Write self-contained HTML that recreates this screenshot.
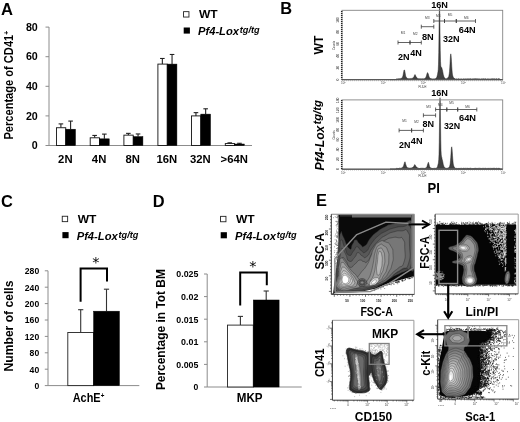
<!DOCTYPE html>
<html><head><meta charset="utf-8"><title>Figure</title>
<style>html,body{margin:0;padding:0;background:#fff}svg{display:block;will-change:transform}text{font-family:"Liberation Sans",sans-serif}</style>
</head><body>
<svg width="520" height="422" viewBox="0 0 520 422">
<rect width="520" height="422" fill="#fff"/>
<g id="panelA">
<text x="1.0" y="14.6" font-size="16.6" text-anchor="start" fill="#000" font-weight="bold" >A</text>
<line x1="49" y1="27" x2="49" y2="145.5" stroke="#8c8c8c" stroke-width="1" />
<line x1="49" y1="145.5" x2="252" y2="145.5" stroke="#8c8c8c" stroke-width="1" />
<line x1="45.5" y1="145.5" x2="49" y2="145.5" stroke="#8c8c8c" stroke-width="1" />
<text x="37.8" y="149.2" font-size="10.8" text-anchor="end" fill="#000" font-weight="bold" textLength="5.95" lengthAdjust="spacingAndGlyphs" >0</text>
<line x1="45.5" y1="115.9" x2="49" y2="115.9" stroke="#8c8c8c" stroke-width="1" />
<text x="37.8" y="119.60000000000001" font-size="10.8" text-anchor="end" fill="#000" font-weight="bold" textLength="11.9" lengthAdjust="spacingAndGlyphs" >20</text>
<line x1="45.5" y1="86.3" x2="49" y2="86.3" stroke="#8c8c8c" stroke-width="1" />
<text x="37.8" y="90.0" font-size="10.8" text-anchor="end" fill="#000" font-weight="bold" textLength="11.9" lengthAdjust="spacingAndGlyphs" >40</text>
<line x1="45.5" y1="56.7" x2="49" y2="56.7" stroke="#8c8c8c" stroke-width="1" />
<text x="37.8" y="60.400000000000006" font-size="10.8" text-anchor="end" fill="#000" font-weight="bold" textLength="11.9" lengthAdjust="spacingAndGlyphs" >60</text>
<line x1="45.5" y1="27.099999999999994" x2="49" y2="27.099999999999994" stroke="#8c8c8c" stroke-width="1" />
<text x="37.8" y="30.799999999999994" font-size="10.8" text-anchor="end" fill="#000" font-weight="bold" textLength="11.9" lengthAdjust="spacingAndGlyphs" >80</text>
<line x1="60.9" y1="127.74000000000001" x2="60.9" y2="123.89200000000001" stroke="#222" stroke-width="1.1" />
<line x1="58.6" y1="123.89200000000001" x2="63.199999999999996" y2="123.89200000000001" stroke="#222" stroke-width="1.1" />
<line x1="70.6" y1="129.22" x2="70.6" y2="121.08" stroke="#222" stroke-width="1.1" />
<line x1="68.3" y1="121.08" x2="72.89999999999999" y2="121.08" stroke="#222" stroke-width="1.1" />
<rect x="56.449999999999996" y="127.74000000000001" width="9.299999999999999" height="17.75999999999999" fill="#fff" stroke="#111" stroke-width="0.9" />
<rect x="65.75" y="129.22" width="9.7" height="16.28" fill="#000" stroke="#000" stroke-width="0.5" />
<text x="65.35" y="162.8" font-size="11.3" text-anchor="middle" fill="#000" font-weight="bold" >2N</text>
<line x1="94.65" y1="137.804" x2="94.65" y2="135.436" stroke="#222" stroke-width="1.1" />
<line x1="92.35000000000001" y1="135.436" x2="96.95" y2="135.436" stroke="#222" stroke-width="1.1" />
<line x1="104.35" y1="138.84" x2="104.35" y2="134.104" stroke="#222" stroke-width="1.1" />
<line x1="102.05" y1="134.104" x2="106.64999999999999" y2="134.104" stroke="#222" stroke-width="1.1" />
<rect x="90.2" y="137.804" width="9.299999999999999" height="7.695999999999998" fill="#fff" stroke="#111" stroke-width="0.9" />
<rect x="99.5" y="138.84" width="9.7" height="6.659999999999997" fill="#000" stroke="#000" stroke-width="0.5" />
<text x="99.1" y="162.8" font-size="11.3" text-anchor="middle" fill="#000" font-weight="bold" >4N</text>
<line x1="128.35" y1="135.14" x2="128.35" y2="133.36399999999998" stroke="#222" stroke-width="1.1" />
<line x1="126.05" y1="133.36399999999998" x2="130.65" y2="133.36399999999998" stroke="#222" stroke-width="1.1" />
<line x1="138.04999999999998" y1="136.62" x2="138.04999999999998" y2="133.95600000000002" stroke="#222" stroke-width="1.1" />
<line x1="135.74999999999997" y1="133.95600000000002" x2="140.35" y2="133.95600000000002" stroke="#222" stroke-width="1.1" />
<rect x="123.89999999999999" y="135.14" width="9.299999999999999" height="10.360000000000014" fill="#fff" stroke="#111" stroke-width="0.9" />
<rect x="133.2" y="136.62" width="9.7" height="8.879999999999995" fill="#000" stroke="#000" stroke-width="0.5" />
<text x="132.79999999999998" y="162.8" font-size="11.3" text-anchor="middle" fill="#000" font-weight="bold" >8N</text>
<line x1="162.35" y1="64.1" x2="162.35" y2="58.47599999999999" stroke="#222" stroke-width="1.1" />
<line x1="160.04999999999998" y1="58.47599999999999" x2="164.65" y2="58.47599999999999" stroke="#222" stroke-width="1.1" />
<line x1="172.04999999999998" y1="64.1" x2="172.04999999999998" y2="54.48" stroke="#222" stroke-width="1.1" />
<line x1="169.74999999999997" y1="54.48" x2="174.35" y2="54.48" stroke="#222" stroke-width="1.1" />
<rect x="157.9" y="64.1" width="9.299999999999999" height="81.4" fill="#fff" stroke="#111" stroke-width="0.9" />
<rect x="167.2" y="64.1" width="9.7" height="81.4" fill="#000" stroke="#000" stroke-width="0.5" />
<text x="166.79999999999998" y="162.8" font-size="11.3" text-anchor="middle" fill="#000" font-weight="bold" >16N</text>
<line x1="195.95000000000002" y1="115.9" x2="195.95000000000002" y2="112.644" stroke="#222" stroke-width="1.1" />
<line x1="193.65" y1="112.644" x2="198.25000000000003" y2="112.644" stroke="#222" stroke-width="1.1" />
<line x1="205.65" y1="114.124" x2="205.65" y2="108.79599999999999" stroke="#222" stroke-width="1.1" />
<line x1="203.35" y1="108.79599999999999" x2="207.95000000000002" y2="108.79599999999999" stroke="#222" stroke-width="1.1" />
<rect x="191.50000000000003" y="115.9" width="9.299999999999999" height="29.599999999999994" fill="#fff" stroke="#111" stroke-width="0.9" />
<rect x="200.8" y="114.124" width="9.7" height="31.376000000000005" fill="#000" stroke="#000" stroke-width="0.5" />
<text x="200.4" y="162.8" font-size="11.3" text-anchor="middle" fill="#000" font-weight="bold" >32N</text>
<line x1="229.75" y1="143.576" x2="229.75" y2="142.83599999999998" stroke="#222" stroke-width="1.1" />
<line x1="227.45" y1="142.83599999999998" x2="232.05" y2="142.83599999999998" stroke="#222" stroke-width="1.1" />
<line x1="239.45" y1="144.02" x2="239.45" y2="143.28" stroke="#222" stroke-width="1.1" />
<line x1="237.14999999999998" y1="143.28" x2="241.75" y2="143.28" stroke="#222" stroke-width="1.1" />
<rect x="225.3" y="143.576" width="9.299999999999999" height="1.9240000000000066" fill="#fff" stroke="#111" stroke-width="0.9" />
<rect x="234.6" y="144.02" width="9.7" height="1.4799999999999898" fill="#000" stroke="#000" stroke-width="0.5" />
<text x="234.2" y="162.8" font-size="11.3" text-anchor="middle" fill="#000" font-weight="bold" >&gt;64N</text>
<rect x="183.55" y="11.65" width="5.4" height="5.4" fill="#fff" stroke="#222" stroke-width="0.9" />
<text x="199" y="18.3" font-size="11.3" text-anchor="start" fill="#000" font-weight="bold" textLength="18.7" lengthAdjust="spacingAndGlyphs" >WT</text>
<rect x="183.7" y="27.5" width="6.2" height="6.1" fill="#000" stroke="none" stroke-width="0" />
<text x="198.0" y="35.2" font-size="11.2" text-anchor="start" fill="#000" font-weight="bold" font-style="italic" textLength="41" lengthAdjust="spacingAndGlyphs" >Pf4-Lox</text>
<text x="239.8" y="33.1" font-size="9.2" text-anchor="start" fill="#000" font-weight="bold" font-style="italic" textLength="19.8" lengthAdjust="spacingAndGlyphs" >tg/tg</text>
<text x="13.3" y="139.6" font-size="12.3" text-anchor="start" fill="#000" font-weight="bold" textLength="108.8" lengthAdjust="spacingAndGlyphs" transform="rotate(-90 13.3 139.6)" >Percentage of CD41<tspan font-size="7.5" dy="-4">+</tspan></text>
</g>
<g id="panelB">
<text x="280.2" y="13.8" font-size="16.4" text-anchor="start" fill="#000" font-weight="bold" >B</text>
<path d="M390 79.60 L390.00 79.60 L390.25 79.60 L390.50 79.60 L390.75 79.60 L391.00 79.60 L391.25 79.60 L391.50 79.60 L391.75 79.60 L392.00 79.60 L392.25 79.60 L392.50 79.60 L392.75 79.60 L393.00 79.60 L393.25 79.60 L393.50 79.60 L393.75 79.60 L394.00 79.60 L394.25 79.60 L394.50 79.60 L394.75 79.60 L395.00 79.60 L395.25 79.60 L395.50 79.60 L395.75 79.60 L396.00 79.60 L396.25 78.98 L396.50 78.83 L396.75 78.91 L397.00 78.80 L397.25 78.79 L397.50 79.07 L397.75 79.09 L398.00 78.68 L398.25 78.97 L398.50 78.98 L398.75 78.59 L399.00 78.85 L399.25 78.65 L399.50 78.82 L399.75 78.71 L400.00 78.92 L400.25 78.64 L400.50 78.46 L400.75 78.56 L401.00 78.35 L401.25 78.26 L401.50 78.42 L401.75 77.89 L402.00 77.74 L402.25 77.59 L402.50 77.29 L402.75 76.25 L403.00 75.55 L403.25 74.24 L403.50 72.74 L403.75 71.40 L404.00 70.18 L404.25 69.92 L404.50 69.94 L404.75 71.03 L405.00 72.13 L405.25 73.61 L405.50 75.30 L405.75 76.29 L406.00 76.98 L406.25 77.10 L406.50 77.71 L406.75 77.87 L407.00 78.23 L407.25 78.29 L407.50 78.48 L407.75 78.61 L408.00 78.57 L408.25 78.64 L408.50 78.53 L408.75 78.67 L409.00 78.57 L409.25 78.63 L409.50 78.57 L409.75 78.73 L410.00 78.98 L410.25 78.62 L410.50 78.54 L410.75 78.55 L411.00 78.68 L411.25 78.56 L411.50 78.75 L411.75 78.37 L412.00 78.41 L412.25 78.46 L412.50 78.45 L412.75 77.93 L413.00 77.70 L413.25 77.94 L413.50 77.31 L413.75 77.11 L414.00 76.72 L414.25 76.02 L414.50 75.16 L414.75 74.64 L415.00 74.88 L415.25 74.77 L415.50 75.52 L415.75 75.81 L416.00 76.63 L416.25 76.87 L416.50 77.22 L416.75 77.74 L417.00 77.69 L417.25 78.20 L417.50 78.45 L417.75 78.30 L418.00 78.69 L418.25 78.69 L418.50 78.65 L418.75 78.61 L419.00 78.89 L419.25 78.98 L419.50 78.60 L419.75 78.89 L420.00 78.59 L420.25 78.63 L420.50 78.90 L420.75 78.86 L421.00 78.83 L421.25 78.77 L421.50 78.80 L421.75 78.82 L422.00 78.78 L422.25 78.62 L422.50 78.83 L422.75 78.86 L423.00 78.70 L423.25 78.93 L423.50 78.87 L423.75 78.49 L424.00 78.66 L424.25 78.58 L424.50 78.76 L424.75 78.44 L425.00 78.20 L425.25 78.29 L425.50 77.73 L425.75 77.38 L426.00 77.19 L426.25 76.28 L426.50 75.58 L426.75 74.58 L427.00 73.85 L427.25 72.96 L427.50 72.57 L427.75 72.97 L428.00 73.41 L428.25 73.86 L428.50 74.62 L428.75 75.85 L429.00 76.51 L429.25 77.03 L429.50 77.61 L429.75 77.92 L430.00 78.18 L430.25 78.34 L430.50 78.37 L430.75 78.63 L431.00 78.68 L431.25 78.55 L431.50 78.97 L431.75 78.74 L432.00 78.68 L432.25 78.91 L432.50 78.97 L432.75 78.69 L433.00 78.97 L433.25 79.00 L433.50 78.88 L433.75 78.75 L434.00 79.04 L434.25 78.93 L434.50 78.91 L434.75 78.65 L435.00 78.81 L435.25 78.55 L435.50 78.81 L435.75 78.60 L436.00 78.24 L436.25 77.84 L436.50 77.66 L436.75 77.23 L437.00 76.58 L437.25 75.50 L437.50 74.62 L437.75 73.08 L438.00 71.55 L438.25 69.45 L438.50 64.14 L438.75 52.45 L439.00 33.54 L439.25 13.02 L439.50 8.10 L439.75 12.76 L440.00 32.46 L440.25 50.44 L440.50 61.24 L440.75 65.45 L441.00 66.73 L441.25 67.14 L441.50 67.42 L441.75 67.57 L442.00 68.59 L442.25 69.58 L442.50 70.28 L442.75 71.63 L443.00 72.91 L443.25 74.43 L443.50 75.24 L443.75 76.11 L444.00 77.12 L444.25 77.35 L444.50 77.67 L444.75 78.02 L445.00 78.30 L445.25 78.56 L445.50 78.64 L445.75 78.77 L446.00 78.90 L446.25 78.66 L446.50 78.80 L446.75 78.50 L447.00 78.81 L447.25 78.27 L447.50 78.21 L447.75 77.87 L448.00 77.59 L448.25 77.21 L448.50 76.87 L448.75 76.47 L449.00 75.11 L449.25 73.86 L449.50 71.44 L449.75 67.90 L450.00 63.74 L450.25 59.33 L450.50 55.42 L450.75 53.85 L451.00 54.74 L451.25 57.78 L451.50 61.76 L451.75 66.39 L452.00 69.98 L452.25 72.94 L452.50 74.85 L452.75 75.86 L453.00 76.51 L453.25 77.39 L453.50 77.51 L453.75 77.77 L454.00 78.08 L454.25 78.26 L454.50 78.81 L454.75 78.60 L455.00 78.55 L455.25 79.00 L455.50 78.92 L455.75 78.94 L456.00 78.82 L456.25 78.88 L456.50 78.86 L456.75 78.71 L457.00 79.10 L457.25 79.07 L457.50 79.04 L457.75 79.04 L458.00 79.07 L458.25 78.61 L458.50 78.67 L458.75 79.06 L459.00 78.85 L459.25 78.94 L459.50 78.94 L459.75 78.92 L460.00 78.78 L460.25 78.81 L460.50 78.92 L460.75 79.00 L461.00 78.94 L461.25 79.04 L461.50 78.82 L461.75 78.74 L462.00 78.91 L462.25 79.06 L462.50 79.01 L462.75 78.91 L463.00 78.80 L463.25 78.71 L463.50 78.91 L463.75 78.70 L464.00 78.79 L464.25 78.88 L464.50 78.91 L464.75 78.85 L465.00 78.75 L465.25 78.89 L465.50 78.75 L465.75 78.87 L466.00 78.98 L466.25 78.83 L466.50 78.75 L466.75 79.06 L467.00 78.89 L467.25 78.89 L467.50 78.66 L467.75 78.63 L468.00 78.91 L468.25 78.65 L468.50 78.70 L468.75 78.97 L469.00 78.87 L469.25 79.04 L469.50 78.69 L469.75 78.77 L470.00 78.66 L470.25 78.70 L470.50 78.77 L470.75 78.73 L471.00 78.82 L471.25 79.05 L471.50 78.81 L471.75 79.10 L472.00 79.03 L472.25 78.71 L472.50 79.08 L472.75 79.05 L473.00 79.05 L473.25 78.66 L473.50 79.01 L473.75 79.09 L474.00 78.68 L474.25 79.04 L474.50 78.68 L474.75 78.76 L475.00 78.68 L475.25 78.62 L475.50 78.81 L475.75 78.70 L476.00 79.08 L476.25 78.72 L476.50 78.84 L476.75 78.74 L477.00 79.05 L477.25 78.73 L477.50 78.63 L477.75 79.07 L478.00 78.94 L478.25 78.82 L478.50 78.69 L478.75 78.98 L479.00 79.01 L479.25 78.98 L479.50 78.79 L479.75 78.72 L480.00 78.90 L480.25 78.92 L480.50 78.90 L480.75 78.92 L481.00 78.89 L481.25 79.06 L481.50 78.85 L481.75 78.61 L482.00 78.89 L482.25 78.73 L482.50 79.02 L482.75 78.75 L483.00 78.72 L483.25 78.76 L483.50 78.84 L483.75 78.86 L484.00 78.78 L484.25 78.65 L484.50 79.03 L484.75 79.05 L485.00 78.73 L485.25 78.64 L485.50 78.84 L485.75 78.88 L486.00 78.74 L486.25 79.01 L486.50 78.97 L486.75 79.00 L487.00 78.81 L487.25 78.94 L487.50 78.98 L487.75 78.75 L488.00 78.62 L488.25 78.95 L488.50 78.75 L488.75 78.89 L489.00 78.67 L489.25 78.81 L489.50 78.97 L489.75 78.99 L490.00 79.09 L490.25 78.86 L490.50 78.91 L490.75 79.01 L491.00 78.92 L491.25 78.94 L491.50 78.71 L491.75 79.03 L492.00 78.60 L492.25 78.86 L492.50 78.80 L492.75 78.87 L493.00 78.68 L493.25 78.69 L493.50 78.82 L493.75 78.86 L494.00 78.74 L494.25 78.67 L494.50 78.90 L494.75 78.73 L495.00 78.62 L495.25 78.87 L495.50 78.99 L495.75 78.98 L496.00 78.74 L496.25 78.76 L496.50 78.62 L496.75 78.67 L497.00 78.98 L497.25 79.01 L497.50 78.97 L497.75 79.01 L498.00 78.75 L498.25 78.67 L498.50 78.65 L498.75 78.97 L499.00 78.67 L499.25 78.94 L499.50 78.89 L499.75 78.74 L500.00 79.60 L500.25 79.60 L500.50 79.60 L500.75 79.60 L501.00 79.60 L501.25 79.60 L501.50 79.60 L501.75 79.60 L502.00 79.60 L502.25 79.60 L502.50 79.60 L502.70 79.60 Z" fill="#404040" stroke="#1a1a1a" stroke-width="0.45"/>
<rect x="342.0" y="10.3" width="160.7" height="69.3" fill="none" stroke="#858585" stroke-width="0.9" />
<line x1="341.6" y1="79.8" x2="502.7" y2="79.8" stroke="#444" stroke-width="1.1" />
<line x1="341.7" y1="11" x2="341.7" y2="79.6" stroke="#222" stroke-width="1.5" stroke-dasharray="1 1"/>
<line x1="342.0" y1="80.69999999999999" x2="502.7" y2="80.69999999999999" stroke="#666" stroke-width="0.7" stroke-dasharray="0.5 1.5"/>
<text x="338.7" y="79.6" font-size="3.3" text-anchor="middle" fill="#222" font-weight="normal" transform="rotate(-90 338.7 79.6)" >0</text>
<text x="338.7" y="67.69999999999999" font-size="3.3" text-anchor="middle" fill="#222" font-weight="normal" transform="rotate(-90 338.7 67.69999999999999)" >20</text>
<text x="338.7" y="55.8" font-size="3.3" text-anchor="middle" fill="#222" font-weight="normal" transform="rotate(-90 338.7 55.8)" >40</text>
<text x="338.7" y="43.89999999999999" font-size="3.3" text-anchor="middle" fill="#222" font-weight="normal" transform="rotate(-90 338.7 43.89999999999999)" >60</text>
<text x="338.7" y="31.999999999999993" font-size="3.3" text-anchor="middle" fill="#222" font-weight="normal" transform="rotate(-90 338.7 31.999999999999993)" >80</text>
<text x="338.7" y="20.099999999999994" font-size="3.3" text-anchor="middle" fill="#222" font-weight="normal" transform="rotate(-90 338.7 20.099999999999994)" >100</text>
<text x="334.7" y="45.449999999999996" font-size="2.9" text-anchor="middle" fill="#333" font-weight="normal" transform="rotate(-90 334.7 45.449999999999996)" >Counts</text>
<text x="343.29999999999995" y="84.39999999999999" font-size="3.2" text-anchor="middle" fill="#444" font-weight="normal" >10<tspan font-size="2.2" dy="-1.3">0</tspan></text>
<text x="383.34999999999997" y="84.39999999999999" font-size="3.2" text-anchor="middle" fill="#444" font-weight="normal" >10<tspan font-size="2.2" dy="-1.3">1</tspan></text>
<text x="423.4" y="84.39999999999999" font-size="3.2" text-anchor="middle" fill="#444" font-weight="normal" >10<tspan font-size="2.2" dy="-1.3">2</tspan></text>
<text x="463.44999999999993" y="84.39999999999999" font-size="3.2" text-anchor="middle" fill="#444" font-weight="normal" >10<tspan font-size="2.2" dy="-1.3">3</tspan></text>
<text x="503.49999999999994" y="84.39999999999999" font-size="3.2" text-anchor="middle" fill="#444" font-weight="normal" >10<tspan font-size="2.2" dy="-1.3">4</tspan></text>
<text x="422.4" y="88.0" font-size="2.9" text-anchor="middle" fill="#333" font-weight="normal" >FL3-H</text>
<line x1="398" y1="42.5" x2="410" y2="42.5" stroke="#3a3a3a" stroke-width="0.8" />
<line x1="398" y1="40.5" x2="398" y2="44.5" stroke="#3a3a3a" stroke-width="0.8" />
<line x1="410" y1="40.5" x2="410" y2="44.5" stroke="#3a3a3a" stroke-width="0.8" />
<text x="403" y="34.2" font-size="3.3" text-anchor="middle" fill="#444" font-weight="normal" >M1</text>
<line x1="410" y1="42.5" x2="421.3" y2="42.5" stroke="#3a3a3a" stroke-width="0.8" />
<line x1="410" y1="40.5" x2="410" y2="44.5" stroke="#3a3a3a" stroke-width="0.8" />
<line x1="421.3" y1="40.5" x2="421.3" y2="44.5" stroke="#3a3a3a" stroke-width="0.8" />
<text x="415.2" y="34.8" font-size="3.3" text-anchor="middle" fill="#444" font-weight="normal" >M2</text>
<line x1="421.3" y1="26.7" x2="433.8" y2="26.7" stroke="#3a3a3a" stroke-width="0.8" />
<line x1="421.3" y1="24.7" x2="421.3" y2="28.7" stroke="#3a3a3a" stroke-width="0.8" />
<line x1="433.8" y1="24.7" x2="433.8" y2="28.7" stroke="#3a3a3a" stroke-width="0.8" />
<text x="427.2" y="19.2" font-size="3.3" text-anchor="middle" fill="#444" font-weight="normal" >M3</text>
<line x1="433.8" y1="21" x2="444.5" y2="21" stroke="#3a3a3a" stroke-width="0.8" />
<line x1="433.8" y1="19" x2="433.8" y2="23" stroke="#3a3a3a" stroke-width="0.8" />
<line x1="444.5" y1="19" x2="444.5" y2="23" stroke="#3a3a3a" stroke-width="0.8" />
<text x="438.2" y="17.0" font-size="3.3" text-anchor="middle" fill="#444" font-weight="normal" >M4</text>
<line x1="444.5" y1="21" x2="456.3" y2="21" stroke="#3a3a3a" stroke-width="0.8" />
<line x1="444.5" y1="19" x2="444.5" y2="23" stroke="#3a3a3a" stroke-width="0.8" />
<line x1="456.3" y1="19" x2="456.3" y2="23" stroke="#3a3a3a" stroke-width="0.8" />
<text x="450" y="16.0" font-size="3.3" text-anchor="middle" fill="#444" font-weight="normal" >M5</text>
<line x1="456.3" y1="21" x2="475.5" y2="21" stroke="#3a3a3a" stroke-width="0.8" />
<line x1="456.3" y1="19" x2="456.3" y2="23" stroke="#3a3a3a" stroke-width="0.8" />
<line x1="475.5" y1="19" x2="475.5" y2="23" stroke="#3a3a3a" stroke-width="0.8" />
<text x="466.3" y="18.8" font-size="3.3" text-anchor="middle" fill="#444" font-weight="normal" >M6</text>
<text x="431.2" y="7.6" font-size="8.9" text-anchor="start" fill="#000" font-weight="bold" textLength="16.8" lengthAdjust="spacingAndGlyphs" >16N</text>
<text x="398" y="60.2" font-size="8.9" text-anchor="start" fill="#000" font-weight="bold" textLength="11.6" lengthAdjust="spacingAndGlyphs" >2N</text>
<text x="410.2" y="56.4" font-size="8.9" text-anchor="start" fill="#000" font-weight="bold" textLength="11.6" lengthAdjust="spacingAndGlyphs" >4N</text>
<text x="421.9" y="40" font-size="8.9" text-anchor="start" fill="#000" font-weight="bold" textLength="11.8" lengthAdjust="spacingAndGlyphs" >8N</text>
<text x="443" y="42" font-size="8.9" text-anchor="start" fill="#000" font-weight="bold" textLength="16.6" lengthAdjust="spacingAndGlyphs" >32N</text>
<text x="458.8" y="33" font-size="8.9" text-anchor="start" fill="#000" font-weight="bold" textLength="16.8" lengthAdjust="spacingAndGlyphs" >64N</text>
<text x="323.1" y="54.4" font-size="12.8" text-anchor="start" fill="#000" font-weight="bold" textLength="19" lengthAdjust="spacingAndGlyphs" transform="rotate(-90 323.1 54.4)" >WT</text>
<path d="M390 169.00 L390.00 169.00 L390.25 169.00 L390.50 169.00 L390.75 169.00 L391.00 169.00 L391.25 169.00 L391.50 169.00 L391.75 169.00 L392.00 169.00 L392.25 169.00 L392.50 169.00 L392.75 169.00 L393.00 169.00 L393.25 169.00 L393.50 169.00 L393.75 169.00 L394.00 169.00 L394.25 169.00 L394.50 169.00 L394.75 169.00 L395.00 169.00 L395.25 169.00 L395.50 169.00 L395.75 169.00 L396.00 169.00 L396.25 168.38 L396.50 168.23 L396.75 168.32 L397.00 168.20 L397.25 168.19 L397.50 168.47 L397.75 168.49 L398.00 168.08 L398.25 168.37 L398.50 168.38 L398.75 168.00 L399.00 168.26 L399.25 168.07 L399.50 168.25 L399.75 168.16 L400.00 168.39 L400.25 168.14 L400.50 168.00 L400.75 168.14 L401.00 167.99 L401.25 167.96 L401.50 168.20 L401.75 167.76 L402.00 167.74 L402.25 167.75 L402.50 167.72 L402.75 167.10 L403.00 167.02 L403.25 166.51 L403.50 165.88 L403.75 165.22 L404.00 164.21 L404.25 163.49 L404.50 162.42 L404.75 162.07 L405.00 161.77 L405.25 162.25 L405.50 163.45 L405.75 164.40 L406.00 165.30 L406.25 165.71 L406.50 166.56 L406.75 166.88 L407.00 167.33 L407.25 167.45 L407.50 167.68 L407.75 167.83 L408.00 167.83 L408.25 167.92 L408.50 167.83 L408.75 168.00 L409.00 167.92 L409.25 167.98 L409.50 167.93 L409.75 168.10 L410.00 168.35 L410.25 167.99 L410.50 167.92 L410.75 167.92 L411.00 168.05 L411.25 167.93 L411.50 168.11 L411.75 167.73 L412.00 167.76 L412.25 167.80 L412.50 167.80 L412.75 167.26 L413.00 167.02 L413.25 167.25 L413.50 166.59 L413.75 166.38 L414.00 166.02 L414.25 165.45 L414.50 164.81 L414.75 164.57 L415.00 165.07 L415.25 165.11 L415.50 165.87 L415.75 166.04 L416.00 166.67 L416.25 166.74 L416.50 166.94 L416.75 167.37 L417.00 167.28 L417.25 167.75 L417.50 167.97 L417.75 167.81 L418.00 168.18 L418.25 168.16 L418.50 168.11 L418.75 168.06 L419.00 168.32 L419.25 168.41 L419.50 168.02 L419.75 168.31 L420.00 168.00 L420.25 168.04 L420.50 168.30 L420.75 168.26 L421.00 168.24 L421.25 168.18 L421.50 168.20 L421.75 168.22 L422.00 168.19 L422.25 168.03 L422.50 168.25 L422.75 168.28 L423.00 168.14 L423.25 168.38 L423.50 168.34 L423.75 168.00 L424.00 168.23 L424.25 168.20 L424.50 168.45 L424.75 168.23 L425.00 168.11 L425.25 168.34 L425.50 167.97 L425.75 167.87 L426.00 168.04 L426.25 167.58 L426.50 167.41 L426.75 166.93 L427.00 166.54 L427.25 165.58 L427.50 164.59 L427.75 163.92 L428.00 163.07 L428.25 162.37 L428.50 162.40 L428.75 163.44 L429.00 164.31 L429.25 165.26 L429.50 166.27 L429.75 166.89 L430.00 167.36 L430.25 167.62 L430.50 167.71 L430.75 167.99 L431.00 168.06 L431.25 167.94 L431.50 168.37 L431.75 168.14 L432.00 168.08 L432.25 168.32 L432.50 168.37 L432.75 168.09 L433.00 168.37 L433.25 168.40 L433.50 168.28 L433.75 168.15 L434.00 168.45 L434.25 168.34 L434.50 168.33 L434.75 168.08 L435.00 168.27 L435.25 168.06 L435.50 168.39 L435.75 168.28 L436.00 168.08 L436.25 167.88 L436.50 167.97 L436.75 167.89 L437.00 167.65 L437.25 167.03 L437.50 166.63 L437.75 165.56 L438.00 164.60 L438.25 163.77 L438.50 162.23 L438.75 159.49 L439.00 154.13 L439.25 142.22 L439.50 122.77 L439.75 101.68 L440.00 97.70 L440.25 100.48 L440.50 121.02 L440.75 139.69 L441.00 150.48 L441.25 154.94 L441.50 156.59 L441.75 157.24 L442.00 158.55 L442.25 159.72 L442.50 160.49 L442.75 161.82 L443.00 163.03 L443.25 164.43 L443.50 165.12 L443.75 165.89 L444.00 166.81 L444.25 166.97 L444.50 167.23 L444.75 167.55 L445.00 167.79 L445.25 168.03 L445.50 168.10 L445.75 168.22 L446.00 168.35 L446.25 168.13 L446.50 168.30 L446.75 168.05 L447.00 168.44 L447.25 168.00 L447.50 168.09 L447.75 167.93 L448.00 167.88 L448.25 167.78 L448.50 167.81 L448.75 167.89 L449.00 167.26 L449.25 167.19 L449.50 166.64 L449.75 165.75 L450.00 164.77 L450.25 163.20 L450.50 160.54 L450.75 157.45 L451.00 153.77 L451.25 150.14 L451.50 147.26 L451.75 146.81 L452.00 148.14 L452.25 151.48 L452.50 155.40 L452.75 158.89 L453.00 161.67 L453.25 164.06 L453.50 165.11 L453.75 165.94 L454.00 166.60 L454.25 167.02 L454.50 167.75 L454.75 167.67 L455.00 167.73 L455.25 168.25 L455.50 168.23 L455.75 168.28 L456.00 168.19 L456.25 168.26 L456.50 168.25 L456.75 168.10 L457.00 168.49 L457.25 168.47 L457.50 168.44 L457.75 168.44 L458.00 168.47 L458.25 168.01 L458.50 168.07 L458.75 168.46 L459.00 168.25 L459.25 168.34 L459.50 168.34 L459.75 168.32 L460.00 168.18 L460.25 168.21 L460.50 168.32 L460.75 168.40 L461.00 168.34 L461.25 168.44 L461.50 168.22 L461.75 168.14 L462.00 168.31 L462.25 168.46 L462.50 168.41 L462.75 168.31 L463.00 168.20 L463.25 168.11 L463.50 168.31 L463.75 168.10 L464.00 168.19 L464.25 168.28 L464.50 168.31 L464.75 168.25 L465.00 168.15 L465.25 168.29 L465.50 168.15 L465.75 168.27 L466.00 168.38 L466.25 168.23 L466.50 168.15 L466.75 168.46 L467.00 168.29 L467.25 168.29 L467.50 168.06 L467.75 168.03 L468.00 168.31 L468.25 168.05 L468.50 168.10 L468.75 168.37 L469.00 168.27 L469.25 168.44 L469.50 168.09 L469.75 168.17 L470.00 168.06 L470.25 168.10 L470.50 168.17 L470.75 168.13 L471.00 168.22 L471.25 168.45 L471.50 168.21 L471.75 168.50 L472.00 168.43 L472.25 168.11 L472.50 168.48 L472.75 168.45 L473.00 168.45 L473.25 168.06 L473.50 168.41 L473.75 168.49 L474.00 168.08 L474.25 168.44 L474.50 168.08 L474.75 168.16 L475.00 168.08 L475.25 168.02 L475.50 168.21 L475.75 168.10 L476.00 168.48 L476.25 168.12 L476.50 168.24 L476.75 168.14 L477.00 168.45 L477.25 168.13 L477.50 168.03 L477.75 168.47 L478.00 168.34 L478.25 168.22 L478.50 168.09 L478.75 168.38 L479.00 168.41 L479.25 168.38 L479.50 168.19 L479.75 168.12 L480.00 168.30 L480.25 168.32 L480.50 168.30 L480.75 168.32 L481.00 168.29 L481.25 168.46 L481.50 168.25 L481.75 168.01 L482.00 168.29 L482.25 168.13 L482.50 168.42 L482.75 168.15 L483.00 168.12 L483.25 168.16 L483.50 168.24 L483.75 168.26 L484.00 168.18 L484.25 168.05 L484.50 168.43 L484.75 168.45 L485.00 168.13 L485.25 168.04 L485.50 168.24 L485.75 168.28 L486.00 168.14 L486.25 168.41 L486.50 168.37 L486.75 168.40 L487.00 168.21 L487.25 168.34 L487.50 168.38 L487.75 168.15 L488.00 168.02 L488.25 168.35 L488.50 168.15 L488.75 168.29 L489.00 168.07 L489.25 168.21 L489.50 168.37 L489.75 168.39 L490.00 168.49 L490.25 168.26 L490.50 168.31 L490.75 168.41 L491.00 168.32 L491.25 168.34 L491.50 168.11 L491.75 168.43 L492.00 168.00 L492.25 168.26 L492.50 168.20 L492.75 168.27 L493.00 168.08 L493.25 168.09 L493.50 168.22 L493.75 168.26 L494.00 168.14 L494.25 168.07 L494.50 168.30 L494.75 168.13 L495.00 168.02 L495.25 168.27 L495.50 168.39 L495.75 168.38 L496.00 168.14 L496.25 168.16 L496.50 168.02 L496.75 168.07 L497.00 168.38 L497.25 168.41 L497.50 168.37 L497.75 168.41 L498.00 168.15 L498.25 168.07 L498.50 168.05 L498.75 168.37 L499.00 168.07 L499.25 168.34 L499.50 168.29 L499.75 168.14 L500.00 169.00 L500.25 169.00 L500.50 169.00 L500.75 169.00 L501.00 169.00 L501.25 169.00 L501.50 169.00 L501.75 169.00 L502.00 169.00 L502.25 169.00 L502.50 169.00 L502.70 169.00 Z" fill="#404040" stroke="#1a1a1a" stroke-width="0.45"/>
<rect x="342.0" y="99.9" width="160.7" height="69.1" fill="none" stroke="#858585" stroke-width="0.9" />
<line x1="341.6" y1="169.2" x2="502.7" y2="169.2" stroke="#444" stroke-width="1.1" />
<line x1="341.7" y1="100" x2="341.7" y2="169.0" stroke="#222" stroke-width="1.5" stroke-dasharray="1 1"/>
<line x1="342.0" y1="170.1" x2="502.7" y2="170.1" stroke="#666" stroke-width="0.7" stroke-dasharray="0.5 1.5"/>
<text x="338.7" y="169.0" font-size="3.3" text-anchor="middle" fill="#222" font-weight="normal" transform="rotate(-90 338.7 169.0)" >0</text>
<text x="338.7" y="159.2" font-size="3.3" text-anchor="middle" fill="#222" font-weight="normal" transform="rotate(-90 338.7 159.2)" >20</text>
<text x="338.7" y="149.4" font-size="3.3" text-anchor="middle" fill="#222" font-weight="normal" transform="rotate(-90 338.7 149.4)" >40</text>
<text x="338.7" y="139.6" font-size="3.3" text-anchor="middle" fill="#222" font-weight="normal" transform="rotate(-90 338.7 139.6)" >60</text>
<text x="338.7" y="129.8" font-size="3.3" text-anchor="middle" fill="#222" font-weight="normal" transform="rotate(-90 338.7 129.8)" >80</text>
<text x="338.7" y="120.0" font-size="3.3" text-anchor="middle" fill="#222" font-weight="normal" transform="rotate(-90 338.7 120.0)" >100</text>
<text x="338.7" y="110.19999999999999" font-size="3.3" text-anchor="middle" fill="#222" font-weight="normal" transform="rotate(-90 338.7 110.19999999999999)" >120</text>
<text x="338.7" y="100.39999999999999" font-size="3.3" text-anchor="middle" fill="#222" font-weight="normal" transform="rotate(-90 338.7 100.39999999999999)" >140</text>
<text x="334.7" y="134.95" font-size="2.9" text-anchor="middle" fill="#333" font-weight="normal" transform="rotate(-90 334.7 134.95)" >Counts</text>
<text x="343.29999999999995" y="173.8" font-size="3.2" text-anchor="middle" fill="#444" font-weight="normal" >10<tspan font-size="2.2" dy="-1.3">0</tspan></text>
<text x="383.34999999999997" y="173.8" font-size="3.2" text-anchor="middle" fill="#444" font-weight="normal" >10<tspan font-size="2.2" dy="-1.3">1</tspan></text>
<text x="423.4" y="173.8" font-size="3.2" text-anchor="middle" fill="#444" font-weight="normal" >10<tspan font-size="2.2" dy="-1.3">2</tspan></text>
<text x="463.44999999999993" y="173.8" font-size="3.2" text-anchor="middle" fill="#444" font-weight="normal" >10<tspan font-size="2.2" dy="-1.3">3</tspan></text>
<text x="503.49999999999994" y="173.8" font-size="3.2" text-anchor="middle" fill="#444" font-weight="normal" >10<tspan font-size="2.2" dy="-1.3">4</tspan></text>
<text x="422.4" y="177.4" font-size="2.9" text-anchor="middle" fill="#333" font-weight="normal" >FL3-H</text>
<line x1="399.1" y1="130.4" x2="411.6" y2="130.4" stroke="#3a3a3a" stroke-width="0.8" />
<line x1="399.1" y1="128.4" x2="399.1" y2="132.4" stroke="#3a3a3a" stroke-width="0.8" />
<line x1="411.6" y1="128.4" x2="411.6" y2="132.4" stroke="#3a3a3a" stroke-width="0.8" />
<text x="404.5" y="122.3" font-size="3.3" text-anchor="middle" fill="#444" font-weight="normal" >M1</text>
<line x1="411.6" y1="130.4" x2="423.4" y2="130.4" stroke="#3a3a3a" stroke-width="0.8" />
<line x1="411.6" y1="128.4" x2="411.6" y2="132.4" stroke="#3a3a3a" stroke-width="0.8" />
<line x1="423.4" y1="128.4" x2="423.4" y2="132.4" stroke="#3a3a3a" stroke-width="0.8" />
<text x="416.5" y="122.8" font-size="3.3" text-anchor="middle" fill="#444" font-weight="normal" >M2</text>
<line x1="423.4" y1="115.3" x2="435.6" y2="115.3" stroke="#3a3a3a" stroke-width="0.8" />
<line x1="423.4" y1="113.3" x2="423.4" y2="117.3" stroke="#3a3a3a" stroke-width="0.8" />
<line x1="435.6" y1="113.3" x2="435.6" y2="117.3" stroke="#3a3a3a" stroke-width="0.8" />
<text x="428.6" y="107.6" font-size="3.3" text-anchor="middle" fill="#444" font-weight="normal" >M3</text>
<line x1="435.6" y1="109.5" x2="446.8" y2="109.5" stroke="#3a3a3a" stroke-width="0.8" />
<line x1="435.6" y1="107.5" x2="435.6" y2="111.5" stroke="#3a3a3a" stroke-width="0.8" />
<line x1="446.8" y1="107.5" x2="446.8" y2="111.5" stroke="#3a3a3a" stroke-width="0.8" />
<text x="440.2" y="105.6" font-size="3.3" text-anchor="middle" fill="#444" font-weight="normal" >M4</text>
<line x1="446.8" y1="109.5" x2="457.7" y2="109.5" stroke="#3a3a3a" stroke-width="0.8" />
<line x1="446.8" y1="107.5" x2="446.8" y2="111.5" stroke="#3a3a3a" stroke-width="0.8" />
<line x1="457.7" y1="107.5" x2="457.7" y2="111.5" stroke="#3a3a3a" stroke-width="0.8" />
<text x="451.6" y="104.4" font-size="3.3" text-anchor="middle" fill="#444" font-weight="normal" >M5</text>
<line x1="457.7" y1="109.5" x2="476.8" y2="109.5" stroke="#3a3a3a" stroke-width="0.8" />
<line x1="457.7" y1="107.5" x2="457.7" y2="111.5" stroke="#3a3a3a" stroke-width="0.8" />
<line x1="476.8" y1="107.5" x2="476.8" y2="111.5" stroke="#3a3a3a" stroke-width="0.8" />
<text x="467.6" y="108.1" font-size="3.3" text-anchor="middle" fill="#444" font-weight="normal" >M6</text>
<text x="431.2" y="95.8" font-size="8.9" text-anchor="start" fill="#000" font-weight="bold" textLength="16.8" lengthAdjust="spacingAndGlyphs" >16N</text>
<text x="399.1" y="147.9" font-size="8.9" text-anchor="start" fill="#000" font-weight="bold" textLength="11.4" lengthAdjust="spacingAndGlyphs" >2N</text>
<text x="410.8" y="143.5" font-size="8.9" text-anchor="start" fill="#000" font-weight="bold" textLength="11.7" lengthAdjust="spacingAndGlyphs" >4N</text>
<text x="422.4" y="127.1" font-size="8.9" text-anchor="start" fill="#000" font-weight="bold" textLength="11.6" lengthAdjust="spacingAndGlyphs" >8N</text>
<text x="443.9" y="129.1" font-size="8.9" text-anchor="start" fill="#000" font-weight="bold" textLength="16.2" lengthAdjust="spacingAndGlyphs" >32N</text>
<text x="459" y="120.6" font-size="8.9" text-anchor="start" fill="#000" font-weight="bold" textLength="17" lengthAdjust="spacingAndGlyphs" >64N</text>
<text x="323.8" y="170.4" font-size="13.0" text-anchor="start" fill="#000" font-weight="bold" font-style="italic" textLength="44.8" lengthAdjust="spacingAndGlyphs" transform="rotate(-90 323.8 170.4)" >Pf4-Lox</text>
<text x="321.2" y="124.6" font-size="10.4" text-anchor="start" fill="#000" font-weight="bold" font-style="italic" textLength="24.4" lengthAdjust="spacingAndGlyphs" transform="rotate(-90 321.2 124.6)" >tg/tg</text>
<text x="427.5" y="192.7" font-size="14.2" text-anchor="start" fill="#000" font-weight="bold" textLength="12.4" lengthAdjust="spacingAndGlyphs" >PI</text>
</g>
<g id="panelC">
<text x="1.0" y="206.8" font-size="16.4" text-anchor="start" fill="#000" font-weight="bold" >C</text>
<line x1="48.0" y1="270.80000000000007" x2="48.0" y2="385.6" stroke="#8c8c8c" stroke-width="1" />
<line x1="48.0" y1="385.6" x2="139.3" y2="385.6" stroke="#8c8c8c" stroke-width="1" />
<line x1="44.8" y1="385.6" x2="48.0" y2="385.6" stroke="#8c8c8c" stroke-width="1" />
<text x="39.2" y="389.0" font-size="9.8" text-anchor="end" fill="#000" font-weight="bold" textLength="4.8" lengthAdjust="spacingAndGlyphs" >0</text>
<line x1="44.8" y1="369.20000000000005" x2="48.0" y2="369.20000000000005" stroke="#8c8c8c" stroke-width="1" />
<text x="39.2" y="372.6" font-size="9.8" text-anchor="end" fill="#000" font-weight="bold" textLength="9.6" lengthAdjust="spacingAndGlyphs" >40</text>
<line x1="44.8" y1="352.8" x2="48.0" y2="352.8" stroke="#8c8c8c" stroke-width="1" />
<text x="39.2" y="356.2" font-size="9.8" text-anchor="end" fill="#000" font-weight="bold" textLength="9.6" lengthAdjust="spacingAndGlyphs" >80</text>
<line x1="44.8" y1="336.40000000000003" x2="48.0" y2="336.40000000000003" stroke="#8c8c8c" stroke-width="1" />
<text x="39.2" y="339.8" font-size="9.8" text-anchor="end" fill="#000" font-weight="bold" textLength="14.399999999999999" lengthAdjust="spacingAndGlyphs" >120</text>
<line x1="44.8" y1="320.0" x2="48.0" y2="320.0" stroke="#8c8c8c" stroke-width="1" />
<text x="39.2" y="323.4" font-size="9.8" text-anchor="end" fill="#000" font-weight="bold" textLength="14.399999999999999" lengthAdjust="spacingAndGlyphs" >160</text>
<line x1="44.8" y1="303.6" x2="48.0" y2="303.6" stroke="#8c8c8c" stroke-width="1" />
<text x="39.2" y="307.0" font-size="9.8" text-anchor="end" fill="#000" font-weight="bold" textLength="14.399999999999999" lengthAdjust="spacingAndGlyphs" >200</text>
<line x1="44.8" y1="287.20000000000005" x2="48.0" y2="287.20000000000005" stroke="#8c8c8c" stroke-width="1" />
<text x="39.2" y="290.6" font-size="9.8" text-anchor="end" fill="#000" font-weight="bold" textLength="14.399999999999999" lengthAdjust="spacingAndGlyphs" >240</text>
<line x1="44.8" y1="270.80000000000007" x2="48.0" y2="270.80000000000007" stroke="#8c8c8c" stroke-width="1" />
<text x="39.2" y="274.20000000000005" font-size="9.8" text-anchor="end" fill="#000" font-weight="bold" textLength="14.399999999999999" lengthAdjust="spacingAndGlyphs" >280</text>
<line x1="80.7" y1="332.5" x2="80.7" y2="309.7" stroke="#333" stroke-width="1.1" />
<line x1="78.10000000000001" y1="309.7" x2="83.3" y2="309.7" stroke="#333" stroke-width="1.1" />
<line x1="106.5" y1="311.2" x2="106.5" y2="289.2" stroke="#333" stroke-width="1.1" />
<line x1="103.9" y1="289.2" x2="109.1" y2="289.2" stroke="#333" stroke-width="1.1" />
<rect x="67.8" y="332.5" width="25.8" height="53.10000000000002" fill="#fff" stroke="#222" stroke-width="0.9" />
<rect x="93.6" y="311.2" width="25.8" height="74.40000000000003" fill="#000" stroke="#000" stroke-width="0.5" />
<path d="M80.6 301.8 V268.5 H107 V281.6" fill="none" stroke="#000" stroke-width="2.0"/>
<text x="95.8" y="266.8" font-size="14.5" text-anchor="middle" fill="#000" font-weight="normal" style="font-family:DejaVu Sans,sans-serif">*</text>
<rect x="62.25" y="216.25" width="5.4" height="5.4" fill="#fff" stroke="#222" stroke-width="0.9" />
<text x="77.7" y="222.9" font-size="11.3" text-anchor="start" fill="#000" font-weight="bold" textLength="18.7" lengthAdjust="spacingAndGlyphs" >WT</text>
<rect x="62.4" y="232.1" width="6.2" height="6.1" fill="#000" stroke="none" stroke-width="0" />
<text x="76.7" y="239.8" font-size="11.2" text-anchor="start" fill="#000" font-weight="bold" font-style="italic" textLength="41" lengthAdjust="spacingAndGlyphs" >Pf4-Lox</text>
<text x="118.5" y="237.7" font-size="9.2" text-anchor="start" fill="#000" font-weight="bold" font-style="italic" textLength="19.8" lengthAdjust="spacingAndGlyphs" >tg/tg</text>
<text x="12.8" y="371.4" font-size="12.6" text-anchor="start" fill="#000" font-weight="bold" textLength="90.8" lengthAdjust="spacingAndGlyphs" transform="rotate(-90 12.8 371.4)" >Number of cells</text>
<text x="72.7" y="401.6" font-size="12.2" text-anchor="start" fill="#000" font-weight="bold" textLength="31.6" lengthAdjust="spacingAndGlyphs" >AchE<tspan font-size="7" dy="-3.6">+</tspan></text>
</g>
<g id="panelD">
<text x="152.8" y="206.8" font-size="16.4" text-anchor="start" fill="#000" font-weight="bold" >D</text>
<line x1="207.2" y1="274.0" x2="207.2" y2="387.0" stroke="#8c8c8c" stroke-width="1" />
<line x1="207.2" y1="387.0" x2="301.7" y2="387.0" stroke="#8c8c8c" stroke-width="1" />
<line x1="204.0" y1="387.0" x2="207.2" y2="387.0" stroke="#8c8c8c" stroke-width="1" />
<text x="198.39999999999998" y="390.4" font-size="9.8" text-anchor="end" fill="#000" font-weight="bold" textLength="4.8" lengthAdjust="spacingAndGlyphs" >0</text>
<line x1="204.0" y1="364.4" x2="207.2" y2="364.4" stroke="#8c8c8c" stroke-width="1" />
<text x="198.39999999999998" y="367.79999999999995" font-size="9.8" text-anchor="end" fill="#000" font-weight="bold" textLength="22.1" lengthAdjust="spacingAndGlyphs" >0.005</text>
<line x1="204.0" y1="341.8" x2="207.2" y2="341.8" stroke="#8c8c8c" stroke-width="1" />
<text x="198.39999999999998" y="345.2" font-size="9.8" text-anchor="end" fill="#000" font-weight="bold" textLength="17.3" lengthAdjust="spacingAndGlyphs" >0.01</text>
<line x1="204.0" y1="319.2" x2="207.2" y2="319.2" stroke="#8c8c8c" stroke-width="1" />
<text x="198.39999999999998" y="322.59999999999997" font-size="9.8" text-anchor="end" fill="#000" font-weight="bold" textLength="22.1" lengthAdjust="spacingAndGlyphs" >0.015</text>
<line x1="204.0" y1="296.6" x2="207.2" y2="296.6" stroke="#8c8c8c" stroke-width="1" />
<text x="198.39999999999998" y="300.0" font-size="9.8" text-anchor="end" fill="#000" font-weight="bold" textLength="17.3" lengthAdjust="spacingAndGlyphs" >0.02</text>
<line x1="204.0" y1="274.0" x2="207.2" y2="274.0" stroke="#8c8c8c" stroke-width="1" />
<text x="198.39999999999998" y="277.4" font-size="9.8" text-anchor="end" fill="#000" font-weight="bold" textLength="22.1" lengthAdjust="spacingAndGlyphs" >0.025</text>
<line x1="240.4" y1="325.1" x2="240.4" y2="316.4" stroke="#333" stroke-width="1.1" />
<line x1="237.8" y1="316.4" x2="243.0" y2="316.4" stroke="#333" stroke-width="1.1" />
<line x1="266.2" y1="300.0" x2="266.2" y2="291.0" stroke="#333" stroke-width="1.1" />
<line x1="263.59999999999997" y1="291.0" x2="268.8" y2="291.0" stroke="#333" stroke-width="1.1" />
<rect x="227.5" y="325.1" width="25.8" height="61.89999999999998" fill="#fff" stroke="#222" stroke-width="0.9" />
<rect x="253.3" y="300.0" width="25.8" height="87.0" fill="#000" stroke="#000" stroke-width="0.5" />
<path d="M240.2 305.4 V272.6 H266.8 V285.2" fill="none" stroke="#000" stroke-width="2.0"/>
<text x="252.9" y="271.2" font-size="14.5" text-anchor="middle" fill="#000" font-weight="normal" style="font-family:DejaVu Sans,sans-serif">*</text>
<rect x="220.55" y="216.35" width="5.4" height="5.4" fill="#fff" stroke="#222" stroke-width="0.9" />
<text x="236.0" y="223.0" font-size="11.3" text-anchor="start" fill="#000" font-weight="bold" textLength="18.7" lengthAdjust="spacingAndGlyphs" >WT</text>
<rect x="220.7" y="232.2" width="6.2" height="6.1" fill="#000" stroke="none" stroke-width="0" />
<text x="235.0" y="239.9" font-size="11.2" text-anchor="start" fill="#000" font-weight="bold" font-style="italic" textLength="41" lengthAdjust="spacingAndGlyphs" >Pf4-Lox</text>
<text x="276.8" y="237.8" font-size="9.2" text-anchor="start" fill="#000" font-weight="bold" font-style="italic" textLength="19.8" lengthAdjust="spacingAndGlyphs" >tg/tg</text>
<text x="164.9" y="390.1" font-size="12.3" text-anchor="start" fill="#000" font-weight="bold" textLength="121" lengthAdjust="spacingAndGlyphs" transform="rotate(-90 164.9 390.1)" >Percentage in Tot BM</text>
<text x="236.8" y="401.8" font-size="12.0" text-anchor="start" fill="#000" font-weight="bold" textLength="25.8" lengthAdjust="spacingAndGlyphs" >MKP</text>
</g>
<g id="panelE">
<text x="316.0" y="205.6" font-size="16.4" text-anchor="start" fill="#000" font-weight="bold" >E</text>
<clipPath id="cE1"><rect x="331.3" y="214.2" width="83.1" height="80.2"/></clipPath>
<g clip-path="url(#cE1)">
<rect x="331.3" y="214.2" width="83.1" height="80.2" fill="#0a0a0a"/>
<rect x="352" y="214.6" width="59" height="2.9" fill="#6c6c6c"/>
<rect x="340" y="214.6" width="12" height="2.0" fill="#333"/>
<path d="M335.04 292.11 C328.86 286.14 334.69 285.00 335.04 273.98 C335.39 262.96 335.03 268.29 336.10 259.05 C337.17 249.81 336.67 255.15 338.24 246.26 C339.81 237.37 339.09 235.59 340.80 232.39 C342.51 229.19 340.52 231.33 343.36 236.66 C346.20 241.99 346.27 245.90 349.33 248.39 C352.39 250.88 350.40 246.96 352.53 244.12 C354.66 241.28 353.23 239.86 355.72 239.86 C358.21 239.86 357.00 242.13 359.99 244.12 C362.98 246.11 361.13 247.96 364.68 245.83 C368.23 243.70 366.53 242.41 370.65 237.72 C374.77 233.03 372.43 235.30 377.05 231.75 C381.67 228.20 379.54 229.62 384.52 227.06 C389.50 224.50 385.94 225.43 391.98 224.08 C398.02 222.73 395.53 223.30 402.64 223.01 C409.75 222.72 409.19 216.89 413.31 223.22 C417.43 229.55 414.44 227.49 415.01 241.99 C415.58 256.49 417.71 257.20 415.01 266.73 C412.31 276.26 412.10 268.22 406.91 270.57 C401.72 272.92 404.42 271.50 399.44 273.77 C394.46 276.04 396.46 274.90 391.98 277.39 C387.50 279.88 389.92 278.67 386.01 281.23 C382.10 283.79 385.37 282.37 380.25 285.07 C375.13 287.77 379.54 287.06 370.65 289.33 C361.76 291.60 365.46 290.96 353.59 291.89 C341.72 292.82 341.22 298.08 335.04 292.11 Z" fill="#484848" stroke="#222" stroke-width="0.4" />
<path d="M336.53 290.61 C330.84 285.14 336.17 283.79 336.53 273.98 C336.89 264.17 336.60 269.36 337.60 261.18 C338.60 253.00 338.31 256.56 339.52 249.45 C340.73 242.34 339.52 240.57 341.22 239.86 C342.92 239.15 342.07 242.20 344.63 247.32 C347.19 252.44 345.91 254.00 348.90 255.21 C351.89 256.42 350.89 253.79 353.59 250.95 C356.29 248.11 354.51 246.82 357.00 246.68 C359.49 246.54 358.07 248.88 361.06 250.52 C364.05 252.16 362.41 254.08 365.96 251.59 C369.51 249.10 367.67 248.25 371.72 243.06 C375.77 237.87 373.50 239.93 378.12 236.02 C382.74 232.11 380.25 234.03 385.58 231.33 C390.91 228.63 388.42 229.48 394.11 227.91 C399.80 226.34 397.24 226.91 402.64 226.63 C408.04 226.35 407.33 221.94 410.32 227.06 C413.31 232.18 411.32 229.34 411.60 241.99 C411.88 254.64 413.80 256.06 411.17 265.02 C408.54 273.98 408.54 266.30 403.71 268.86 C398.88 271.42 401.29 270.00 396.67 272.70 C392.05 275.40 394.40 273.84 389.85 276.97 C385.30 280.10 389.42 278.53 383.02 282.08 C376.62 285.63 380.46 284.86 370.65 287.63 C360.84 290.40 364.96 289.41 353.59 290.40 C342.22 291.39 342.22 296.08 336.53 290.61 Z" fill="#585858" stroke="#222" stroke-width="0.4" />
<path d="M337.81 289.33 C332.55 284.50 337.38 283.01 337.81 273.98 C338.24 264.95 338.09 269.36 339.09 262.25 C340.09 255.14 339.80 257.27 340.80 252.65 C341.80 248.03 340.52 248.03 342.08 248.39 C343.64 248.75 343.07 249.46 345.49 253.72 C347.91 257.98 346.27 259.97 349.33 261.18 C352.39 262.39 351.82 260.18 354.66 257.34 C357.50 254.50 355.37 253.15 357.86 252.65 C360.35 252.15 359.14 254.57 362.12 255.85 C365.10 257.13 363.40 259.12 366.81 256.49 C370.22 253.86 368.38 253.29 372.36 247.96 C376.34 242.63 374.21 244.76 378.76 240.50 C383.31 236.24 380.89 238.09 386.01 235.17 C391.13 232.25 388.92 233.17 394.11 231.75 C399.30 230.33 397.03 230.90 401.58 230.90 C406.13 230.90 405.13 227.34 407.76 231.75 C410.39 236.16 409.19 233.60 409.47 244.12 C409.75 254.64 411.24 254.93 408.61 263.32 C405.98 271.71 406.06 265.88 401.58 269.29 C397.10 272.70 399.45 270.21 395.18 273.55 C390.91 276.89 393.40 275.97 388.78 279.31 C384.16 282.65 387.36 281.09 381.32 283.58 C375.28 286.07 379.89 285.15 370.65 286.78 C361.41 288.41 364.54 287.63 353.59 288.48 C342.64 289.33 343.07 294.16 337.81 289.33 Z" fill="#686868" stroke="#222" stroke-width="0.4" />
<path d="M339.09 288.06 C334.26 284.15 338.66 282.94 339.09 275.05 C339.52 267.16 339.37 270.07 340.37 264.38 C341.37 258.69 340.23 259.19 342.08 257.98 C343.93 256.77 343.35 257.70 345.91 260.76 C348.47 263.82 346.62 266.17 349.75 267.16 C352.88 268.15 352.03 266.09 355.30 263.74 C358.57 261.39 356.72 260.83 359.56 260.12 C362.40 259.41 361.13 261.26 363.83 261.61 C366.53 261.96 364.68 264.31 367.67 261.18 C370.66 258.05 369.09 257.56 372.79 252.23 C376.49 246.90 374.64 249.17 378.76 245.19 C382.88 241.21 380.75 242.77 385.16 240.28 C389.57 237.79 387.57 238.57 391.98 237.72 C396.39 236.87 394.68 237.15 398.38 237.72 C402.08 238.29 400.94 235.87 403.07 239.43 C405.20 242.99 404.50 240.78 404.78 248.39 C405.06 256.00 406.05 255.71 403.92 262.25 C401.79 268.79 402.00 264.67 398.38 268.01 C394.76 271.35 396.61 269.00 393.05 272.27 C389.49 275.54 391.76 274.55 387.71 277.82 C383.66 281.09 386.58 279.66 380.89 282.08 C375.20 284.50 379.75 283.50 370.65 285.07 C361.55 286.64 364.11 285.78 353.59 286.78 C343.07 287.78 343.92 291.97 339.09 288.06 Z" fill="#777777" stroke="#222" stroke-width="0.4" />
<path d="M353.59 284.64 C351.10 280.66 355.72 280.23 359.99 273.98 C364.26 267.73 362.84 271.57 366.39 265.88 C369.94 260.19 368.16 262.75 370.65 256.92 C373.14 251.09 371.01 253.37 373.85 248.39 C376.69 243.41 375.27 244.12 379.18 241.99 C383.09 239.86 381.67 240.57 385.58 241.99 C389.49 243.41 388.42 241.99 390.91 246.26 C393.40 250.53 392.69 248.75 393.05 254.79 C393.41 260.83 393.40 258.69 391.98 264.38 C390.56 270.07 391.48 267.09 388.78 271.85 C386.08 276.61 387.79 274.76 383.88 278.67 C379.97 282.58 382.53 281.16 377.05 283.58 C371.57 286.00 375.27 285.57 367.45 285.92 C359.63 286.27 356.08 288.62 353.59 284.64 Z" fill="#858585" stroke="#2a2a2a" stroke-width="0.4" />
<path d="M367.45 283.58 C364.96 281.09 368.73 280.73 370.65 273.98 C372.57 267.23 371.65 270.78 373.21 263.32 C374.77 255.86 373.35 257.63 375.34 251.59 C377.33 245.55 376.33 247.11 379.18 245.19 C382.03 243.27 381.04 244.05 383.88 245.83 C386.72 247.61 386.08 246.11 387.71 250.52 C389.34 254.93 388.92 253.36 388.78 259.05 C388.64 264.74 388.92 262.25 387.29 267.58 C385.66 272.91 386.94 270.43 383.88 275.05 C380.82 279.67 383.60 278.60 378.12 281.44 C372.64 284.28 369.94 286.07 367.45 283.58 Z" fill="#929292" stroke="#2a2a2a" stroke-width="0.4" />
<path d="M370.65 282.08 C369.58 279.95 372.14 280.23 373.85 273.98 C375.56 267.73 374.70 270.43 375.77 263.32 C376.84 256.21 375.77 257.63 377.05 252.65 C378.33 247.67 377.62 249.10 379.61 248.39 C381.60 247.68 381.31 247.32 383.02 250.52 C384.73 253.72 384.44 252.65 384.73 257.98 C385.02 263.31 385.02 261.19 383.88 266.52 C382.74 271.85 383.60 269.36 381.32 273.98 C379.04 278.60 380.61 277.68 377.05 280.38 C373.49 283.08 371.72 284.21 370.65 282.08 Z" fill="#a0a0a0" stroke="#2a2a2a" stroke-width="0.4" />
<path d="M376.62 270.78 C376.19 266.16 376.91 266.87 377.48 261.18 C378.05 255.49 377.48 256.92 378.33 253.72 C379.18 250.52 378.90 251.23 380.04 251.59 C381.18 251.95 381.03 251.24 381.74 254.79 C382.45 258.34 382.45 257.28 382.17 262.25 C381.89 267.22 382.03 265.44 380.89 269.71 C379.75 273.98 380.18 274.69 378.76 275.05 C377.34 275.41 377.05 275.40 376.62 270.78 Z" fill="#b6b6b6" stroke="#2a2a2a" stroke-width="0.4" />
<path d="M338.24 288.06 C332.84 283.23 337.89 281.87 338.24 273.98 C338.59 266.09 338.31 269.64 339.30 264.38 C340.29 259.12 339.16 258.84 341.22 258.20 C343.28 257.56 342.22 258.48 345.49 262.46 C348.76 266.44 347.19 265.45 351.03 270.14 C354.87 274.83 354.01 271.99 357.00 276.54 C359.99 281.09 360.84 279.81 359.99 283.79 C359.14 287.77 361.69 287.06 354.44 288.48 C347.19 289.90 343.64 292.89 338.24 288.06 Z" fill="#8a8a8a" stroke="#2a2a2a" stroke-width="0.4" />
<path d="M339.09 286.78 C334.97 282.58 338.66 281.51 339.09 274.83 C339.52 268.15 339.30 270.85 340.37 266.73 C341.44 262.61 340.30 262.60 342.29 262.46 C344.28 262.32 343.43 262.89 346.34 266.30 C349.25 269.71 348.04 268.72 351.03 272.70 C354.02 276.68 353.31 274.54 355.30 278.24 C357.29 281.94 358.28 280.73 357.00 283.79 C355.72 286.85 357.43 286.42 351.46 287.42 C345.49 288.42 343.21 290.98 339.09 286.78 Z" fill="#a0a0a0" stroke="#2a2a2a" stroke-width="0.4" />
<path d="M339.94 285.50 C336.95 281.88 339.51 280.95 339.94 275.69 C340.37 270.43 340.01 272.55 341.22 269.71 C342.43 266.87 341.44 266.87 343.57 267.16 C345.70 267.45 344.99 267.73 347.62 270.57 C350.25 273.41 349.33 272.42 351.46 275.69 C353.59 278.96 353.17 277.54 354.02 280.38 C354.87 283.22 355.73 282.16 354.02 284.22 C352.31 286.28 353.59 286.13 348.90 286.56 C344.21 286.99 342.93 289.12 339.94 285.50 Z" fill="#b6b6b6" stroke="#2a2a2a" stroke-width="0.4" />
<path d="M340.80 284.43 C338.53 281.44 340.30 280.59 340.80 276.54 C341.30 272.49 340.94 274.12 342.29 272.27 C343.64 270.42 342.72 270.28 344.85 270.99 C346.98 271.70 346.42 271.85 348.69 274.41 C350.96 276.97 350.60 275.97 351.67 278.67 C352.74 281.37 353.24 280.23 351.89 282.51 C350.54 284.79 351.32 284.86 347.62 285.50 C343.92 286.14 343.07 287.42 340.80 284.43 Z" fill="#cccccc" stroke="#2a2a2a" stroke-width="0.4" />
<path d="M341.65 283.36 C340.66 280.80 341.08 280.10 341.65 276.97 C342.22 273.84 341.87 274.98 343.36 273.98 C344.85 272.98 344.14 272.84 346.13 273.98 C348.12 275.12 347.98 275.12 349.33 277.39 C350.68 279.66 350.61 278.67 350.18 280.80 C349.75 282.93 349.90 282.51 348.05 283.79 C346.20 285.07 346.76 284.78 344.63 284.64 C342.50 284.50 342.64 285.92 341.65 283.36 Z" fill="#e2e2e2" stroke="#2a2a2a" stroke-width="0.4" />
<path d="M342.50 282.08 C341.93 280.09 341.79 279.66 342.50 277.39 C343.21 275.12 342.92 275.40 344.63 275.26 C346.34 275.12 346.27 275.26 347.62 276.97 C348.97 278.68 348.97 278.32 348.69 280.38 C348.41 282.44 348.26 282.16 346.77 283.15 C345.28 284.14 345.63 283.72 344.21 283.36 C342.79 283.00 343.07 284.07 342.50 282.08 Z" fill="#ffffff" stroke="#2a2a2a" stroke-width="0.4" />
<ellipse cx="362.12" cy="282.51" rx="4.6" ry="3.9" fill="#7a7a7a" stroke="#222" stroke-width="0.5" />
<ellipse cx="362.12" cy="282.51" rx="3.2" ry="2.7" fill="#606060" stroke="#222" stroke-width="0.5" />
<ellipse cx="362.12" cy="282.51" rx="1.8" ry="1.5" fill="#8a8a8a" stroke="#222" stroke-width="0.4" />
<path d="M369.59 284.64 C369.09 282.93 369.59 282.22 371.72 279.95 C373.85 277.68 373.63 278.03 375.98 277.82 C378.33 277.61 378.40 277.60 378.76 279.31 C379.12 281.02 378.90 281.02 377.05 282.94 C375.20 284.86 375.70 284.50 373.21 285.07 C370.72 285.64 370.09 286.35 369.59 284.64 Z" fill="#d8d8d8" stroke="#2a2a2a" stroke-width="0.4" />
<path d="M371.29 283.58 C371.15 282.58 371.72 282.01 373.21 280.80 C374.70 279.59 374.77 279.66 375.77 279.95 C376.77 280.24 376.91 280.38 376.20 281.66 C375.49 282.94 375.28 283.15 373.64 283.79 C372.00 284.43 371.43 284.58 371.29 283.58 Z" fill="#f4f4f4" stroke="#2a2a2a" stroke-width="0.3" />
<path d="M331.20 214.27 L338.45 214.27 L338.45 241.99 L337.38 257.98 L335.68 271.85 L334.40 281.44 L333.12 293.60 L331.20 293.60 Z" fill="#fff"/>
<path d="M336.6 264.0h.01M336.7 273.1h.01M338.3 216.5h.01M334.9 243.6h.01M336.3 270.6h.01M337.7 221.7h.01M337.3 248.4h.01M338.3 250.3h.01M337.4 232.0h.01M338.4 271.5h.01M338.4 264.1h.01M337.6 223.3h.01M337.9 214.8h.01M337.9 268.7h.01M338.2 275.6h.01M337.4 268.8h.01M337.5 248.1h.01M334.5 256.7h.01M337.4 257.5h.01M334.8 274.6h.01M337.4 237.1h.01M337.7 225.0h.01M338.1 233.4h.01M338.0 252.1h.01M336.1 235.6h.01M338.4 233.9h.01M337.7 234.3h.01M336.8 244.5h.01M338.3 275.2h.01M338.0 216.1h.01M338.5 215.8h.01M335.4 263.5h.01M337.1 215.3h.01M336.9 217.6h.01M336.8 226.9h.01M334.9 261.6h.01M335.0 236.1h.01M336.9 236.7h.01M335.8 221.4h.01M338.1 261.1h.01M337.6 217.0h.01M335.5 273.3h.01M337.3 252.6h.01M337.7 271.6h.01M336.6 248.5h.01M335.4 234.1h.01M338.1 219.5h.01M337.6 223.9h.01M336.5 224.7h.01M333.5 217.7h.01M336.5 239.9h.01M338.3 229.4h.01M336.0 243.0h.01M336.8 240.8h.01M335.2 216.7h.01M337.3 245.3h.01M338.1 260.1h.01M337.8 273.6h.01M336.6 221.3h.01M336.4 241.6h.01M336.7 233.0h.01M336.0 242.8h.01M335.4 275.2h.01M338.5 242.8h.01M335.9 244.4h.01M338.3 232.7h.01M337.8 238.1h.01M338.0 276.0h.01M336.3 245.7h.01M337.9 235.7h.01M337.4 263.2h.01M337.8 268.5h.01M336.7 262.7h.01M336.4 257.8h.01M337.1 237.2h.01M336.2 258.4h.01M338.1 262.4h.01M336.7 257.5h.01M337.4 255.0h.01M334.8 250.7h.01M336.5 230.2h.01M338.4 256.3h.01M335.6 254.8h.01M337.8 264.2h.01M337.2 260.4h.01M336.6 266.0h.01M336.7 268.6h.01M336.0 257.4h.01M334.5 246.8h.01M337.9 247.5h.01M337.0 272.8h.01M335.9 244.3h.01M337.6 260.0h.01M336.1 225.4h.01M338.1 256.0h.01M336.4 240.8h.01M336.5 254.2h.01M336.6 259.4h.01M337.6 242.0h.01M338.3 255.0h.01M338.0 253.8h.01M336.1 217.3h.01M337.4 218.1h.01M338.3 223.0h.01M338.1 226.7h.01M337.6 216.9h.01M337.0 252.6h.01M338.2 251.3h.01M338.2 214.7h.01M335.1 239.8h.01M338.2 221.8h.01M336.9 266.2h.01M338.2 252.7h.01M338.2 220.6h.01M337.1 250.7h.01M338.1 274.1h.01M337.8 265.1h.01M337.0 254.5h.01M337.9 251.6h.01M337.9 249.7h.01M334.5 252.4h.01M337.4 236.5h.01M338.4 221.4h.01M338.5 249.8h.01M337.8 253.7h.01M337.9 270.0h.01M337.3 228.7h.01M337.3 232.8h.01M337.0 274.3h.01M338.2 271.4h.01M337.5 275.5h.01M337.8 245.5h.01M337.3 275.7h.01M337.8 245.2h.01M338.1 222.3h.01M336.7 253.2h.01M337.3 263.2h.01M338.0 266.0h.01M336.5 231.7h.01M338.3 272.7h.01M338.3 231.3h.01M337.3 224.3h.01M337.2 252.4h.01M338.4 244.1h.01M337.2 260.8h.01M336.8 222.0h.01M338.4 247.8h.01M337.1 235.5h.01M337.9 243.5h.01M336.6 237.1h.01" stroke="#444" stroke-width="0.6" stroke-linecap="round" fill="none"/>
<path d="M414.59 275.90 L414.59 295.31 L331.20 295.31 L334.40 293.17 L359.99 292.11 L374.92 288.69 L388.99 282.94 Z" fill="#fff"/>
<path d="M392.6 283.3h.01M409.0 278.1h.01M374.1 290.6h.01M377.1 287.9h.01M396.3 282.0h.01M389.2 284.2h.01M402.4 281.2h.01M380.2 287.3h.01M383.5 286.6h.01M411.3 277.7h.01M397.8 281.5h.01M404.1 280.2h.01M378.0 287.9h.01M403.3 280.9h.01M390.9 284.1h.01M382.4 286.6h.01M385.2 285.5h.01M409.8 278.1h.01M409.5 278.4h.01M393.8 282.9h.01M374.8 290.3h.01M378.4 288.3h.01M398.0 282.1h.01M410.1 278.2h.01M382.1 286.7h.01M395.7 282.0h.01M374.6 289.6h.01M411.2 277.6h.01M390.9 284.5h.01M377.6 288.4h.01M397.4 282.0h.01M412.7 277.7h.01M376.1 289.3h.01M379.9 287.4h.01M384.7 288.5h.01M378.8 287.4h.01M402.4 280.5h.01M398.6 281.3h.01M375.6 289.2h.01M397.8 282.3h.01M405.2 279.7h.01M408.9 278.3h.01M397.5 282.3h.01M413.8 276.6h.01M397.1 283.1h.01M387.2 284.9h.01M391.4 283.6h.01M387.0 285.6h.01M377.4 288.0h.01M405.6 279.2h.01M374.9 288.9h.01M394.0 284.1h.01M402.6 279.9h.01M391.1 284.9h.01M383.2 286.8h.01M389.0 284.3h.01M408.7 278.8h.01M380.8 287.6h.01M408.0 278.1h.01M413.4 276.7h.01M380.9 289.1h.01M398.4 282.0h.01M374.3 289.3h.01M389.6 284.1h.01M398.6 281.9h.01M379.6 287.3h.01M396.6 281.9h.01M396.4 282.1h.01M402.1 280.9h.01M402.4 280.3h.01M404.8 280.4h.01M380.7 287.9h.01M402.8 280.0h.01M393.9 284.3h.01M377.9 288.6h.01M380.9 287.0h.01M399.4 282.1h.01M382.9 286.8h.01M374.4 289.2h.01M396.5 282.6h.01M389.6 284.4h.01M412.2 277.7h.01M395.6 282.2h.01M414.1 276.3h.01M409.9 278.5h.01M395.6 282.3h.01M410.7 278.4h.01M395.8 282.5h.01M386.0 285.3h.01M378.0 288.9h.01M402.2 280.9h.01M399.6 281.1h.01M376.0 288.9h.01M409.5 278.2h.01M383.2 286.6h.01M399.2 282.1h.01M409.3 278.8h.01M398.7 281.3h.01M401.3 280.5h.01M381.5 286.7h.01M398.5 281.3h.01M388.2 284.6h.01M392.9 283.1h.01M405.3 279.0h.01M387.4 284.7h.01M412.5 276.8h.01M397.8 283.8h.01M407.6 278.6h.01M378.2 287.9h.01M405.5 279.4h.01" stroke="#222" stroke-width="0.56" stroke-linecap="round" fill="none"/>
<rect x="411.3" y="214.6" width="2.9" height="53" fill="#7a7a7a"/>
<path d="M334.82 258.62 L356.79 234.53 L386.01 222.16 L409.04 223.44 L413.95 224.08 L413.95 267.58 L388.78 283.58 L370.65 291.47 L335.25 292.32 Z" fill="none" stroke="#8a8a8a" stroke-width="1.4" stroke-linejoin="round"/>
</g>
<path d="M331.3 214.2 H414.4 V294.4" fill="none" stroke="#9a9a9a" stroke-width="1"/>
<path d="M331.3 214.2 V294.4 H414.4" fill="none" stroke="#3a3a3a" stroke-width="1"/>
<path d="M331.30 291.40h-2.4M331.30 288.28h-1.2M331.30 285.16h-1.2M331.30 282.04h-1.2M331.30 278.92h-1.2M331.30 275.80h-2.4M331.30 272.68h-1.2M331.30 269.56h-1.2M331.30 266.44h-1.2M331.30 263.32h-1.2M331.30 260.20h-2.4M331.30 257.08h-1.2M331.30 253.96h-1.2M331.30 250.84h-1.2M331.30 247.72h-1.2M331.30 244.60h-2.4M331.30 241.48h-1.2M331.30 238.36h-1.2M331.30 235.24h-1.2M331.30 232.12h-1.2M331.30 229.00h-2.4M331.30 225.88h-1.2M331.30 222.76h-1.2M331.30 219.64h-1.2M331.30 216.52h-1.2M334.30 294.40v2.4M337.42 294.40v1.2M340.54 294.40v1.2M343.66 294.40v1.2M346.78 294.40v1.2M349.90 294.40v2.4M353.02 294.40v1.2M356.14 294.40v1.2M359.26 294.40v1.2M362.38 294.40v1.2M365.50 294.40v2.4M368.62 294.40v1.2M371.74 294.40v1.2M374.86 294.40v1.2M377.98 294.40v1.2M381.10 294.40v2.4M384.22 294.40v1.2M387.34 294.40v1.2M390.46 294.40v1.2M393.58 294.40v1.2M396.70 294.40v2.4M399.82 294.40v1.2M402.94 294.40v1.2M406.06 294.40v1.2M409.18 294.40v1.2M412.30 294.40v2.4" stroke="#3a3a3a" stroke-width="0.7" fill="none"/>
<text x="346.9" y="301.5" font-size="3.2" text-anchor="middle" fill="#222" font-weight="bold" >50</text>
<text x="328.4" y="278.59999999999997" font-size="3.2" text-anchor="middle" fill="#222" font-weight="bold" transform="rotate(-90 328.4 278.59999999999997)" >50</text>
<text x="362.75" y="301.5" font-size="3.2" text-anchor="middle" fill="#222" font-weight="bold" >100</text>
<text x="328.4" y="263.29999999999995" font-size="3.2" text-anchor="middle" fill="#222" font-weight="bold" transform="rotate(-90 328.4 263.29999999999995)" >100</text>
<text x="378.59999999999997" y="301.5" font-size="3.2" text-anchor="middle" fill="#222" font-weight="bold" >150</text>
<text x="328.4" y="247.99999999999997" font-size="3.2" text-anchor="middle" fill="#222" font-weight="bold" transform="rotate(-90 328.4 247.99999999999997)" >150</text>
<text x="394.45" y="301.5" font-size="3.2" text-anchor="middle" fill="#222" font-weight="bold" >200</text>
<text x="328.4" y="232.69999999999996" font-size="3.2" text-anchor="middle" fill="#222" font-weight="bold" transform="rotate(-90 328.4 232.69999999999996)" >200</text>
<text x="410.29999999999995" y="301.5" font-size="3.2" text-anchor="middle" fill="#222" font-weight="bold" >250</text>
<text x="328.4" y="217.39999999999998" font-size="3.2" text-anchor="middle" fill="#222" font-weight="bold" transform="rotate(-90 328.4 217.39999999999998)" >250</text>
<clipPath id="cE2"><rect x="435.2" y="214.1" width="83.0" height="79.8"/></clipPath>
<g clip-path="url(#cE2)">
<rect x="435.8" y="224.8" width="80.4" height="60.0" fill="#050505"/>
<path d="M472.2 223.1h.01M473.3 223.8h.01M450.8 223.8h.01M499.4 224.7h.01M443.3 223.0h.01M439.4 221.8h.01M488.3 224.5h.01M437.2 224.7h.01M451.2 224.8h.01M473.1 223.6h.01M477.5 223.8h.01M489.0 224.4h.01M515.8 222.1h.01M492.6 224.6h.01M459.1 224.6h.01M468.0 223.8h.01M512.6 224.8h.01M452.8 223.4h.01M514.4 224.7h.01M486.4 224.1h.01M443.0 223.8h.01M496.6 224.7h.01M444.1 224.6h.01M450.2 224.0h.01M451.3 224.5h.01M487.5 224.6h.01M453.0 224.0h.01M500.3 223.9h.01M452.9 223.7h.01M487.3 224.5h.01M453.1 224.2h.01M462.3 224.7h.01M443.2 224.3h.01M484.1 224.3h.01M512.7 223.9h.01M505.3 224.7h.01M508.7 224.1h.01M451.2 222.6h.01M451.7 222.1h.01M484.3 224.7h.01M439.1 224.1h.01M492.4 224.1h.01M483.7 224.6h.01M493.6 224.7h.01M480.7 223.1h.01M458.4 224.2h.01M437.3 224.4h.01M440.8 224.6h.01M481.8 224.6h.01M507.3 222.7h.01M491.3 224.5h.01M438.8 224.7h.01M492.1 224.7h.01M486.9 223.7h.01M461.5 224.6h.01M479.7 222.7h.01M495.0 223.0h.01M509.2 224.0h.01M508.1 223.6h.01M499.2 223.2h.01M486.0 224.1h.01M484.7 224.6h.01M515.5 222.7h.01M467.1 223.4h.01M471.2 224.6h.01M496.0 224.7h.01M474.5 224.3h.01M475.8 223.0h.01M456.5 224.8h.01M490.3 224.7h.01M508.5 223.9h.01M507.3 224.1h.01M451.9 223.7h.01M509.1 223.7h.01M482.6 224.7h.01M475.7 222.5h.01M492.9 224.0h.01M449.5 224.4h.01M453.1 224.0h.01M475.5 224.0h.01M514.6 224.7h.01M438.5 224.7h.01M492.7 224.2h.01M499.3 224.8h.01M472.4 224.7h.01M455.0 224.8h.01M486.3 223.9h.01M488.4 222.3h.01M490.8 224.5h.01M450.3 224.8h.01M493.1 224.6h.01M463.7 223.6h.01M485.2 223.8h.01M499.4 224.5h.01M510.6 224.5h.01M472.3 223.0h.01M466.1 223.2h.01M499.7 223.4h.01M488.1 224.3h.01M501.5 223.3h.01M453.1 222.0h.01M514.2 223.4h.01M461.6 222.3h.01M463.9 224.7h.01M480.0 223.6h.01M438.3 224.6h.01M500.0 224.6h.01M499.0 224.7h.01M477.3 222.9h.01M491.1 223.3h.01M511.9 224.7h.01M478.1 224.1h.01M487.1 223.4h.01M480.8 224.4h.01M503.6 224.2h.01M504.1 223.2h.01M481.8 224.5h.01M476.3 224.7h.01M513.6 224.1h.01M500.1 223.9h.01M491.3 224.7h.01M469.1 222.0h.01M457.5 224.6h.01M470.7 222.4h.01M474.1 224.6h.01M485.4 224.4h.01M498.3 224.8h.01M454.2 224.1h.01M464.4 224.6h.01M494.5 224.6h.01M456.0 224.5h.01M470.9 224.3h.01M478.3 224.7h.01M486.5 223.7h.01M504.1 223.1h.01M454.6 222.9h.01M508.2 224.5h.01M509.8 224.1h.01M507.0 224.7h.01M494.1 224.7h.01M502.6 223.7h.01M446.1 223.9h.01M437.4 224.4h.01M508.9 224.4h.01M476.5 223.6h.01M490.9 224.8h.01M444.5 224.7h.01M477.2 224.5h.01M450.8 224.3h.01M515.2 224.5h.01M441.0 223.4h.01M497.2 224.3h.01M477.2 224.0h.01M437.1 222.9h.01M450.5 223.7h.01M468.4 224.7h.01M477.0 224.8h.01M500.1 222.9h.01M486.4 224.0h.01M476.3 222.3h.01M456.7 222.6h.01M498.2 223.7h.01M507.7 222.8h.01M497.4 223.8h.01M493.8 224.7h.01M473.5 224.8h.01M487.1 224.3h.01M511.6 224.1h.01M488.8 223.8h.01M467.2 222.7h.01M492.1 222.4h.01M437.8 223.3h.01M456.5 224.7h.01M451.6 224.7h.01M456.1 223.2h.01M476.6 223.0h.01M515.6 223.1h.01M442.1 223.3h.01M439.6 224.3h.01M473.7 224.5h.01M484.9 224.6h.01M469.7 223.8h.01M465.2 224.2h.01M480.9 224.1h.01M459.7 224.8h.01M439.4 224.4h.01M467.2 222.7h.01M440.0 221.8h.01M441.9 223.6h.01M474.2 224.0h.01M477.9 222.6h.01M473.5 222.2h.01M484.3 224.6h.01M472.5 224.8h.01M478.2 224.6h.01M489.4 224.4h.01M482.6 223.8h.01M478.5 221.8h.01M494.7 224.7h.01M507.4 223.2h.01M464.7 224.2h.01M481.2 223.6h.01M496.3 224.6h.01M514.4 222.2h.01M439.2 224.7h.01M470.0 224.6h.01M479.3 224.8h.01M490.1 223.7h.01M465.9 224.5h.01M463.5 222.8h.01M441.9 224.5h.01M485.9 224.3h.01M469.9 224.1h.01M465.5 222.7h.01M462.0 223.5h.01M509.7 224.3h.01M443.8 224.6h.01M442.6 223.9h.01M490.8 224.1h.01M442.1 224.3h.01M442.5 224.1h.01M491.5 224.7h.01M464.6 223.9h.01M445.4 223.5h.01M509.5 222.1h.01M471.0 224.0h.01M461.4 223.6h.01M507.6 224.5h.01M465.2 224.3h.01M467.0 224.4h.01M499.8 223.4h.01M481.0 224.4h.01M506.5 224.8h.01M477.3 223.8h.01M513.3 223.1h.01M441.1 223.4h.01M442.7 224.6h.01M507.9 224.6h.01M447.5 223.3h.01M455.6 224.3h.01M477.7 223.8h.01M463.0 222.7h.01M475.5 223.6h.01M492.7 223.6h.01M502.1 223.0h.01M500.5 222.4h.01M512.6 223.7h.01M492.8 223.7h.01M469.6 224.5h.01M515.3 224.6h.01M452.3 224.4h.01M513.6 224.7h.01M445.2 223.2h.01M450.4 224.7h.01M482.7 224.7h.01M444.7 224.7h.01M454.8 223.4h.01M453.9 224.6h.01M449.8 224.0h.01M479.9 223.5h.01" stroke="#111" stroke-width="0.66" stroke-linecap="round" fill="none"/>
<path d="M474.0 285.7h.01M447.4 285.0h.01M457.9 285.9h.01M484.1 285.6h.01M447.6 285.1h.01M508.5 285.1h.01M442.0 285.4h.01M468.4 285.0h.01M440.9 285.7h.01M443.3 286.5h.01M445.0 285.1h.01M461.0 285.2h.01M491.7 285.0h.01M501.3 285.3h.01M483.7 285.3h.01M438.4 286.1h.01M514.1 285.4h.01M465.1 285.7h.01M445.1 285.1h.01M476.9 285.6h.01M438.3 285.6h.01M477.5 285.2h.01M467.1 285.1h.01M480.0 285.2h.01M438.9 285.2h.01M487.0 285.0h.01M452.7 285.2h.01M512.7 285.7h.01M449.4 285.5h.01M451.1 286.1h.01M436.5 285.3h.01M463.3 285.0h.01M439.2 286.0h.01M515.9 285.0h.01M461.8 286.0h.01M487.2 285.2h.01M474.2 285.3h.01M511.7 285.2h.01M459.3 285.4h.01M511.5 285.6h.01M492.4 285.1h.01M456.4 285.8h.01M446.5 285.6h.01M455.3 285.7h.01M480.8 285.9h.01M513.0 285.5h.01M483.1 286.1h.01M482.4 285.2h.01M494.9 285.0h.01M492.8 286.2h.01M507.8 285.8h.01M499.1 285.1h.01M464.3 285.5h.01M491.1 285.5h.01M446.0 285.6h.01M467.5 285.2h.01M461.9 285.2h.01M443.2 285.3h.01M496.8 286.0h.01M465.2 285.0h.01M471.5 285.2h.01M463.3 285.1h.01M511.5 285.0h.01M458.4 285.1h.01M453.6 285.7h.01M491.8 285.1h.01M484.5 285.3h.01M472.8 286.1h.01M454.2 285.7h.01M467.6 285.7h.01M513.8 285.6h.01M464.0 285.4h.01M476.0 285.2h.01M446.9 285.2h.01M456.1 285.1h.01M458.9 285.9h.01M467.1 286.3h.01M461.7 285.1h.01M503.4 285.8h.01M469.0 285.3h.01M468.6 285.2h.01M468.0 285.2h.01M452.4 285.4h.01M477.8 285.1h.01M505.9 285.5h.01M494.8 285.1h.01M505.2 285.3h.01M506.4 285.0h.01M437.0 285.0h.01M493.3 285.1h.01M450.7 285.4h.01M484.5 285.1h.01M478.9 285.4h.01M488.1 285.6h.01M486.8 285.5h.01M467.1 285.3h.01M493.2 285.4h.01M475.3 285.9h.01M512.5 285.5h.01M468.5 285.7h.01M503.1 285.0h.01M444.7 285.0h.01M436.7 285.0h.01M490.8 286.0h.01M512.8 286.1h.01M438.2 285.3h.01M474.0 285.3h.01M469.9 285.3h.01M455.3 285.1h.01M512.2 286.2h.01M510.7 285.2h.01M509.9 285.6h.01M437.0 285.2h.01M494.5 286.0h.01M463.2 285.5h.01M515.2 285.2h.01M486.0 285.3h.01M454.4 285.4h.01M446.1 285.8h.01M495.6 285.2h.01M444.2 285.7h.01M449.8 285.5h.01M482.2 285.2h.01M464.4 285.5h.01M476.2 285.1h.01M468.0 285.1h.01M465.4 285.5h.01M459.7 285.3h.01M467.8 285.5h.01M441.9 285.1h.01M456.0 286.3h.01M489.9 285.1h.01M458.6 285.3h.01M451.7 285.7h.01M483.2 285.7h.01M472.7 285.6h.01M473.2 285.4h.01M496.1 285.2h.01M494.1 285.5h.01M485.3 285.4h.01M460.5 285.0h.01M499.2 285.6h.01M508.2 285.2h.01M469.7 285.1h.01M469.1 285.0h.01M445.3 285.1h.01M445.7 285.5h.01M475.2 285.9h.01M447.7 285.3h.01M508.8 285.8h.01M465.4 285.3h.01M497.2 285.7h.01M456.9 285.8h.01M444.7 285.2h.01M503.0 285.9h.01M470.9 285.0h.01M464.7 285.0h.01M509.6 285.5h.01M503.4 285.8h.01M479.5 285.5h.01M508.0 285.0h.01M478.2 286.0h.01M453.6 285.5h.01M495.7 285.7h.01M490.2 285.9h.01M465.1 285.0h.01M445.9 285.1h.01M447.3 285.1h.01M513.3 285.2h.01M502.1 286.3h.01M453.9 285.4h.01M458.6 285.6h.01M496.1 286.0h.01M458.8 285.5h.01M449.6 285.0h.01M464.6 285.1h.01M469.2 285.3h.01M479.1 285.8h.01M508.4 285.4h.01M461.2 285.1h.01M461.4 286.0h.01M492.5 285.0h.01M512.8 285.0h.01M470.5 285.9h.01M515.9 285.5h.01M508.9 285.0h.01M512.8 285.9h.01M474.4 285.1h.01M441.4 285.1h.01M507.7 285.8h.01M489.9 285.6h.01M492.5 286.3h.01M490.2 285.2h.01M473.7 285.1h.01M452.1 285.1h.01M485.9 285.5h.01M490.7 285.4h.01M467.3 285.3h.01M509.1 285.7h.01M447.5 285.1h.01M461.9 285.2h.01M454.7 285.6h.01M507.2 285.0h.01M511.1 285.7h.01M480.5 285.2h.01M475.6 285.2h.01M458.0 285.2h.01M504.8 285.0h.01M449.0 285.4h.01M506.3 285.5h.01M439.3 285.2h.01M452.0 285.6h.01M450.6 285.1h.01M436.7 285.2h.01M459.9 285.1h.01M509.7 285.7h.01M443.0 285.1h.01M499.5 285.0h.01M462.7 285.2h.01M442.4 285.4h.01" stroke="#111" stroke-width="0.66" stroke-linecap="round" fill="none"/>
<path d="M490.7 235.0h.01M504.0 230.3h.01M501.3 235.1h.01M505.4 241.8h.01M502.1 249.0h.01M489.4 238.3h.01M494.9 237.6h.01M504.7 235.9h.01M501.2 236.9h.01M505.0 255.0h.01M485.7 229.0h.01M496.6 239.1h.01M500.8 256.0h.01M500.2 227.6h.01M503.7 238.4h.01M496.8 229.1h.01M485.5 229.5h.01M493.0 242.5h.01M505.1 252.6h.01M489.4 225.1h.01M500.2 257.5h.01M504.6 236.3h.01M502.6 236.0h.01M495.8 225.6h.01M501.0 247.3h.01M488.0 236.7h.01M500.7 256.8h.01M499.0 261.2h.01M499.6 232.5h.01M504.1 231.9h.01M497.8 226.0h.01M503.9 229.5h.01M501.1 260.5h.01M502.0 231.2h.01M499.4 234.4h.01M497.2 225.7h.01M494.3 228.6h.01M499.5 233.7h.01M489.2 225.2h.01M489.4 227.2h.01M491.1 231.4h.01M503.3 241.3h.01M503.8 233.0h.01M498.7 234.9h.01M484.5 230.8h.01M501.9 244.8h.01M490.0 225.0h.01M492.0 240.0h.01M503.9 229.1h.01M499.2 228.5h.01M489.6 226.2h.01M501.1 252.8h.01M493.3 231.8h.01M495.5 229.9h.01M487.8 228.3h.01M504.6 252.6h.01M500.8 236.5h.01M499.7 236.3h.01M491.2 227.4h.01M495.6 239.8h.01M505.0 254.7h.01M501.1 234.8h.01M504.5 228.5h.01M499.8 239.9h.01M493.9 247.4h.01M495.7 246.7h.01M499.8 242.9h.01M491.5 234.8h.01M500.0 232.2h.01M504.5 249.8h.01M496.4 228.9h.01M500.4 245.8h.01M499.7 227.0h.01M504.0 236.2h.01M501.9 233.9h.01M496.3 225.2h.01M502.8 231.3h.01M497.8 251.6h.01M505.2 245.6h.01M497.5 225.7h.01M499.8 232.2h.01M496.9 227.9h.01M494.3 252.2h.01M503.1 228.3h.01M505.2 243.9h.01M502.4 228.8h.01M496.2 231.5h.01M491.4 229.3h.01M498.6 251.2h.01M498.8 244.4h.01M494.0 237.3h.01M500.0 243.1h.01M501.5 229.1h.01M504.6 251.7h.01M505.1 245.4h.01M501.6 262.6h.01M505.2 248.7h.01M503.5 235.6h.01M502.4 254.2h.01M499.8 255.4h.01M494.4 226.3h.01M491.2 237.3h.01M499.0 226.3h.01M492.2 240.4h.01M504.5 242.0h.01M495.9 230.6h.01M505.0 246.7h.01M503.4 257.9h.01M500.9 225.1h.01M490.9 228.6h.01M501.8 238.0h.01M504.6 252.0h.01M501.6 228.6h.01M494.2 239.9h.01M488.8 227.9h.01M504.4 255.2h.01M500.3 258.3h.01M493.4 249.0h.01M504.1 227.3h.01M502.9 245.7h.01M505.2 260.8h.01M494.3 227.4h.01M504.0 240.5h.01M486.0 229.1h.01M504.1 230.2h.01M503.4 247.5h.01M498.0 231.9h.01M503.5 241.9h.01M497.8 236.4h.01M502.7 266.5h.01M503.8 227.0h.01M496.0 231.1h.01M498.9 227.6h.01M488.9 238.9h.01M504.9 228.5h.01M499.3 264.5h.01M496.9 250.8h.01M503.0 226.7h.01M489.7 227.9h.01M502.3 237.4h.01M493.8 236.9h.01M499.8 237.2h.01M493.0 227.0h.01M498.3 241.8h.01M504.9 261.5h.01M499.9 243.0h.01M486.2 230.0h.01M497.4 254.7h.01M494.7 232.9h.01M502.8 246.1h.01M486.0 228.2h.01M504.0 243.2h.01M503.7 232.3h.01M496.0 229.1h.01M497.1 227.0h.01M496.7 246.6h.01M500.4 230.8h.01M505.1 242.0h.01M503.5 252.6h.01M498.5 226.8h.01M495.6 234.4h.01M490.7 236.7h.01M501.2 228.3h.01M505.4 236.1h.01M497.9 241.0h.01M491.6 229.4h.01M496.6 239.6h.01M500.0 246.5h.01M503.0 249.9h.01M500.9 226.6h.01M505.0 254.1h.01M505.0 245.3h.01M497.8 243.8h.01M504.5 246.8h.01M504.8 253.6h.01M500.5 228.9h.01M496.7 252.8h.01M497.2 230.8h.01M504.7 225.3h.01M498.8 240.9h.01M504.3 245.7h.01M490.5 234.7h.01M489.6 225.7h.01M496.7 232.2h.01M501.7 228.7h.01M498.5 236.1h.01M496.1 250.5h.01M501.3 241.4h.01M498.7 228.6h.01M487.7 233.4h.01M491.5 225.3h.01M500.2 233.8h.01M495.7 228.5h.01M493.1 237.4h.01M502.6 228.6h.01M502.3 225.2h.01M492.3 246.1h.01M497.6 227.5h.01M501.8 240.1h.01M502.8 234.5h.01M503.1 244.7h.01M505.0 244.5h.01M498.4 225.3h.01M489.5 224.9h.01M504.0 229.4h.01M498.8 239.0h.01M497.5 234.9h.01M487.3 233.8h.01M498.5 256.1h.01M502.2 226.1h.01M503.3 265.1h.01M505.0 241.1h.01M497.9 226.2h.01M493.2 247.2h.01M503.8 237.8h.01M487.9 236.3h.01M501.5 246.8h.01M500.6 246.2h.01M502.1 241.2h.01M496.7 237.2h.01M494.0 230.8h.01M504.0 246.9h.01M494.2 246.8h.01M503.1 226.7h.01M495.2 253.5h.01M490.4 228.8h.01M505.4 230.9h.01M497.7 242.0h.01M499.2 239.4h.01M492.3 233.5h.01M496.0 231.2h.01M503.5 250.3h.01M501.3 248.2h.01M494.5 237.6h.01M500.7 243.3h.01M496.0 236.0h.01M504.2 237.5h.01M503.3 234.4h.01M499.6 243.8h.01M504.8 253.2h.01M504.3 250.2h.01M487.4 232.0h.01M496.6 251.8h.01M502.0 257.5h.01M497.0 234.8h.01M504.1 232.0h.01M489.7 225.9h.01M504.2 232.4h.01M500.8 259.1h.01M502.8 228.6h.01M496.2 246.5h.01M490.2 229.9h.01M504.4 230.5h.01M498.8 256.8h.01M504.3 225.4h.01M497.8 244.3h.01M493.4 246.9h.01M495.8 233.6h.01M492.6 229.3h.01M503.7 256.3h.01M505.0 244.6h.01M500.7 248.3h.01M500.0 238.1h.01M499.5 235.3h.01M503.7 226.4h.01M500.0 228.4h.01M502.7 230.9h.01M500.0 254.9h.01M495.1 230.9h.01M492.0 241.1h.01M495.6 227.8h.01M499.9 263.1h.01M498.2 256.0h.01M495.9 237.3h.01M500.5 238.6h.01M501.2 229.0h.01M503.7 252.2h.01M503.5 228.4h.01M503.0 237.4h.01M504.9 234.8h.01M504.8 227.5h.01M502.8 227.2h.01M504.6 241.3h.01M497.7 231.2h.01M498.4 228.6h.01M504.5 254.3h.01M492.0 236.5h.01M499.5 257.5h.01M502.6 257.0h.01M503.9 239.1h.01M501.8 240.5h.01M501.6 234.2h.01M502.1 226.1h.01M500.8 241.7h.01M499.6 234.0h.01M500.5 255.8h.01M500.8 234.5h.01M499.3 229.8h.01M505.0 235.9h.01M503.4 228.4h.01M495.2 240.0h.01M504.0 239.4h.01M490.6 226.4h.01M504.8 243.6h.01M500.4 238.3h.01M492.0 238.6h.01M491.6 241.0h.01M503.2 234.9h.01M502.6 245.0h.01M502.7 249.1h.01M485.6 226.6h.01M485.7 225.6h.01M497.6 230.8h.01M496.8 232.2h.01M502.5 230.8h.01M503.9 253.1h.01M501.8 238.3h.01M505.3 238.2h.01M497.8 246.3h.01M489.2 229.5h.01M502.2 252.7h.01M499.6 256.3h.01M483.4 226.7h.01M505.3 227.6h.01M496.2 249.5h.01M503.1 247.9h.01M491.7 233.3h.01M502.3 230.3h.01M497.4 244.4h.01M505.2 227.3h.01M505.5 252.9h.01M503.9 230.2h.01M501.5 230.4h.01M496.8 240.6h.01M494.1 240.2h.01M493.0 227.1h.01M500.9 255.5h.01M489.9 229.2h.01M505.2 229.4h.01M503.0 248.5h.01M503.4 239.0h.01M501.6 249.5h.01M493.9 242.7h.01M494.8 229.7h.01M491.7 230.7h.01M491.6 227.2h.01M495.2 247.3h.01M499.5 256.5h.01M498.1 228.0h.01M498.6 233.3h.01M504.8 233.7h.01M498.8 244.4h.01M504.9 260.2h.01M495.9 247.7h.01M503.4 232.0h.01M490.4 240.6h.01M501.9 256.6h.01M504.5 256.2h.01M501.1 226.5h.01M501.5 240.6h.01M498.0 252.4h.01M492.9 227.5h.01M495.6 245.5h.01M496.4 234.0h.01M505.1 228.5h.01M495.7 234.7h.01M502.6 228.4h.01M494.4 242.9h.01M499.0 226.4h.01M493.7 228.1h.01M492.6 229.3h.01M500.8 251.3h.01M501.0 229.5h.01M489.8 230.2h.01M495.8 231.4h.01M493.9 236.7h.01M503.0 255.7h.01M503.7 232.5h.01M503.2 232.3h.01M495.9 239.2h.01M501.2 227.0h.01M502.7 243.7h.01M490.0 228.0h.01M500.7 232.9h.01M494.5 245.9h.01M504.1 245.7h.01M496.2 225.2h.01M488.1 225.0h.01M498.4 240.3h.01M497.2 230.6h.01M499.5 252.2h.01M491.1 229.1h.01M497.7 246.3h.01M503.9 242.7h.01M502.5 253.6h.01M499.4 231.2h.01M505.4 229.3h.01M494.6 233.2h.01M500.2 237.2h.01M498.4 249.0h.01M500.6 228.0h.01M502.5 263.7h.01M494.4 243.7h.01M485.7 231.8h.01M503.7 250.9h.01M497.9 233.3h.01M502.3 246.8h.01M491.0 229.0h.01M491.0 231.6h.01M504.7 226.9h.01M499.7 240.0h.01M504.4 237.5h.01M496.9 238.3h.01M503.8 256.7h.01M503.7 242.9h.01M490.3 235.2h.01M501.6 259.5h.01M504.1 237.6h.01M494.2 242.0h.01M499.5 257.4h.01M493.8 240.2h.01M494.5 231.6h.01M502.6 233.7h.01M500.4 249.0h.01M505.4 259.5h.01M495.3 230.9h.01M493.5 244.6h.01M502.1 240.3h.01M496.1 236.1h.01M501.8 243.7h.01M496.6 231.6h.01M504.9 242.3h.01M497.8 236.7h.01M493.9 235.0h.01M503.5 239.0h.01M500.7 243.1h.01M503.9 233.4h.01M496.7 233.2h.01M500.7 227.4h.01M502.7 230.0h.01M495.8 231.7h.01M496.3 229.8h.01M504.3 235.0h.01M504.7 233.7h.01M503.2 240.0h.01M495.8 255.8h.01M500.4 237.6h.01M491.1 237.1h.01M503.7 257.3h.01M498.9 254.6h.01M493.5 226.6h.01M503.6 257.7h.01M499.6 251.3h.01M499.9 251.0h.01M501.6 230.3h.01M501.3 247.8h.01M496.4 241.3h.01M489.7 224.9h.01M504.5 245.9h.01M501.7 243.3h.01M495.0 239.2h.01M503.7 237.6h.01M501.1 237.7h.01M503.1 233.3h.01M495.7 227.1h.01M502.7 259.5h.01M504.4 254.3h.01M498.8 226.3h.01M490.0 228.6h.01M503.9 227.9h.01M499.5 227.6h.01M497.4 245.6h.01M490.8 238.6h.01M498.3 236.6h.01M501.3 260.2h.01M495.8 237.6h.01M505.2 238.1h.01M505.0 257.8h.01M503.4 251.4h.01M502.8 243.7h.01M500.2 235.4h.01M503.0 249.5h.01M497.5 238.2h.01M491.2 224.9h.01M498.4 235.3h.01M490.2 238.9h.01M502.2 248.4h.01M494.6 237.4h.01M500.3 229.8h.01M498.6 247.9h.01M486.2 228.8h.01M501.6 241.7h.01M504.1 233.2h.01M503.6 255.2h.01M503.3 246.2h.01M496.0 243.9h.01M504.3 253.4h.01M503.4 236.7h.01M491.0 233.6h.01M500.9 254.1h.01M503.4 254.1h.01M498.0 233.3h.01M499.0 227.7h.01M499.3 237.6h.01M500.8 225.4h.01M501.6 226.5h.01M495.5 234.7h.01M504.5 254.9h.01M501.3 253.2h.01M498.7 230.2h.01M504.0 231.3h.01M486.9 227.3h.01M500.0 242.2h.01M497.7 229.2h.01M503.2 239.3h.01M494.8 232.2h.01M500.2 233.4h.01M499.0 258.5h.01M503.4 235.4h.01M499.2 234.5h.01M489.3 233.8h.01M504.8 253.4h.01M501.6 236.9h.01M496.1 225.3h.01M500.9 249.4h.01M492.9 241.5h.01M498.0 253.1h.01M496.4 243.8h.01M497.9 228.5h.01M494.3 237.8h.01M494.3 226.8h.01M490.1 239.6h.01M503.1 249.3h.01M493.2 230.3h.01M496.0 235.2h.01M503.6 238.3h.01M499.4 231.2h.01M502.3 243.3h.01M505.4 228.8h.01M502.9 260.2h.01M498.6 235.9h.01M499.6 244.1h.01M504.4 241.0h.01M503.0 263.0h.01M490.1 242.6h.01M503.4 256.3h.01M500.8 230.4h.01M501.9 228.4h.01M504.6 254.8h.01M502.0 233.1h.01M500.7 253.9h.01M487.2 228.0h.01M504.3 238.4h.01M495.0 243.5h.01M502.2 234.9h.01M504.3 240.4h.01M494.7 226.5h.01M494.3 251.4h.01M496.7 230.3h.01M503.5 235.8h.01" stroke="#f4f4f4" stroke-width="0.7" stroke-linecap="round" fill="none"/>
<path d="M506.1 231.5h.01M505.0 270.9h.01M505.2 230.5h.01M505.8 240.9h.01M506.1 235.7h.01M506.2 239.7h.01M505.7 267.9h.01M505.8 267.5h.01M505.8 227.2h.01M506.1 252.1h.01M505.4 233.7h.01M506.0 251.8h.01M506.1 260.6h.01M506.2 251.1h.01M505.8 253.2h.01M505.3 269.0h.01M505.4 260.9h.01M506.1 254.9h.01M505.2 263.0h.01M505.8 233.5h.01M505.1 249.5h.01M505.0 267.6h.01M505.6 248.8h.01M505.5 255.4h.01M506.1 239.1h.01M505.4 251.8h.01M505.4 252.4h.01M505.7 244.9h.01M505.8 249.3h.01M505.1 270.8h.01M505.4 244.9h.01M505.5 267.8h.01M506.1 248.6h.01M505.5 229.4h.01M506.1 232.9h.01M505.7 241.1h.01M505.4 241.4h.01M505.2 226.7h.01M505.6 261.6h.01M505.8 234.3h.01M505.8 227.4h.01M505.5 263.1h.01M506.1 246.2h.01M506.0 247.9h.01M505.6 251.9h.01M506.2 259.2h.01M505.6 258.5h.01M505.8 241.3h.01M505.9 262.7h.01M505.7 268.4h.01M505.0 248.0h.01M505.8 240.7h.01M505.2 256.8h.01M505.5 237.4h.01M505.1 269.5h.01M505.4 230.4h.01M505.3 236.7h.01M506.0 233.3h.01M505.3 229.5h.01M505.6 234.6h.01M505.4 258.8h.01M506.1 263.4h.01M505.0 242.4h.01M506.0 226.5h.01M505.2 247.5h.01M505.5 259.5h.01M505.9 246.4h.01M505.3 235.6h.01M505.3 228.0h.01M505.8 232.3h.01M506.1 254.7h.01M505.1 247.9h.01M505.7 226.9h.01M505.6 226.4h.01M505.9 225.2h.01M505.8 270.3h.01M506.0 235.7h.01M505.6 231.4h.01M505.4 264.7h.01M506.0 225.4h.01M505.5 254.5h.01M505.2 261.9h.01M506.1 250.4h.01M505.4 264.0h.01M505.6 233.7h.01M505.3 232.3h.01M506.0 248.5h.01M505.8 262.6h.01M506.2 233.8h.01M505.5 265.2h.01M505.9 242.8h.01M505.8 234.0h.01M505.2 227.3h.01M505.5 235.9h.01M505.6 269.6h.01M505.2 250.7h.01M506.0 252.5h.01M505.6 260.3h.01M505.0 268.6h.01M505.8 262.1h.01M506.0 229.5h.01M505.1 233.2h.01M505.6 268.2h.01M506.1 244.0h.01M505.7 259.0h.01M505.4 269.6h.01M506.1 258.4h.01M506.1 261.8h.01M505.8 239.8h.01M505.3 236.0h.01" stroke="#ddd" stroke-width="0.6" stroke-linecap="round" fill="none"/>
<path d="M514.6 281.0h.01M514.7 230.8h.01M515.1 250.6h.01M515.2 233.6h.01M515.7 251.8h.01M515.7 252.4h.01M516.0 231.0h.01M514.9 250.4h.01M515.2 268.6h.01M515.5 229.3h.01M514.8 260.2h.01M515.0 262.0h.01M514.5 247.0h.01M514.9 247.4h.01M515.1 264.3h.01M515.5 231.0h.01M515.3 267.6h.01M515.1 252.0h.01M515.0 236.6h.01M515.7 244.8h.01M514.8 237.3h.01M515.8 231.7h.01M515.9 242.0h.01M515.1 273.6h.01M515.5 247.4h.01M515.6 243.7h.01M514.8 257.8h.01M515.6 232.2h.01M514.8 267.0h.01M514.8 239.8h.01M515.2 279.3h.01M515.1 280.8h.01M515.7 282.6h.01M515.9 250.1h.01M516.0 273.0h.01M515.0 282.5h.01M514.8 281.0h.01M515.2 283.3h.01M514.9 246.1h.01M514.5 247.9h.01M515.7 230.4h.01M515.3 237.4h.01M514.6 281.1h.01M515.7 232.0h.01M515.2 235.8h.01M515.2 273.1h.01M515.6 250.5h.01M514.6 251.8h.01M515.5 277.8h.01M514.8 277.9h.01M515.0 249.9h.01M515.0 274.1h.01M515.0 239.8h.01M515.6 249.8h.01M514.8 258.3h.01M515.2 273.9h.01M515.8 262.6h.01M515.5 258.4h.01M514.7 240.4h.01M514.6 230.6h.01" stroke="#fff" stroke-width="0.6" stroke-linecap="round" fill="none"/>
<path d="M468.34 235.26 C471.57 236.01 471.99 236.27 474.97 239.90 C477.96 243.53 477.54 242.88 478.29 247.36 C479.04 251.84 478.21 250.60 477.46 254.83 C476.71 259.06 476.80 257.48 475.80 261.46 C474.80 265.44 474.14 264.11 474.14 268.09 C474.14 272.07 475.00 271.00 475.80 274.73 C476.60 278.46 477.40 277.45 476.80 280.53 C476.20 283.61 476.10 283.27 473.81 285.01 C471.52 286.75 471.96 286.43 469.17 286.33 C466.38 286.23 466.61 286.67 464.52 284.68 C462.43 282.69 462.60 283.18 462.20 279.70 C461.80 276.22 462.85 276.55 463.20 273.07 C463.55 269.59 464.06 270.58 463.36 268.09 C462.66 265.60 464.26 266.52 460.88 264.78 C457.50 263.04 452.84 263.98 452.09 262.29 C451.34 260.60 456.25 261.13 458.39 259.14 C460.53 257.15 459.97 257.70 459.22 255.66 C458.47 253.62 459.09 254.58 455.90 252.34 C452.71 250.10 448.60 250.43 448.60 248.19 C448.60 245.95 452.22 246.87 455.90 244.88 C459.58 242.89 458.39 243.80 460.88 241.56 C463.37 239.32 461.95 239.30 464.19 237.41 C466.43 235.52 465.11 234.51 468.34 235.26 Z" fill="#646464" stroke="#262626" stroke-width="0.45" />
<path d="M468.34 236.92 C471.02 237.57 471.32 237.72 473.81 240.90 C476.30 244.08 476.03 243.35 476.63 247.53 C477.23 251.71 476.55 250.65 475.80 254.83 C475.05 259.01 475.14 257.48 474.14 261.46 C473.14 265.44 472.48 264.11 472.48 268.09 C472.48 272.07 473.34 271.05 474.14 274.73 C474.94 278.41 475.54 277.62 475.14 280.36 C474.74 283.10 474.61 282.46 472.82 283.85 C471.03 285.25 471.36 285.06 469.17 285.01 C466.98 284.96 467.11 285.27 465.52 283.68 C463.93 282.09 464.06 282.88 463.86 279.70 C463.66 276.52 464.51 276.65 464.86 273.07 C465.21 269.49 465.72 270.55 465.02 267.76 C464.32 264.97 465.36 265.47 462.53 263.78 C459.69 262.09 456.27 263.41 455.57 262.12 C454.87 260.83 458.62 261.46 460.21 259.47 C461.80 257.48 461.48 257.68 460.88 255.49 C460.28 253.30 460.71 254.36 458.22 252.17 C455.73 249.98 452.88 250.08 452.58 248.19 C452.28 246.30 454.44 247.56 457.23 245.87 C460.02 244.18 459.58 244.69 461.87 242.55 C464.16 240.41 462.92 240.43 464.86 238.74 C466.80 237.05 465.65 236.27 468.34 236.92 Z" fill="#808080" stroke="#262626" stroke-width="0.4" />
<path d="M468.34 238.91 C470.43 239.41 470.54 239.53 472.48 242.22 C474.42 244.91 474.31 244.08 474.81 247.86 C475.31 251.64 474.84 250.85 474.14 254.83 C473.44 258.81 473.47 257.25 472.48 261.13 C471.49 265.01 470.83 263.68 470.83 267.76 C470.83 271.84 471.69 271.05 472.48 274.73 C473.28 278.41 473.68 277.64 473.48 280.03 C473.28 282.42 473.11 281.59 471.82 282.69 C470.53 283.79 470.76 283.68 469.17 283.68 C467.58 283.68 467.66 283.88 466.51 282.69 C465.36 281.50 465.35 282.59 465.35 279.70 C465.35 276.81 466.11 276.75 466.51 273.07 C466.91 269.39 467.28 270.42 466.68 267.43 C466.08 264.44 466.26 264.91 464.52 263.12 C462.78 261.33 461.58 262.55 460.88 261.46 C460.18 260.37 461.70 261.36 462.20 259.47 C462.69 257.58 463.03 257.45 462.53 255.16 C462.03 252.87 462.23 253.83 460.54 251.84 C458.85 249.85 457.20 250.11 456.90 248.52 C456.60 246.93 457.76 247.92 459.55 246.53 C461.34 245.14 461.08 245.67 462.87 243.88 C464.66 242.09 463.88 242.05 465.52 240.56 C467.16 239.07 466.25 238.41 468.34 238.91 Z" fill="#989898" stroke="#2a2a2a" stroke-width="0.35" />
<ellipse cx="463.69" cy="247.86" rx="5.6" ry="3.6" fill="#b0b0b0" stroke="#2a2a2a" stroke-width="0.35" transform="rotate(8 463.69 247.86)" />
<ellipse cx="463.53" cy="247.86" rx="4.0" ry="2.5" fill="#cfcfcf" stroke="#2a2a2a" stroke-width="0.3" transform="rotate(8 463.53 247.86)" />
<ellipse cx="463.2" cy="247.86" rx="2.4" ry="1.4" fill="#f4f4f4" stroke="#555" stroke-width="0.25" transform="rotate(8 463.2 247.86)" />
<ellipse cx="468.5" cy="259.47" rx="4.6" ry="3.2" fill="#b0b0b0" stroke="#2a2a2a" stroke-width="0.35" transform="rotate(-25 468.5 259.47)" />
<ellipse cx="468.5" cy="259.47" rx="3.1" ry="2.1" fill="#d0d0d0" stroke="#2a2a2a" stroke-width="0.3" transform="rotate(-25 468.5 259.47)" />
<ellipse cx="468.67" cy="259.3" rx="1.7" ry="1.1" fill="#f0f0f0" stroke="#555" stroke-width="0.25" transform="rotate(-25 468.67 259.3)" />
<ellipse cx="469.83" cy="280.36" rx="5.2" ry="4.6" fill="#b0b0b0" stroke="#2a2a2a" stroke-width="0.35" />
<ellipse cx="469.83" cy="280.36" rx="3.9" ry="3.5" fill="#d4d4d4" stroke="#2a2a2a" stroke-width="0.3" />
<ellipse cx="470.0" cy="280.53" rx="2.6" ry="2.4" fill="#fff" stroke="#777" stroke-width="0.2" />
<ellipse cx="507.4" cy="277.5" rx="2.6" ry="6.6" fill="#707070" stroke="#1a1a1a" stroke-width="0.5" transform="rotate(8 507.4 277.5)" />
<ellipse cx="507.4" cy="277.5" rx="1.4" ry="4.4" fill="#909090" stroke="#2a2a2a" stroke-width="0.3" transform="rotate(8 507.4 277.5)" />
<path d="M440.6 275.9h.01M436.7 278.0h.01M440.3 276.6h.01M440.1 279.6h.01M441.9 278.8h.01M439.0 274.8h.01M436.9 275.2h.01M435.5 278.2h.01M439.9 276.0h.01M442.0 274.9h.01M440.3 277.8h.01M436.5 279.1h.01M440.0 277.3h.01M436.9 274.3h.01M443.7 274.6h.01M438.6 277.0h.01M442.1 271.9h.01M443.4 276.5h.01M442.0 273.3h.01M440.4 279.6h.01M439.4 274.4h.01M438.5 274.6h.01M441.8 276.4h.01M438.3 277.9h.01M437.0 272.6h.01M444.2 274.7h.01M443.7 275.6h.01M439.1 277.1h.01M437.4 273.7h.01M439.2 275.0h.01M441.2 279.9h.01M436.6 273.7h.01M441.7 277.2h.01M442.6 274.0h.01M441.1 275.7h.01M435.7 276.9h.01M435.8 277.1h.01M438.6 275.4h.01M443.5 278.4h.01M440.7 276.8h.01M437.7 278.9h.01M441.3 273.6h.01M435.5 275.8h.01M439.2 278.1h.01M436.9 273.6h.01M440.6 276.0h.01M442.1 278.6h.01M437.9 271.6h.01M439.8 274.0h.01M440.1 271.3h.01M439.5 276.0h.01M438.2 277.1h.01M439.8 276.3h.01M442.7 278.7h.01M442.8 276.8h.01M440.0 277.2h.01M440.5 274.0h.01M440.7 278.2h.01M438.6 273.0h.01M441.2 273.9h.01M435.8 275.3h.01M435.9 276.7h.01M438.5 276.0h.01M442.5 278.5h.01M439.5 271.4h.01M438.4 272.9h.01M441.8 279.4h.01M441.5 277.5h.01M441.1 277.6h.01M438.7 278.2h.01M438.8 272.9h.01M439.8 279.7h.01M439.2 271.8h.01M442.9 276.5h.01M441.1 274.7h.01M440.8 279.6h.01M437.9 277.6h.01M440.6 273.7h.01M440.1 277.3h.01M437.5 278.8h.01M436.9 278.6h.01M441.3 276.5h.01M437.6 273.9h.01M435.0 275.8h.01M439.4 277.2h.01M442.4 276.4h.01M438.8 278.4h.01M439.6 275.8h.01M436.7 278.4h.01M438.2 279.9h.01M437.4 274.6h.01M439.9 274.2h.01M436.2 273.3h.01M437.5 275.3h.01M442.3 277.6h.01M440.5 277.9h.01M435.2 274.6h.01M438.2 273.2h.01M440.9 274.2h.01M436.8 278.1h.01M438.0 275.3h.01M436.1 277.9h.01M439.8 279.4h.01M444.0 277.1h.01M438.7 273.9h.01M443.7 275.4h.01M441.3 276.5h.01M434.8 276.0h.01M440.0 276.2h.01M439.4 276.3h.01M437.0 277.4h.01M438.5 276.2h.01M443.7 276.4h.01M436.9 276.8h.01M435.9 276.3h.01M443.0 273.4h.01M439.3 273.7h.01M440.0 276.5h.01M440.0 275.3h.01M435.5 274.0h.01" stroke="#aaa" stroke-width="0.72" stroke-linecap="round" fill="none"/>
<rect x="439.0" y="230.3" width="18.6" height="53.2" fill="none" stroke="#8c8c8c" stroke-width="1.4"/>
</g>
<path d="M435.2 214.1 H518.2 V293.9" fill="none" stroke="#9a9a9a" stroke-width="1"/>
<path d="M435.2 214.1 V293.9 H518.2" fill="none" stroke="#3a3a3a" stroke-width="1"/>
<path d="M435.20 290.90h-2.4M435.20 287.78h-1.2M435.20 284.66h-1.2M435.20 281.54h-1.2M435.20 278.42h-1.2M435.20 275.30h-2.4M435.20 272.18h-1.2M435.20 269.06h-1.2M435.20 265.94h-1.2M435.20 262.82h-1.2M435.20 259.70h-2.4M435.20 256.58h-1.2M435.20 253.46h-1.2M435.20 250.34h-1.2M435.20 247.22h-1.2M435.20 244.10h-2.4M435.20 240.98h-1.2M435.20 237.86h-1.2M435.20 234.74h-1.2M435.20 231.62h-1.2M435.20 228.50h-2.4M435.20 225.38h-1.2M435.20 222.26h-1.2M435.20 219.14h-1.2M435.20 216.02h-1.2M436.12 293.90v1.2M438.72 293.90v1.2M440.74 293.90v1.2M442.39 293.90v1.2M443.78 293.90v1.2M444.98 293.90v1.2M446.05 293.90v1.2M447.00 293.90v2.4M453.26 293.90v1.2M456.92 293.90v1.2M459.52 293.90v1.2M461.54 293.90v1.2M463.19 293.90v1.2M464.58 293.90v1.2M465.78 293.90v1.2M466.85 293.90v1.2M467.80 293.90v2.4M474.06 293.90v1.2M477.72 293.90v1.2M480.32 293.90v1.2M482.34 293.90v1.2M483.99 293.90v1.2M485.38 293.90v1.2M486.58 293.90v1.2M487.65 293.90v1.2M488.60 293.90v2.4M494.86 293.90v1.2M498.52 293.90v1.2M501.12 293.90v1.2M503.14 293.90v1.2M504.79 293.90v1.2M506.18 293.90v1.2M507.38 293.90v1.2M508.45 293.90v1.2M509.40 293.90v2.4M515.66 293.90v1.2" stroke="#3a3a3a" stroke-width="0.7" fill="none"/>
<text x="432.2" y="282.9" font-size="2.9" text-anchor="middle" fill="#444" font-weight="normal" transform="rotate(-90 432.2 282.9)" >50</text>
<text x="432.2" y="267.59999999999997" font-size="2.9" text-anchor="middle" fill="#444" font-weight="normal" transform="rotate(-90 432.2 267.59999999999997)" >100</text>
<text x="432.2" y="252.29999999999998" font-size="2.9" text-anchor="middle" fill="#444" font-weight="normal" transform="rotate(-90 432.2 252.29999999999998)" >150</text>
<text x="432.2" y="236.99999999999997" font-size="2.9" text-anchor="middle" fill="#444" font-weight="normal" transform="rotate(-90 432.2 236.99999999999997)" >200</text>
<text x="432.2" y="221.7" font-size="2.9" text-anchor="middle" fill="#444" font-weight="normal" transform="rotate(-90 432.2 221.7)" >250</text>
<text x="447.0" y="300.6" font-size="2.9" text-anchor="middle" fill="#444" font-weight="normal" >10<tspan font-size="2" dy="-1.2">2</tspan></text>
<text x="467.8" y="300.6" font-size="2.9" text-anchor="middle" fill="#444" font-weight="normal" >10<tspan font-size="2" dy="-1.2">3</tspan></text>
<text x="488.6" y="300.6" font-size="2.9" text-anchor="middle" fill="#444" font-weight="normal" >10<tspan font-size="2" dy="-1.2">4</tspan></text>
<text x="509.4" y="300.6" font-size="2.9" text-anchor="middle" fill="#444" font-weight="normal" >10<tspan font-size="2" dy="-1.2">5</tspan></text>
<clipPath id="cE3"><rect x="437.7" y="319.7" width="81.0" height="79.4"/></clipPath>
<g clip-path="url(#cE3)">
<path d="M441.94 347.99 C443.02 342.13 442.68 342.35 443.65 337.97 C444.62 333.59 438.97 333.45 445.57 331.57 C452.17 329.69 457.19 330.93 468.39 330.93 C479.59 330.93 481.67 330.55 487.58 331.57 C493.49 332.59 490.46 332.55 490.57 334.77 C490.68 336.99 490.51 337.62 488.01 339.89 C485.51 342.16 483.45 341.14 481.18 343.30 C478.91 345.46 479.71 341.05 479.48 347.99 C479.25 354.93 480.33 359.65 480.33 369.32 C480.33 378.99 480.73 378.21 479.48 384.24 C478.23 390.27 480.30 388.73 475.64 391.92 C470.98 395.11 470.75 395.05 461.99 396.19 C453.23 397.33 448.77 397.84 442.80 396.19 C436.83 394.54 440.62 396.99 439.60 390.00 C438.58 383.01 438.96 377.98 438.96 369.96 C438.96 361.94 438.81 365.79 439.60 359.93 C440.39 354.07 440.86 353.85 441.94 347.99 Z" fill="#060606" stroke="none" stroke-width="0" />
<path d="M479.2 355.1h.01M500.2 340.8h.01M485.1 368.2h.01M480.6 366.6h.01M483.1 378.5h.01M484.5 381.8h.01M481.3 385.6h.01M486.6 340.1h.01M478.7 377.9h.01M483.8 373.3h.01M496.5 333.8h.01M499.6 332.0h.01M479.1 385.7h.01M486.1 378.1h.01M493.7 338.1h.01M502.4 338.0h.01M502.9 375.6h.01M489.0 333.4h.01M483.6 371.0h.01M496.8 341.9h.01M479.6 386.1h.01M493.7 339.5h.01M484.6 356.9h.01M480.8 362.6h.01M487.4 331.2h.01M486.0 360.3h.01M486.4 358.1h.01M491.3 365.7h.01M480.0 373.4h.01M486.9 339.0h.01M499.4 332.4h.01M481.6 388.0h.01M493.5 337.1h.01M500.8 338.3h.01M486.5 373.4h.01M481.0 370.3h.01M498.2 386.2h.01M481.2 345.9h.01M484.9 378.6h.01M481.4 357.1h.01M459.2 394.1h.01M486.9 343.9h.01M492.3 348.2h.01M494.3 351.5h.01M491.6 355.1h.01M486.1 379.7h.01M480.2 344.1h.01M487.8 331.9h.01M477.9 374.1h.01M482.9 345.6h.01M488.1 340.1h.01M484.8 345.0h.01M485.6 369.6h.01M482.0 366.5h.01M471.2 394.4h.01M477.7 384.5h.01M496.0 369.0h.01M482.2 372.2h.01M478.8 373.0h.01M487.5 378.2h.01M491.1 334.6h.01M480.3 369.4h.01M494.1 375.1h.01M469.7 390.1h.01M498.4 339.9h.01M489.0 370.5h.01M475.7 387.6h.01M479.8 368.9h.01M485.1 382.8h.01M482.0 345.7h.01M479.2 369.3h.01M486.7 341.9h.01M490.9 334.6h.01M473.1 392.3h.01M497.9 333.4h.01M485.5 377.4h.01M495.8 331.6h.01M491.7 342.8h.01M480.5 351.2h.01M496.8 341.3h.01M491.6 344.6h.01M478.5 364.0h.01M482.4 373.4h.01M497.8 331.6h.01M477.7 347.8h.01M485.9 380.8h.01M478.8 355.5h.01M483.2 364.8h.01M481.9 375.7h.01M485.8 367.6h.01M483.0 342.4h.01M486.6 362.0h.01M490.0 383.2h.01M485.6 359.0h.01M489.7 336.9h.01M498.2 334.2h.01M459.0 396.3h.01M480.5 379.8h.01M478.1 382.7h.01M480.3 354.4h.01M475.6 387.3h.01M485.7 340.4h.01M480.0 385.9h.01M470.3 389.9h.01M478.9 385.4h.01M491.6 389.8h.01M479.6 388.2h.01M485.0 389.4h.01M459.9 393.9h.01M486.5 386.3h.01M478.7 352.8h.01M472.6 389.6h.01M491.6 365.1h.01M479.4 362.0h.01M482.4 375.4h.01M485.2 347.9h.01M469.5 389.9h.01M486.6 383.8h.01M478.9 364.5h.01M479.6 374.0h.01M490.0 346.5h.01M478.1 347.8h.01M511.7 386.0h.01M480.9 350.1h.01M486.6 366.0h.01M493.3 330.6h.01M494.7 345.3h.01M496.3 357.4h.01M484.4 359.7h.01M488.0 332.3h.01M480.5 349.5h.01M487.1 341.3h.01M491.9 335.7h.01M470.6 393.8h.01M503.5 371.2h.01M484.0 378.2h.01M478.1 360.2h.01M484.2 389.2h.01M485.1 383.3h.01M498.2 383.8h.01M466.0 394.4h.01M505.6 330.9h.01M481.4 367.6h.01M479.5 358.5h.01M492.8 332.1h.01M478.1 370.9h.01M479.8 391.2h.01M479.3 387.3h.01M481.6 355.4h.01M497.7 354.4h.01M480.0 390.9h.01M482.2 364.4h.01M479.7 375.5h.01M509.6 342.0h.01M479.5 347.7h.01M478.1 362.5h.01M478.6 364.6h.01M478.1 384.9h.01M479.5 383.1h.01M488.0 382.2h.01M460.4 393.3h.01M455.3 395.3h.01M477.5 353.2h.01M478.1 362.7h.01M495.1 366.7h.01M484.3 381.8h.01M514.5 335.8h.01M496.9 354.1h.01M488.8 339.5h.01M469.4 392.8h.01M486.1 342.2h.01M479.4 365.9h.01M479.2 344.3h.01M481.0 363.7h.01M481.7 353.1h.01M480.7 352.8h.01M478.5 380.6h.01M490.3 336.1h.01M481.7 349.1h.01M494.1 387.0h.01M494.0 384.1h.01M480.3 345.1h.01M488.7 337.2h.01M479.3 347.1h.01M495.8 352.0h.01M492.4 364.1h.01M486.5 364.9h.01M483.3 374.4h.01M470.2 391.3h.01M479.2 363.3h.01M490.1 336.4h.01M478.4 356.8h.01M459.8 393.1h.01M479.3 359.2h.01M489.3 357.0h.01M461.1 393.9h.01M492.0 377.1h.01M480.8 349.1h.01M489.3 358.6h.01M492.2 350.0h.01M489.6 342.1h.01M477.7 371.8h.01M489.2 351.6h.01M477.9 356.5h.01M482.6 361.1h.01M481.1 361.0h.01M469.3 392.2h.01M481.3 359.3h.01M479.3 381.0h.01M486.8 361.9h.01M487.5 335.8h.01M493.7 333.2h.01M484.5 383.0h.01M477.7 371.0h.01M481.5 354.0h.01M479.4 352.2h.01M479.2 354.5h.01M492.0 334.5h.01M490.2 331.4h.01M488.3 356.5h.01M481.5 376.8h.01M494.6 330.2h.01M484.1 377.9h.01M457.7 395.7h.01M482.5 356.1h.01M492.9 336.8h.01M493.7 338.6h.01M485.0 370.5h.01M490.4 342.1h.01M488.8 392.5h.01M478.6 380.7h.01M478.8 381.3h.01M455.4 394.9h.01M489.8 330.9h.01M506.3 335.0h.01M465.3 391.7h.01M476.2 387.6h.01M478.4 384.2h.01M465.4 392.4h.01M481.3 345.5h.01M486.7 329.9h.01M483.4 361.4h.01M457.1 396.1h.01M479.5 352.1h.01M502.6 331.2h.01M479.5 376.3h.01M485.1 380.1h.01M481.4 372.3h.01M490.2 387.7h.01M478.8 380.2h.01M484.2 359.5h.01M464.3 393.1h.01M478.0 361.9h.01M488.5 334.1h.01M479.1 374.8h.01M484.2 380.0h.01M482.3 348.9h.01M477.7 385.3h.01M486.6 371.5h.01M459.9 394.1h.01M488.2 372.2h.01M487.2 350.0h.01M497.2 379.7h.01M478.3 357.4h.01M484.9 364.2h.01M475.3 390.6h.01M490.1 366.2h.01M482.7 386.4h.01M477.6 347.9h.01M477.6 368.8h.01M507.1 353.1h.01M485.1 347.0h.01M480.0 378.7h.01M491.6 369.8h.01M480.2 378.0h.01M459.9 395.9h.01M488.2 345.8h.01M491.1 381.9h.01M487.9 385.4h.01M486.7 355.8h.01M488.7 380.6h.01M506.9 344.1h.01M493.1 368.1h.01M487.4 364.2h.01M479.7 370.0h.01M488.7 362.4h.01M494.3 348.4h.01M487.6 378.5h.01M485.5 364.9h.01M481.0 372.1h.01M491.8 329.9h.01M482.8 375.7h.01M482.7 356.4h.01M493.2 336.8h.01M487.4 334.2h.01M506.3 335.1h.01M473.4 390.2h.01M463.6 392.2h.01M481.7 373.8h.01M492.1 337.0h.01M488.6 337.1h.01M488.3 339.3h.01M473.3 389.4h.01M478.5 366.3h.01M486.5 339.9h.01M483.1 376.4h.01M483.2 379.1h.01M480.8 346.5h.01M494.5 354.2h.01M489.1 376.5h.01M498.8 373.5h.01M477.5 380.6h.01M486.8 335.1h.01M471.0 389.2h.01M483.2 360.6h.01M480.1 344.7h.01M472.5 388.5h.01M481.6 385.1h.01M480.7 375.6h.01M485.4 374.9h.01M479.8 357.9h.01M486.4 358.4h.01M488.0 330.5h.01M485.3 353.1h.01M479.2 363.6h.01M477.5 388.2h.01M473.2 389.0h.01M465.6 393.0h.01M478.6 352.8h.01M478.7 383.0h.01M488.4 384.4h.01M495.0 338.6h.01M478.1 376.4h.01M496.9 380.3h.01M482.4 352.1h.01M479.3 357.1h.01M491.9 340.5h.01M458.0 394.1h.01M491.6 331.2h.01M490.7 347.4h.01M477.7 349.3h.01M480.9 350.4h.01M480.9 358.6h.01M499.0 348.7h.01M488.1 330.7h.01M479.0 384.3h.01M482.8 343.8h.01M488.8 371.8h.01M478.8 382.1h.01M464.3 391.8h.01M490.2 383.5h.01M489.6 337.5h.01M483.2 343.9h.01M488.1 381.8h.01M477.7 380.2h.01M494.2 349.1h.01M486.9 378.8h.01M484.5 341.4h.01M483.6 362.3h.01M500.0 338.1h.01M494.6 367.9h.01M470.6 390.1h.01M489.3 348.1h.01M483.5 362.9h.01M502.3 377.7h.01M481.5 364.0h.01M476.0 386.8h.01M479.1 359.0h.01M488.7 370.4h.01M479.0 358.1h.01M501.5 337.9h.01M495.3 368.7h.01M479.7 347.7h.01M489.4 341.8h.01M490.1 367.1h.01M480.1 369.0h.01M496.5 336.6h.01M462.9 392.9h.01M482.3 350.6h.01M486.4 354.8h.01M481.8 361.7h.01M479.4 354.9h.01M483.2 391.2h.01M482.6 343.8h.01M480.3 377.6h.01M482.9 359.2h.01M480.7 347.8h.01M495.7 377.6h.01M500.1 334.1h.01M493.5 335.6h.01M491.6 333.3h.01M488.3 345.0h.01M491.2 331.2h.01M463.2 393.7h.01M484.3 359.2h.01M485.0 382.6h.01M479.0 357.5h.01M482.1 381.8h.01M461.7 393.4h.01M481.6 350.2h.01M463.6 395.5h.01M485.2 349.4h.01M477.9 384.5h.01M481.7 379.4h.01M480.4 388.4h.01M478.1 354.1h.01M480.6 356.8h.01M487.8 343.4h.01M478.2 387.2h.01M491.8 337.5h.01M477.8 352.4h.01M489.7 336.3h.01M487.4 332.1h.01M465.7 392.7h.01M482.6 342.1h.01M480.0 348.8h.01M462.7 392.5h.01M469.5 391.0h.01M482.8 383.4h.01M479.4 393.6h.01M480.2 371.1h.01M478.7 349.6h.01M483.7 345.1h.01M482.5 357.5h.01M468.3 393.1h.01M472.2 391.9h.01M477.8 346.2h.01M478.5 376.4h.01M478.1 373.4h.01M482.4 368.3h.01M488.3 360.3h.01M479.1 376.3h.01M481.0 362.5h.01M479.2 355.5h.01M484.5 344.5h.01M490.1 333.9h.01M481.5 362.9h.01M488.1 375.8h.01M478.7 365.6h.01M500.7 341.6h.01M481.9 360.9h.01M485.0 344.4h.01M483.0 355.1h.01M493.3 366.6h.01M493.4 381.4h.01M473.4 387.9h.01M479.6 370.7h.01M482.2 352.5h.01M483.1 364.5h.01M478.2 359.0h.01M454.7 395.2h.01M489.2 392.7h.01M479.0 374.0h.01M480.1 376.5h.01M489.8 353.7h.01M477.7 378.0h.01M464.6 392.4h.01M480.7 349.7h.01M483.7 343.4h.01M502.6 385.7h.01M484.2 385.9h.01M481.7 358.1h.01M488.0 339.8h.01M496.2 332.9h.01M487.8 336.8h.01M488.4 358.1h.01M495.6 334.7h.01M480.9 349.7h.01M506.2 359.7h.01M454.6 396.0h.01M480.1 369.7h.01M488.8 351.6h.01M482.4 372.6h.01M480.6 350.0h.01M488.7 361.0h.01M483.0 347.5h.01M477.9 382.5h.01M487.0 344.9h.01M505.5 334.4h.01M484.0 358.6h.01M490.3 337.0h.01M487.3 360.9h.01M478.6 369.3h.01M488.5 335.1h.01M478.3 368.5h.01M488.3 340.1h.01M483.6 345.6h.01M479.7 344.5h.01M483.8 379.8h.01M478.5 379.0h.01M480.6 371.5h.01M479.1 361.2h.01M488.4 384.2h.01M480.4 360.5h.01M482.1 346.4h.01M481.3 349.9h.01M489.9 370.2h.01M476.5 386.6h.01M480.7 381.7h.01M490.5 337.5h.01M476.1 387.8h.01M482.5 350.0h.01M493.8 367.4h.01M493.1 390.1h.01M494.9 334.4h.01M483.2 362.2h.01M479.8 385.7h.01M488.4 330.1h.01M474.7 394.0h.01M478.4 360.6h.01M479.9 379.1h.01M476.6 388.2h.01M477.9 349.5h.01M480.2 347.6h.01M486.5 349.4h.01M484.1 386.1h.01M484.8 359.6h.01M491.1 332.8h.01M483.7 365.4h.01M490.6 347.6h.01M481.4 352.8h.01M491.3 337.8h.01M491.4 330.0h.01M499.6 343.5h.01M479.2 359.5h.01M478.5 374.0h.01M481.4 364.6h.01M469.8 392.6h.01M502.8 386.9h.01M484.7 369.7h.01M488.8 375.6h.01M487.1 387.6h.01M482.9 391.0h.01M493.6 341.1h.01M492.1 377.2h.01M486.9 353.8h.01M489.7 330.2h.01M479.4 344.9h.01M491.2 335.4h.01M486.9 339.0h.01M487.3 370.7h.01M477.8 351.6h.01M476.3 387.6h.01M492.6 355.6h.01M492.8 339.9h.01M483.5 354.2h.01M479.0 359.8h.01M466.5 392.3h.01M486.4 342.0h.01M493.6 369.7h.01M478.2 349.9h.01M489.8 360.9h.01M502.9 331.8h.01M481.7 362.7h.01M486.2 371.3h.01M494.3 373.3h.01M479.9 370.7h.01M481.0 356.8h.01M480.9 344.3h.01M496.3 354.7h.01M478.3 389.1h.01M479.4 377.1h.01M479.0 354.1h.01M484.9 384.3h.01M477.6 373.1h.01M487.8 378.3h.01M486.7 364.5h.01M484.1 383.9h.01M482.9 350.9h.01M472.6 388.2h.01M480.2 384.9h.01M478.3 375.7h.01M481.8 368.7h.01M480.5 350.7h.01M493.8 373.6h.01M489.2 338.2h.01M479.7 354.6h.01M467.9 394.2h.01M477.6 364.4h.01M477.7 389.4h.01M473.7 388.4h.01M480.9 351.1h.01M481.4 356.8h.01M466.0 395.6h.01M490.2 334.4h.01M490.5 339.7h.01M484.6 359.9h.01M481.7 385.9h.01M474.3 387.8h.01M478.4 352.4h.01M488.4 384.5h.01M479.6 368.7h.01M477.8 352.5h.01M479.1 371.7h.01M479.8 344.9h.01M479.7 382.5h.01M467.8 392.1h.01M488.1 337.8h.01M456.9 396.0h.01M478.2 367.8h.01M480.5 382.6h.01M487.5 330.9h.01M478.1 350.9h.01M484.3 350.1h.01M507.7 342.9h.01M484.4 370.6h.01M482.2 370.5h.01M479.5 372.7h.01M479.1 352.7h.01M482.9 366.5h.01M485.4 384.0h.01M478.4 387.0h.01M474.9 387.5h.01M484.1 362.0h.01M488.4 331.4h.01M485.9 355.6h.01M505.5 357.4h.01M489.2 373.1h.01M459.4 395.2h.01M478.2 370.6h.01M479.4 367.5h.01M482.5 353.1h.01M489.0 341.9h.01M488.8 347.8h.01M454.7 396.1h.01M478.2 349.5h.01M487.3 332.9h.01M485.1 345.7h.01M481.2 378.1h.01M480.3 357.1h.01M503.0 342.4h.01M489.9 339.6h.01M491.6 331.8h.01M478.1 362.2h.01M482.0 371.4h.01M482.7 376.3h.01M484.7 351.4h.01M490.8 362.8h.01M476.2 392.0h.01M479.7 373.5h.01M498.9 335.3h.01M499.7 331.3h.01M485.6 341.3h.01M478.7 375.1h.01M481.7 355.3h.01M487.5 330.7h.01M483.9 345.8h.01M478.4 372.3h.01M455.3 395.6h.01M487.1 340.7h.01M489.5 337.4h.01M488.4 332.2h.01M478.6 384.1h.01M481.6 368.3h.01M478.6 378.5h.01M460.7 393.8h.01M462.9 392.5h.01M490.0 346.2h.01M485.1 358.4h.01M485.3 385.7h.01M488.6 378.4h.01M488.2 330.7h.01M475.8 390.8h.01M500.9 336.2h.01M480.7 379.7h.01M480.3 355.8h.01M479.5 384.0h.01M483.5 357.7h.01M482.0 363.8h.01M493.2 339.4h.01M498.6 348.3h.01M503.7 344.0h.01M478.1 359.6h.01M480.5 356.9h.01M484.4 344.2h.01M484.5 366.4h.01M478.8 366.7h.01M478.1 387.4h.01M494.7 330.9h.01M468.3 394.4h.01M485.1 382.0h.01M486.4 340.3h.01M487.0 384.9h.01M479.7 367.2h.01M494.2 370.5h.01M488.8 337.1h.01M479.5 367.5h.01M479.0 378.6h.01M488.0 339.2h.01M490.0 331.7h.01M497.7 364.7h.01M493.2 361.7h.01M489.5 335.2h.01M466.5 391.4h.01M487.1 330.9h.01M484.7 374.7h.01M489.1 372.2h.01M488.0 386.6h.01M479.8 379.9h.01M484.6 360.1h.01M478.1 360.0h.01M480.8 352.6h.01M478.0 349.7h.01M479.3 368.3h.01M480.2 371.2h.01M488.6 374.5h.01M480.1 365.6h.01M479.7 374.6h.01M497.3 379.6h.01M483.1 384.9h.01M471.9 390.3h.01M477.6 372.6h.01M479.8 355.0h.01M486.8 332.6h.01M478.8 369.3h.01M491.7 357.8h.01M488.8 333.9h.01M485.7 368.7h.01M477.7 355.8h.01M478.1 365.0h.01M483.2 345.3h.01M486.4 339.7h.01M464.9 391.3h.01M487.4 381.6h.01M477.6 385.7h.01M502.6 337.0h.01M482.5 360.9h.01M488.4 334.0h.01M490.9 330.6h.01M487.0 348.7h.01M479.7 382.6h.01M459.5 394.3h.01M488.7 337.1h.01M482.4 384.8h.01M463.4 392.4h.01M479.6 382.7h.01M490.5 375.9h.01M492.9 363.5h.01M482.2 370.5h.01M480.4 382.5h.01M479.3 349.9h.01M487.2 337.9h.01M484.8 366.3h.01M508.9 336.2h.01M478.4 362.6h.01M456.2 395.3h.01M453.3 396.1h.01M481.0 383.5h.01M487.8 330.8h.01M479.3 363.7h.01M481.7 365.2h.01M489.6 337.3h.01M469.1 389.9h.01M501.9 370.3h.01M478.7 372.6h.01M478.2 365.8h.01M499.9 357.2h.01M487.6 337.5h.01M478.1 379.9h.01M474.9 388.3h.01M496.2 370.7h.01M484.0 350.9h.01M488.8 345.9h.01M483.2 372.2h.01M480.1 382.0h.01M479.4 368.8h.01M483.9 359.7h.01M467.0 395.2h.01M487.6 377.1h.01M488.0 359.9h.01M485.8 344.0h.01M478.9 385.5h.01M480.3 363.6h.01M479.3 386.9h.01M480.9 345.9h.01M512.4 340.8h.01M484.1 342.3h.01M482.2 383.9h.01M489.1 337.8h.01M459.8 394.3h.01M483.5 390.3h.01M481.5 365.6h.01M477.5 372.1h.01M493.1 340.3h.01M484.6 384.5h.01M476.9 387.6h.01M497.1 347.2h.01M478.1 366.5h.01M482.1 378.2h.01M478.4 382.0h.01M506.1 379.3h.01M489.7 355.8h.01M487.1 373.8h.01M479.0 355.3h.01M487.3 377.8h.01M486.2 339.8h.01M486.0 355.1h.01M500.0 338.5h.01M477.8 385.8h.01M478.5 351.8h.01M481.1 351.3h.01M504.5 336.0h.01M480.7 344.2h.01M489.4 334.5h.01M483.9 342.6h.01M480.4 387.0h.01M479.3 359.5h.01M487.6 366.0h.01M478.9 373.1h.01M478.3 377.9h.01M480.0 361.9h.01M494.1 338.3h.01M482.7 345.0h.01M468.6 391.2h.01M480.4 377.1h.01M480.8 381.8h.01M493.4 343.2h.01M479.4 366.3h.01M481.3 370.6h.01M478.6 376.4h.01M484.8 347.9h.01M478.9 365.0h.01M479.9 361.8h.01M466.0 391.9h.01M483.7 382.4h.01M492.2 366.3h.01M482.0 374.3h.01M479.9 360.0h.01M482.9 367.4h.01M491.6 378.8h.01M458.4 393.6h.01M494.2 329.9h.01M465.4 395.9h.01M485.6 366.1h.01M487.9 331.1h.01M479.6 369.0h.01M487.8 373.8h.01M482.1 350.4h.01M483.4 384.3h.01M496.8 368.7h.01M483.6 376.6h.01M484.8 352.5h.01M481.7 357.0h.01M494.8 336.9h.01M489.3 337.7h.01M486.7 336.9h.01M485.8 378.8h.01M490.5 334.9h.01M482.1 386.7h.01M478.4 344.6h.01M482.2 376.9h.01M485.7 368.4h.01M513.7 348.3h.01M477.7 346.0h.01M487.7 383.0h.01M478.9 387.2h.01M483.5 378.8h.01M490.0 338.4h.01M479.6 354.5h.01M483.3 354.0h.01M490.2 339.7h.01M488.9 346.1h.01M477.9 384.7h.01M480.9 388.0h.01M490.5 335.6h.01M479.3 370.1h.01M491.7 361.2h.01M481.3 375.4h.01M491.5 332.5h.01M494.0 333.8h.01M479.3 347.4h.01M464.1 392.8h.01M490.6 334.4h.01M477.5 350.9h.01M488.2 349.1h.01M485.9 368.7h.01M478.7 346.4h.01M489.1 333.2h.01M482.3 387.4h.01M479.7 371.1h.01M483.4 370.6h.01M480.3 360.1h.01M484.7 346.0h.01M479.5 367.6h.01M501.0 336.9h.01M484.4 357.8h.01M500.8 330.3h.01M485.9 342.4h.01M475.8 392.1h.01M482.3 345.1h.01M485.5 388.3h.01M491.2 379.0h.01M513.5 337.8h.01M479.1 371.8h.01M467.9 393.0h.01M485.9 340.8h.01M489.6 348.2h.01M479.1 386.9h.01M475.3 387.5h.01M495.0 391.7h.01M484.4 341.5h.01M488.2 331.4h.01M480.4 348.5h.01M497.4 380.1h.01M477.9 349.8h.01M497.4 367.3h.01M478.4 364.5h.01M483.3 371.4h.01M478.5 389.5h.01M493.6 365.8h.01M479.0 378.5h.01M477.7 363.8h.01M466.7 392.4h.01M482.6 341.9h.01M495.2 332.7h.01M484.6 386.8h.01M495.6 337.5h.01M477.7 363.7h.01M488.7 373.1h.01M483.2 349.8h.01M495.8 333.0h.01M486.1 340.3h.01M510.7 385.6h.01M475.4 389.0h.01M482.2 356.5h.01M478.2 358.2h.01M475.9 393.1h.01M510.1 336.0h.01M485.6 345.9h.01M481.0 382.0h.01M479.3 354.3h.01M476.8 386.5h.01M498.7 338.9h.01M489.0 378.9h.01M479.1 355.9h.01M489.4 368.1h.01M492.8 337.3h.01M478.1 385.6h.01M481.1 368.4h.01M487.7 333.9h.01M489.9 330.8h.01M479.8 376.8h.01M485.6 372.2h.01M481.5 360.3h.01M495.8 358.5h.01M480.8 366.7h.01M457.0 394.5h.01M484.0 341.4h.01M478.6 348.3h.01M477.5 346.4h.01M477.8 384.0h.01M479.4 352.3h.01M492.4 332.2h.01M480.3 377.7h.01M481.3 387.2h.01M489.4 330.2h.01M477.6 380.9h.01M469.4 393.2h.01M480.1 384.2h.01M478.3 356.8h.01M501.2 379.3h.01M478.4 367.8h.01M484.6 363.1h.01M487.5 381.5h.01M480.6 358.1h.01M479.0 374.3h.01M478.2 363.8h.01M483.9 369.5h.01M478.4 344.4h.01M479.9 356.3h.01M496.1 336.5h.01M483.1 356.6h.01M480.2 360.4h.01M478.1 364.5h.01M485.4 363.9h.01M489.3 334.6h.01M507.2 341.3h.01M478.6 372.2h.01M509.5 334.7h.01M481.9 353.7h.01M484.3 381.0h.01M491.2 331.0h.01M482.3 370.4h.01M475.2 391.9h.01M488.4 361.2h.01M477.6 363.9h.01M462.0 394.4h.01M481.1 391.3h.01M491.8 349.1h.01M496.7 347.3h.01M484.0 390.2h.01M486.2 354.3h.01M494.2 356.3h.01M479.2 361.7h.01M487.3 369.2h.01M486.2 340.4h.01M486.0 380.1h.01M481.2 374.1h.01M480.4 364.9h.01M482.8 367.6h.01M481.9 378.2h.01M483.4 355.3h.01M507.0 334.2h.01M478.9 374.9h.01M490.7 336.4h.01M489.7 333.5h.01M472.8 389.2h.01M499.0 351.9h.01M493.4 378.8h.01M491.1 378.3h.01M487.9 374.3h.01M478.7 375.0h.01M483.8 384.1h.01M492.6 333.2h.01M505.0 342.8h.01M479.4 372.3h.01M487.6 339.4h.01M480.6 371.5h.01M479.0 356.6h.01M494.0 377.7h.01M493.2 372.0h.01M492.0 334.0h.01M497.3 377.1h.01M479.5 379.4h.01M486.3 362.8h.01M487.1 340.1h.01M467.3 391.8h.01M478.2 347.9h.01M485.3 373.1h.01M479.5 380.5h.01M480.4 378.4h.01M478.4 370.3h.01M499.5 340.7h.01M470.7 388.7h.01M466.7 392.8h.01M490.4 330.1h.01M492.9 363.6h.01M489.0 358.6h.01M481.8 374.9h.01M478.1 360.7h.01M469.1 389.6h.01M494.6 346.1h.01M463.4 392.8h.01M486.9 383.0h.01M478.7 375.8h.01M469.8 389.5h.01M480.1 357.0h.01M484.8 384.0h.01M486.2 374.0h.01M492.6 342.5h.01M487.2 355.7h.01M477.7 364.5h.01M476.0 387.4h.01M499.0 340.9h.01M494.2 334.8h.01M490.9 337.9h.01M480.7 356.4h.01M482.1 365.9h.01M463.6 392.8h.01M484.1 373.8h.01M481.5 375.5h.01M478.9 344.1h.01M472.5 393.3h.01M486.0 379.8h.01M482.5 351.5h.01M498.5 340.9h.01M478.2 356.3h.01M490.5 344.6h.01M499.1 330.7h.01M485.3 372.2h.01M480.2 353.4h.01M478.8 358.7h.01M487.7 377.7h.01M481.7 375.2h.01M483.7 363.0h.01M481.8 361.7h.01M478.7 371.0h.01M479.8 345.4h.01M483.3 375.2h.01M480.7 363.7h.01M474.5 387.4h.01M487.2 337.5h.01M493.4 337.8h.01M486.8 340.8h.01M463.4 395.9h.01M481.0 364.6h.01M457.0 394.7h.01M453.5 395.6h.01M486.6 349.5h.01M498.2 357.2h.01M483.0 359.3h.01M459.1 394.3h.01M500.7 333.9h.01M479.2 359.4h.01M497.3 368.1h.01M486.8 331.0h.01M488.6 333.5h.01M481.6 365.9h.01M465.8 391.2h.01M479.7 365.8h.01M477.8 362.3h.01M491.4 368.0h.01M487.8 367.7h.01M496.4 339.5h.01M485.4 356.2h.01M486.4 353.3h.01M499.3 332.7h.01M459.9 396.3h.01M484.9 340.8h.01M481.7 385.1h.01M469.6 390.9h.01M498.1 340.4h.01M484.6 341.4h.01M482.9 359.9h.01M486.7 329.9h.01M486.6 337.0h.01M478.2 346.2h.01M479.7 368.4h.01M477.6 369.9h.01M488.0 380.5h.01M491.0 339.7h.01M485.6 350.6h.01M482.5 371.7h.01M484.9 342.1h.01M482.1 381.6h.01M493.0 384.5h.01M505.5 332.1h.01M467.5 393.9h.01M478.4 387.5h.01M477.9 365.3h.01M477.6 380.1h.01M493.7 376.6h.01M478.3 364.8h.01M477.9 361.0h.01M472.5 388.7h.01M494.8 331.1h.01M484.1 367.1h.01M486.9 332.9h.01M478.1 370.1h.01M477.6 365.7h.01M477.6 373.2h.01M489.8 388.7h.01M489.0 333.6h.01M488.0 344.2h.01M482.8 378.7h.01M482.4 356.3h.01M480.3 350.0h.01M477.8 358.0h.01M490.9 330.6h.01M492.6 333.3h.01M478.6 374.1h.01M483.9 343.2h.01M469.1 390.4h.01M477.7 371.5h.01M479.4 348.0h.01M479.7 360.4h.01M485.9 351.4h.01M478.2 349.5h.01M478.0 363.6h.01M476.0 389.5h.01M483.2 360.9h.01M492.6 337.8h.01M499.7 372.8h.01M492.5 330.3h.01M479.1 380.0h.01M504.3 366.3h.01M491.4 334.1h.01M482.9 386.0h.01M484.8 385.1h.01M487.7 342.0h.01M481.2 372.1h.01M482.0 350.1h.01M469.5 390.5h.01M481.2 357.0h.01M507.0 338.9h.01M479.1 354.5h.01M496.0 377.7h.01M505.1 336.3h.01M484.3 368.1h.01M482.6 379.6h.01M482.4 354.2h.01M479.5 377.6h.01M478.0 376.5h.01M478.9 364.1h.01M490.4 349.2h.01M480.7 357.0h.01M481.2 364.7h.01M509.2 343.1h.01M478.3 356.2h.01M478.5 391.6h.01M486.8 355.1h.01M483.3 380.3h.01M501.5 342.9h.01M485.3 359.7h.01M481.2 352.8h.01M471.1 391.2h.01M487.1 357.4h.01M482.1 344.5h.01M485.2 383.5h.01M486.2 367.9h.01M494.6 339.8h.01M478.2 374.5h.01M480.8 377.6h.01M481.9 373.4h.01M478.2 379.0h.01M479.8 374.8h.01M479.2 351.4h.01M484.0 385.4h.01M480.0 362.3h.01M478.6 356.8h.01M482.1 350.0h.01M487.2 346.2h.01M487.9 334.9h.01M478.4 347.1h.01M481.9 367.4h.01M490.7 373.5h.01M489.9 337.2h.01M481.1 349.9h.01M479.4 369.4h.01M482.8 376.7h.01M481.4 350.7h.01M464.6 393.4h.01M480.0 377.9h.01M479.4 375.6h.01M474.5 387.8h.01M460.1 395.7h.01M495.2 374.8h.01M487.0 383.4h.01M482.2 382.6h.01M480.5 378.5h.01M481.8 382.1h.01M477.8 354.6h.01M484.0 363.3h.01M479.1 357.9h.01M478.1 361.0h.01M482.4 352.0h.01M478.3 364.1h.01M485.4 381.6h.01M483.8 348.2h.01M474.0 392.2h.01M483.0 371.5h.01M462.6 393.6h.01M478.0 359.0h.01M491.7 335.1h.01M492.1 374.2h.01M476.0 391.7h.01M477.7 350.9h.01M489.0 343.5h.01M490.3 348.5h.01M477.7 375.8h.01M479.3 374.0h.01M479.0 347.3h.01M481.4 374.6h.01M487.9 339.8h.01M496.8 338.2h.01M485.4 364.5h.01M477.5 381.8h.01M481.7 352.6h.01M470.7 393.4h.01M480.1 379.1h.01M466.1 394.4h.01M479.1 361.7h.01M488.4 331.6h.01M479.2 348.1h.01M486.0 380.7h.01M484.8 384.5h.01M477.8 368.0h.01M480.5 388.1h.01M483.3 346.2h.01M494.1 382.4h.01M483.3 367.2h.01M478.5 366.8h.01M485.5 341.8h.01M481.1 343.7h.01M489.0 334.6h.01M478.5 372.3h.01M486.3 375.2h.01M458.6 394.2h.01M478.7 358.7h.01M466.7 391.0h.01M481.3 346.8h.01M494.1 366.5h.01M483.3 376.7h.01M489.1 343.0h.01M478.4 367.6h.01M503.5 332.7h.01M478.1 346.6h.01M488.9 340.9h.01M502.8 371.2h.01M477.2 393.4h.01M492.8 391.0h.01M479.4 363.6h.01M489.5 341.9h.01M470.2 390.1h.01M485.1 363.9h.01M478.5 353.2h.01M484.3 376.6h.01M487.5 350.6h.01M483.8 372.3h.01M490.6 333.9h.01M485.3 357.3h.01M482.7 372.3h.01M493.1 335.9h.01M461.9 392.7h.01M477.7 382.5h.01M484.3 369.7h.01M500.6 374.6h.01M477.8 365.5h.01M473.1 393.6h.01M487.0 371.0h.01M487.6 332.8h.01M454.7 396.3h.01M487.2 372.9h.01M488.4 337.3h.01M499.1 368.9h.01M503.6 333.0h.01M481.2 344.5h.01M494.4 359.0h.01M482.1 359.5h.01M472.6 389.4h.01M482.4 380.4h.01M483.3 384.3h.01M470.5 389.3h.01M477.5 361.4h.01M491.6 332.3h.01M485.8 380.4h.01M488.7 330.8h.01M479.1 345.5h.01M472.0 389.5h.01M486.2 353.9h.01M493.5 373.2h.01M480.0 364.6h.01M479.4 377.9h.01M489.5 337.0h.01M489.9 341.7h.01M481.6 373.3h.01M485.3 365.8h.01M456.6 394.5h.01M476.0 387.4h.01M481.4 373.9h.01M479.9 355.0h.01M463.2 395.1h.01M490.9 332.2h.01M485.5 365.4h.01M482.3 352.4h.01M497.4 340.6h.01M478.2 371.6h.01M482.5 347.5h.01M486.3 356.9h.01M483.5 361.3h.01M490.5 349.9h.01M482.5 359.9h.01M507.4 371.7h.01M482.4 353.6h.01M488.2 346.0h.01M485.2 346.5h.01M486.8 335.4h.01M477.7 361.0h.01M478.5 350.1h.01M488.0 338.5h.01M465.8 393.3h.01M482.1 363.4h.01M477.7 376.6h.01M486.9 344.5h.01M499.2 349.7h.01M478.7 385.1h.01M495.0 335.6h.01M484.9 381.0h.01M484.5 377.8h.01M488.0 364.2h.01M496.9 342.4h.01M495.8 359.5h.01M474.5 388.0h.01M486.4 355.8h.01M505.0 336.8h.01M476.7 390.7h.01M478.9 388.9h.01M459.2 393.9h.01M481.9 384.0h.01M478.0 376.5h.01M486.2 353.2h.01M481.8 353.1h.01M478.8 376.3h.01M479.7 372.6h.01M483.2 351.6h.01M479.7 368.0h.01M477.8 382.5h.01M471.6 393.6h.01M479.9 376.1h.01M486.8 358.4h.01M478.1 381.8h.01M490.6 363.8h.01M496.0 369.2h.01M478.5 373.2h.01M494.0 371.8h.01M487.8 338.4h.01M488.4 374.3h.01M479.0 384.6h.01M474.9 388.5h.01M482.2 361.6h.01M491.3 350.5h.01M481.4 357.4h.01M480.4 385.2h.01M484.2 341.1h.01M488.5 363.7h.01M478.9 372.2h.01M482.3 346.5h.01M503.5 374.6h.01M481.1 359.6h.01M497.0 382.0h.01M483.3 352.4h.01M477.6 352.6h.01M493.4 372.2h.01M478.3 364.0h.01M479.2 370.8h.01M486.2 357.4h.01M481.1 384.6h.01M486.6 339.6h.01M489.4 339.8h.01M481.3 362.5h.01M492.9 355.7h.01M478.5 344.8h.01M464.5 395.5h.01M481.3 351.6h.01M487.0 333.1h.01M484.2 351.4h.01M487.9 353.6h.01M481.5 359.4h.01M481.5 347.1h.01M480.5 371.6h.01M463.0 393.4h.01M478.9 370.6h.01M484.5 343.0h.01M483.7 385.7h.01M478.3 375.4h.01M485.9 358.7h.01M480.2 349.2h.01M463.7 391.8h.01M475.4 387.5h.01M482.8 365.2h.01M478.0 380.7h.01M486.8 334.5h.01M482.7 377.6h.01M479.3 363.2h.01M485.0 354.0h.01M483.6 386.0h.01M477.5 372.0h.01M480.8 375.4h.01M479.9 376.0h.01M485.3 372.2h.01M477.7 358.8h.01M480.2 352.7h.01M489.7 340.8h.01M498.3 338.6h.01M493.7 330.2h.01M482.0 375.6h.01M478.8 350.1h.01M482.2 345.4h.01M483.0 346.1h.01M481.8 381.4h.01M479.1 362.5h.01M478.5 365.8h.01M478.5 357.2h.01M479.0 362.0h.01M490.9 381.1h.01M478.5 389.8h.01M487.7 329.9h.01M478.9 384.7h.01M481.5 381.9h.01M483.7 347.7h.01M481.0 369.7h.01M464.1 392.5h.01M484.2 342.4h.01M477.8 370.5h.01M490.6 334.6h.01M481.9 367.8h.01M477.5 364.7h.01M483.3 377.7h.01M485.1 362.0h.01M484.9 340.5h.01M482.9 381.9h.01M479.2 350.8h.01M483.1 342.0h.01M489.7 370.3h.01M503.6 339.9h.01M482.1 364.3h.01M478.1 374.7h.01M482.9 347.7h.01M494.3 341.9h.01M479.4 348.1h.01M478.1 353.4h.01M462.1 394.4h.01M489.8 361.8h.01M471.7 389.1h.01M478.6 358.9h.01M478.9 380.7h.01M480.9 386.4h.01M484.5 364.3h.01M490.6 357.4h.01M484.5 344.1h.01M490.2 339.5h.01M482.2 369.2h.01M496.3 367.2h.01M489.2 330.0h.01M457.8 394.4h.01M479.5 368.2h.01M487.0 375.8h.01M488.0 371.5h.01M491.9 336.9h.01M477.6 389.6h.01M480.9 367.6h.01M483.7 341.3h.01M481.2 350.9h.01M474.9 387.4h.01M480.3 376.7h.01M489.3 341.8h.01M479.3 372.8h.01M479.8 356.7h.01M478.9 354.4h.01M476.4 386.6h.01M488.0 378.1h.01M480.6 385.4h.01M488.9 388.6h.01M479.4 353.0h.01M465.1 391.8h.01M480.6 356.2h.01M484.9 377.7h.01M480.1 361.4h.01M490.5 373.3h.01M476.1 389.3h.01M479.4 380.9h.01M480.1 352.3h.01M488.8 333.2h.01M470.0 391.6h.01M478.0 379.2h.01M488.6 363.4h.01M496.7 333.4h.01M479.1 352.4h.01M491.4 382.9h.01M456.8 394.6h.01M500.0 330.4h.01M458.7 395.5h.01M477.8 354.4h.01M496.2 367.1h.01M460.9 395.2h.01M486.6 351.0h.01M477.7 349.5h.01M490.2 343.1h.01M482.0 359.8h.01M495.0 378.7h.01M489.3 357.4h.01M482.7 359.0h.01M493.5 360.6h.01M473.8 388.9h.01M482.8 357.2h.01M489.5 334.3h.01M477.7 375.5h.01M481.0 353.6h.01M480.0 375.5h.01M496.0 332.7h.01M477.8 369.9h.01M480.6 347.0h.01M462.3 396.2h.01M478.0 384.4h.01M492.3 372.2h.01M495.0 360.1h.01M484.7 375.1h.01M460.9 392.7h.01M470.6 391.7h.01M491.3 337.6h.01M477.9 355.8h.01M482.9 378.0h.01M493.2 360.4h.01M479.3 359.3h.01M478.6 349.2h.01M477.0 390.5h.01M485.8 386.0h.01M486.6 380.0h.01M481.1 370.6h.01M486.4 363.0h.01M486.5 349.4h.01M480.1 386.7h.01M478.9 391.0h.01M491.9 359.1h.01M486.5 337.4h.01M482.0 386.7h.01M482.5 362.9h.01M494.7 342.8h.01M478.9 351.2h.01M483.7 372.8h.01M477.7 370.2h.01M483.9 355.7h.01M485.2 370.0h.01M481.4 372.4h.01M487.4 331.5h.01M490.6 383.5h.01M478.0 355.8h.01M496.2 334.6h.01M483.6 371.1h.01M488.0 333.9h.01M477.6 371.5h.01M477.6 364.0h.01M480.4 367.9h.01M472.6 390.9h.01M479.0 365.9h.01M478.2 359.0h.01M484.2 372.8h.01M480.1 383.3h.01M485.6 385.9h.01M485.4 355.7h.01M512.2 335.3h.01M483.8 358.5h.01M479.3 356.1h.01M483.1 359.7h.01M465.4 393.2h.01M479.1 384.9h.01M478.9 379.3h.01M484.1 387.4h.01M465.8 393.1h.01M488.9 348.0h.01M483.5 358.3h.01M472.5 390.1h.01M487.3 332.4h.01M493.1 362.4h.01M487.6 352.3h.01M481.0 343.5h.01M483.2 341.7h.01M479.4 347.5h.01M481.5 379.6h.01M478.3 381.3h.01M483.8 364.3h.01M485.5 348.1h.01M481.0 356.7h.01M471.8 390.0h.01M493.4 332.1h.01M486.9 337.2h.01M480.6 368.6h.01M489.5 331.5h.01M479.1 345.2h.01M481.8 367.5h.01M496.2 385.1h.01M477.7 385.3h.01M488.9 335.4h.01M485.3 350.4h.01M488.3 330.6h.01M478.5 364.3h.01M487.6 338.0h.01M501.7 330.4h.01M477.8 345.0h.01M488.8 330.2h.01M463.4 392.2h.01M480.2 346.1h.01M495.5 330.5h.01M489.0 361.9h.01M478.8 381.3h.01M479.8 347.4h.01M484.6 378.5h.01M481.9 346.2h.01M472.3 392.5h.01M479.5 353.5h.01M472.2 393.5h.01M459.2 394.1h.01M466.0 391.3h.01M461.1 393.9h.01M480.5 354.8h.01M504.3 385.8h.01M488.1 384.5h.01M487.5 359.9h.01M476.1 392.4h.01M483.9 385.9h.01M483.8 386.6h.01M486.2 362.3h.01M478.2 390.1h.01M477.9 364.6h.01M498.8 352.9h.01M500.7 338.1h.01M481.6 346.2h.01M478.2 374.2h.01M468.4 390.0h.01M500.4 355.2h.01M490.8 335.1h.01M480.0 352.8h.01M495.4 333.4h.01M481.4 383.6h.01M489.7 360.6h.01M478.9 369.3h.01M486.6 330.0h.01M482.7 356.8h.01M478.3 367.5h.01M488.6 334.8h.01M480.3 383.7h.01M499.7 341.4h.01M476.8 390.6h.01M466.4 391.0h.01M491.9 337.4h.01M461.8 395.3h.01M492.1 331.8h.01M480.0 377.8h.01M480.8 346.8h.01M480.7 379.5h.01M486.7 342.3h.01M489.2 375.8h.01M478.5 352.5h.01M491.4 333.8h.01M465.9 395.0h.01M493.9 334.0h.01M483.2 352.2h.01M472.8 388.3h.01M484.6 362.6h.01M486.5 383.4h.01M487.3 331.3h.01M477.8 373.2h.01M468.3 391.4h.01M477.6 347.2h.01M486.6 338.3h.01M478.5 360.6h.01M489.9 333.3h.01M496.8 332.7h.01M482.9 355.4h.01M479.8 357.6h.01M478.9 347.8h.01M487.1 344.4h.01M485.7 378.4h.01M480.2 365.4h.01M490.4 339.7h.01M477.7 376.2h.01M479.6 361.9h.01M480.2 379.2h.01M493.5 343.8h.01M477.7 374.6h.01M482.8 343.2h.01M488.8 339.1h.01M487.9 357.7h.01M494.0 361.3h.01M491.7 349.2h.01M481.3 386.8h.01M486.6 334.2h.01M494.9 340.7h.01M478.2 375.8h.01M481.0 354.8h.01M478.9 352.8h.01M477.8 376.6h.01M483.8 365.9h.01M479.7 372.6h.01M485.7 371.6h.01M460.1 393.9h.01M473.7 388.9h.01M477.7 383.7h.01M492.5 339.8h.01M484.4 354.7h.01M478.6 370.1h.01M491.7 337.9h.01M455.6 396.0h.01M464.0 394.3h.01M486.5 339.6h.01M478.5 351.2h.01M487.8 374.3h.01M488.0 334.9h.01M487.0 333.7h.01M488.2 358.9h.01M497.1 337.8h.01M488.3 379.0h.01M479.9 346.1h.01M461.7 394.1h.01M479.9 353.8h.01M490.3 335.5h.01M478.4 374.5h.01M458.9 395.4h.01M504.2 362.6h.01M478.9 352.3h.01M496.5 359.7h.01M485.8 340.5h.01M488.9 337.7h.01M472.1 389.5h.01M482.3 366.0h.01M497.7 331.7h.01M477.7 351.1h.01M465.5 391.4h.01M477.6 378.8h.01M496.7 356.2h.01M490.0 333.4h.01M469.2 391.4h.01M478.5 370.3h.01M491.0 332.7h.01M478.0 380.4h.01M485.9 364.6h.01M479.3 349.2h.01M498.1 332.3h.01M479.2 347.3h.01M478.6 385.7h.01M495.5 333.8h.01M487.6 363.8h.01M478.2 358.8h.01M489.8 330.1h.01M485.0 347.0h.01M480.3 386.3h.01M482.5 344.8h.01M496.2 334.9h.01M489.4 335.2h.01M478.6 359.2h.01M488.3 383.3h.01M486.8 363.9h.01M493.7 333.9h.01M478.5 348.0h.01M485.8 363.1h.01M497.7 366.3h.01M490.4 330.6h.01M470.3 393.8h.01M495.6 372.4h.01M489.2 363.8h.01M479.5 359.3h.01M513.2 356.5h.01M481.7 352.7h.01M492.4 330.4h.01M487.3 335.1h.01M482.8 357.0h.01M480.1 347.1h.01M479.3 348.7h.01M481.3 384.3h.01M486.4 386.0h.01M479.2 372.8h.01M480.8 383.9h.01M482.9 360.6h.01M477.8 354.7h.01M488.4 331.1h.01M481.7 362.4h.01M513.8 342.5h.01M477.6 359.0h.01M485.5 342.5h.01M479.2 360.6h.01M477.6 361.3h.01M479.1 365.4h.01M481.7 387.3h.01M499.8 331.4h.01M459.0 394.6h.01M476.8 387.4h.01M479.2 390.2h.01M492.7 363.9h.01M488.0 366.6h.01M490.4 362.5h.01M488.0 357.1h.01M484.4 379.0h.01M483.8 379.4h.01M493.8 348.1h.01M478.6 370.0h.01M486.2 385.5h.01M472.1 390.1h.01M488.0 351.9h.01M485.7 385.1h.01M486.7 339.7h.01M457.6 394.3h.01M485.7 377.9h.01M490.2 331.1h.01M483.0 346.4h.01M482.7 371.8h.01M483.6 370.8h.01M513.5 369.5h.01M478.3 361.2h.01M485.6 355.6h.01M486.8 343.0h.01M498.7 331.3h.01M459.6 393.6h.01M482.3 353.0h.01M497.8 338.6h.01M485.4 358.8h.01M497.1 333.9h.01M478.1 384.8h.01M479.5 378.9h.01M478.6 362.2h.01M482.1 346.3h.01M486.6 356.5h.01M496.0 364.5h.01M485.2 351.4h.01M492.3 338.9h.01M470.9 392.9h.01M471.8 389.5h.01M478.8 385.0h.01M468.1 396.3h.01M479.0 388.6h.01M487.6 339.3h.01M480.6 349.6h.01M479.5 381.0h.01M479.0 344.3h.01M488.4 354.5h.01M497.1 371.7h.01M504.5 331.8h.01M454.8 395.2h.01M477.8 383.1h.01M484.5 344.4h.01M503.0 389.2h.01M479.7 361.3h.01M486.5 366.8h.01M498.6 337.2h.01M483.7 377.2h.01M481.0 393.1h.01M481.8 381.2h.01M480.3 349.2h.01M478.5 388.4h.01M490.0 334.7h.01M480.8 371.6h.01M478.0 368.7h.01M479.9 344.0h.01M490.4 334.9h.01M496.1 330.1h.01M483.2 368.8h.01M457.4 395.2h.01M460.9 395.9h.01M490.9 334.1h.01M482.1 372.7h.01M488.4 334.0h.01M486.8 332.1h.01M493.2 330.9h.01M472.7 389.4h.01M469.1 389.8h.01M481.2 365.2h.01M484.5 344.0h.01M487.9 378.8h.01M491.7 339.3h.01M495.6 369.1h.01M504.0 335.3h.01M498.9 338.6h.01M479.2 352.5h.01M484.0 346.2h.01M481.0 353.5h.01M505.1 360.0h.01M488.1 338.3h.01M492.2 337.1h.01M479.3 352.2h.01M478.1 370.5h.01M478.6 345.6h.01M468.6 389.7h.01M499.2 375.5h.01M502.9 336.8h.01M498.2 344.4h.01M480.8 366.6h.01M488.5 346.9h.01M469.9 391.7h.01M496.1 360.0h.01M478.6 356.8h.01M486.3 372.4h.01M478.5 372.5h.01M469.0 389.9h.01M479.3 387.3h.01M474.0 388.9h.01M486.2 355.0h.01M486.2 344.4h.01M498.5 358.4h.01M469.2 390.4h.01M486.5 374.7h.01M486.4 345.5h.01M477.6 360.4h.01M482.0 361.6h.01M480.0 386.1h.01M481.9 348.8h.01M477.3 388.9h.01M480.1 370.6h.01M483.6 357.5h.01M483.7 341.9h.01M478.0 381.9h.01M484.7 377.0h.01M504.4 334.6h.01M480.0 379.7h.01M479.8 367.3h.01M504.8 368.8h.01M481.0 379.2h.01M488.0 388.7h.01M471.1 392.1h.01M490.6 344.7h.01M483.6 341.4h.01M481.5 381.5h.01M487.8 371.9h.01M480.3 386.6h.01M487.3 338.9h.01M489.7 375.9h.01M487.6 383.4h.01M497.8 345.5h.01M476.5 387.8h.01M464.2 392.0h.01M488.0 341.8h.01M490.3 335.1h.01M482.7 372.7h.01M481.3 377.0h.01M485.5 383.8h.01M488.5 363.0h.01M460.0 393.5h.01M479.6 381.4h.01M467.1 395.3h.01M482.6 371.7h.01M469.5 390.8h.01M463.1 391.9h.01M479.3 367.8h.01M485.5 341.0h.01M479.1 376.8h.01M481.8 371.2h.01M465.8 390.9h.01M485.1 341.3h.01M485.2 359.2h.01M481.5 384.0h.01M475.1 388.1h.01M489.6 337.0h.01M479.8 383.2h.01M490.7 340.1h.01M470.0 391.4h.01M463.4 392.1h.01M487.2 372.6h.01M489.0 333.1h.01M488.8 370.4h.01M482.7 344.3h.01M488.5 332.3h.01M479.4 353.4h.01M486.6 383.4h.01M481.9 345.3h.01M483.5 370.8h.01M490.2 338.1h.01M465.8 391.1h.01M504.3 360.4h.01M460.6 393.8h.01M493.3 333.4h.01M484.5 369.9h.01M484.5 384.5h.01M476.1 387.1h.01M483.4 345.3h.01M490.7 337.8h.01M480.7 367.9h.01M480.2 383.7h.01M481.3 343.0h.01M490.1 337.1h.01M494.3 331.2h.01M486.6 330.9h.01M480.2 363.5h.01M483.8 341.7h.01M466.9 392.1h.01M499.5 377.1h.01M452.5 396.1h.01M477.8 359.1h.01M478.6 386.9h.01M491.3 339.3h.01M490.8 348.9h.01M478.3 345.1h.01M498.5 331.0h.01M478.7 379.6h.01M491.9 337.9h.01M504.1 348.0h.01M489.1 374.7h.01M481.2 380.0h.01M481.6 367.5h.01M466.9 390.7h.01M482.2 382.8h.01M489.4 389.2h.01M458.0 395.7h.01M500.4 334.6h.01M506.0 333.0h.01M497.9 331.5h.01M478.8 349.9h.01M473.7 387.7h.01M488.3 364.4h.01M480.6 369.1h.01M481.3 343.3h.01M478.4 377.4h.01M491.6 334.3h.01M496.6 363.9h.01M486.7 333.0h.01M477.7 366.5h.01M474.7 390.6h.01M479.1 353.5h.01M484.1 352.6h.01M490.1 331.4h.01M484.1 349.2h.01M485.2 358.9h.01M488.0 377.8h.01M495.2 381.4h.01M478.3 367.5h.01M477.6 363.8h.01M489.9 336.6h.01M484.3 350.3h.01M471.1 389.1h.01M490.8 331.0h.01M483.3 368.7h.01M479.9 359.1h.01M463.6 391.9h.01M491.6 353.7h.01M485.2 373.1h.01M490.3 337.9h.01M489.3 332.1h.01M478.0 377.1h.01M489.8 338.3h.01M480.4 371.7h.01M478.6 352.8h.01M485.1 340.9h.01M480.8 378.0h.01M479.9 361.7h.01M485.2 385.7h.01M486.8 349.0h.01M479.8 349.4h.01M479.7 372.7h.01M498.9 364.9h.01M487.5 333.9h.01M478.3 384.6h.01M473.3 388.5h.01M485.7 344.1h.01M488.5 379.9h.01M481.5 366.7h.01M500.6 332.6h.01M489.1 357.6h.01M458.7 394.7h.01M479.7 345.1h.01M477.9 371.2h.01M481.3 359.9h.01M486.1 360.8h.01M489.2 330.7h.01M479.1 354.8h.01M483.2 350.6h.01M459.3 393.5h.01M482.5 378.0h.01M498.7 348.9h.01M479.1 368.3h.01M480.1 353.3h.01M478.4 376.4h.01M484.4 383.6h.01M478.1 353.5h.01M488.3 343.2h.01M484.1 383.5h.01M487.1 332.9h.01M495.2 347.4h.01M481.9 366.6h.01M499.5 378.1h.01M489.2 341.8h.01M485.3 362.8h.01M482.0 345.4h.01M498.5 332.6h.01M477.9 382.7h.01M490.4 333.1h.01M478.9 361.5h.01M489.3 385.1h.01M489.1 351.3h.01M491.9 346.6h.01M473.2 389.3h.01M483.2 359.7h.01M463.1 392.9h.01M485.6 373.1h.01M479.7 345.2h.01M489.2 369.7h.01M477.8 354.9h.01M457.5 394.1h.01M477.9 354.3h.01M481.7 362.5h.01M465.7 392.2h.01M482.8 372.5h.01M483.6 359.7h.01M462.0 393.0h.01M480.6 375.6h.01M479.8 359.3h.01M492.6 350.7h.01M504.1 332.4h.01M488.0 378.4h.01M481.7 375.7h.01M489.5 364.8h.01M486.8 340.0h.01M479.5 364.5h.01M474.4 392.1h.01M491.8 337.6h.01M482.9 344.7h.01M491.3 369.9h.01M488.1 332.8h.01M492.3 383.9h.01M488.8 355.9h.01M487.9 341.5h.01M478.0 362.2h.01M493.4 372.2h.01M478.2 358.4h.01M480.9 367.3h.01M478.1 353.4h.01M479.4 380.7h.01M452.6 396.2h.01M479.3 346.7h.01M481.6 351.5h.01M487.4 352.8h.01M480.3 370.4h.01M479.0 374.8h.01M474.8 390.1h.01M480.2 383.2h.01M488.6 338.2h.01M491.1 330.1h.01M485.3 365.4h.01M481.5 346.6h.01M477.8 363.6h.01M481.4 375.1h.01M508.8 356.1h.01M486.1 384.6h.01M489.5 380.7h.01M480.2 345.7h.01M489.5 371.7h.01M479.6 362.9h.01M480.6 377.6h.01M478.6 362.6h.01M490.8 338.4h.01M498.6 330.1h.01M480.3 369.1h.01M482.0 353.7h.01M490.1 335.4h.01M489.5 332.7h.01M487.8 333.7h.01M462.1 395.6h.01M478.9 377.5h.01M480.6 382.7h.01M489.7 342.7h.01M499.6 334.1h.01M485.5 369.8h.01M477.9 346.4h.01M508.3 377.2h.01M479.3 384.6h.01M487.3 352.7h.01M479.8 380.0h.01M484.0 372.4h.01M482.1 349.8h.01M479.8 366.5h.01M478.9 388.4h.01M485.2 351.9h.01M468.1 392.5h.01M486.9 343.7h.01M495.8 354.8h.01M493.4 340.6h.01M478.6 344.4h.01M490.6 333.0h.01M486.0 352.6h.01M487.5 339.3h.01M490.2 338.0h.01M478.3 379.4h.01M486.8 371.6h.01M486.7 341.1h.01M485.6 361.8h.01M498.6 380.4h.01M465.7 390.9h.01M483.8 362.1h.01M489.1 331.9h.01M485.6 381.9h.01M494.4 334.0h.01M482.7 387.0h.01M489.8 338.5h.01M478.6 364.7h.01M486.8 333.9h.01M481.6 383.3h.01M481.2 361.7h.01M477.7 356.6h.01M471.3 388.7h.01M488.0 372.2h.01M480.5 365.2h.01M488.9 335.4h.01M479.6 372.2h.01M498.0 333.6h.01M489.8 361.7h.01M485.7 385.3h.01M489.4 376.8h.01M481.7 368.0h.01M481.8 349.1h.01M487.0 379.1h.01M485.9 378.2h.01M491.3 339.5h.01M481.5 352.8h.01M478.7 385.0h.01M488.4 373.6h.01M489.5 334.3h.01M489.3 336.0h.01M453.1 395.8h.01M478.5 371.8h.01M496.3 336.6h.01M483.6 342.1h.01M476.7 386.7h.01M458.5 395.4h.01M487.5 359.1h.01M486.2 381.6h.01M495.6 336.4h.01M488.8 330.2h.01M478.1 383.7h.01M494.3 392.6h.01M492.5 334.4h.01M499.1 340.1h.01M481.2 377.4h.01M478.6 354.2h.01M481.1 371.4h.01M477.7 370.5h.01M479.1 383.3h.01M484.9 342.4h.01M489.4 329.9h.01M494.5 337.9h.01M487.6 349.1h.01M478.6 374.8h.01M500.2 335.5h.01M489.4 333.8h.01M481.5 372.5h.01M505.0 339.5h.01M478.2 381.2h.01M477.8 362.7h.01M477.6 364.0h.01M499.7 382.9h.01M479.9 371.7h.01M501.2 346.7h.01M479.8 351.4h.01M485.9 351.3h.01M488.9 370.4h.01" stroke="#0a0a0a" stroke-width="0.76" stroke-linecap="round" fill="none"/>
<path d="M478.2 394.4h.01M477.2 393.7h.01M455.8 394.9h.01M480.2 392.3h.01M449.1 393.8h.01M476.1 392.8h.01M476.7 395.3h.01M465.9 395.7h.01M480.9 392.9h.01M481.1 392.4h.01M464.3 393.4h.01M450.5 394.0h.01M473.5 393.0h.01M455.7 392.3h.01M465.2 392.3h.01M451.6 393.7h.01M460.1 393.8h.01M477.6 392.8h.01M454.2 393.2h.01M454.9 395.6h.01M451.9 392.0h.01M472.2 395.0h.01M471.0 393.7h.01M451.9 392.7h.01M467.0 394.4h.01M467.3 394.7h.01M467.8 393.3h.01M450.2 394.4h.01M451.4 392.9h.01M448.0 393.1h.01M472.3 392.7h.01M467.5 393.7h.01M480.0 395.2h.01M449.2 392.5h.01M474.3 392.6h.01M461.3 392.7h.01M470.1 393.4h.01M474.5 393.6h.01M475.9 392.3h.01M472.0 394.5h.01M453.1 393.4h.01M452.5 393.3h.01M449.4 397.7h.01M460.8 394.0h.01M458.9 394.0h.01M478.5 394.9h.01M479.0 393.6h.01M461.2 392.6h.01M458.4 393.5h.01M478.6 392.6h.01M459.2 395.9h.01M470.5 395.1h.01M457.3 398.7h.01M479.4 394.5h.01M464.7 395.5h.01M458.0 393.4h.01M462.9 396.9h.01M476.8 392.6h.01M450.5 393.7h.01M472.4 394.5h.01M448.5 393.1h.01M448.0 392.7h.01M470.3 392.3h.01M451.0 395.5h.01M455.8 394.9h.01M473.1 392.8h.01M448.5 392.9h.01M459.6 393.3h.01M453.3 393.7h.01M469.3 392.0h.01M457.7 393.4h.01M458.1 393.3h.01M458.0 394.9h.01M477.4 392.1h.01M469.8 394.5h.01M464.2 392.3h.01M457.2 392.3h.01M464.4 396.8h.01M470.2 394.5h.01M454.1 393.1h.01M472.1 393.4h.01M462.7 396.9h.01M452.3 393.6h.01M449.5 395.5h.01M475.6 392.4h.01M469.0 392.7h.01M451.6 393.2h.01M467.5 392.1h.01M457.5 395.1h.01M474.6 392.2h.01M463.7 393.2h.01M462.2 393.6h.01M459.6 393.7h.01M459.9 398.0h.01M448.1 392.1h.01M472.5 395.8h.01M464.1 393.9h.01M479.1 392.6h.01M452.8 394.0h.01M448.7 393.3h.01M479.0 392.6h.01M477.7 393.1h.01M481.3 392.4h.01M452.1 395.8h.01M456.1 393.4h.01M476.4 392.2h.01M461.3 393.4h.01M481.0 393.7h.01M459.0 394.9h.01M469.6 395.4h.01M450.5 393.2h.01M450.8 392.5h.01M477.1 392.2h.01M477.5 392.5h.01M479.4 393.2h.01M472.8 393.7h.01M472.7 392.2h.01M452.4 392.7h.01M457.3 395.5h.01M461.0 392.4h.01M466.2 392.0h.01M471.9 394.1h.01M477.9 393.3h.01M476.6 394.3h.01M458.1 393.3h.01M478.4 393.3h.01M461.3 395.7h.01M453.1 392.9h.01M477.0 394.1h.01M449.9 396.0h.01M458.5 392.6h.01M462.7 392.2h.01M468.2 395.2h.01M460.3 392.8h.01M452.8 393.6h.01M460.3 393.7h.01M480.4 393.9h.01M466.5 393.0h.01M479.8 393.7h.01M480.4 394.9h.01M470.8 395.1h.01M465.8 394.4h.01M454.4 393.3h.01M472.9 396.3h.01M480.5 396.7h.01M477.3 398.6h.01M460.1 396.1h.01M473.6 393.0h.01M465.4 392.9h.01M479.5 394.4h.01M477.7 392.0h.01M462.5 392.7h.01M468.7 396.4h.01M467.0 394.0h.01M457.5 392.7h.01M451.1 394.7h.01M463.4 393.8h.01M467.4 393.4h.01M474.4 394.4h.01M452.8 393.5h.01M481.1 392.8h.01M465.2 394.4h.01M480.7 395.0h.01M464.9 393.1h.01M481.6 394.3h.01M454.2 396.4h.01M460.3 393.3h.01M454.8 393.8h.01M458.0 393.0h.01M480.8 392.3h.01M464.8 393.8h.01M467.5 395.0h.01M457.5 395.3h.01M459.4 392.2h.01M481.5 392.4h.01M477.0 393.5h.01M465.3 392.1h.01M476.9 393.2h.01M453.2 392.6h.01M454.9 394.5h.01M464.9 394.4h.01M449.0 392.4h.01M462.1 396.1h.01M474.0 392.7h.01M452.4 395.9h.01M454.0 393.0h.01M464.0 395.9h.01M453.5 394.4h.01M474.9 392.8h.01M458.2 392.4h.01M454.1 395.5h.01M451.7 394.8h.01M480.7 392.1h.01M475.3 395.8h.01M476.0 394.3h.01M480.3 393.3h.01M480.7 393.4h.01M477.9 393.2h.01M466.4 395.9h.01M452.5 394.5h.01M463.8 392.7h.01M481.7 396.5h.01M473.2 392.9h.01M462.0 394.9h.01M465.4 394.5h.01M451.9 396.1h.01M465.2 393.1h.01M476.3 393.1h.01M471.7 394.5h.01M450.5 394.1h.01M449.2 394.0h.01M465.4 394.5h.01M481.1 394.4h.01M462.3 394.0h.01M469.6 395.4h.01M474.8 393.3h.01M481.7 393.6h.01M476.1 392.4h.01M481.8 392.6h.01M478.8 392.8h.01M456.2 392.3h.01M466.2 392.9h.01M478.6 393.1h.01M472.3 393.0h.01M472.7 393.0h.01M480.2 393.1h.01M474.6 392.7h.01M448.1 392.7h.01M472.1 392.7h.01M473.5 394.2h.01M460.9 392.1h.01M461.8 394.0h.01M472.7 394.1h.01M480.3 392.1h.01M462.0 394.1h.01M461.4 394.7h.01M470.4 393.5h.01M477.2 392.1h.01M468.8 393.1h.01M477.2 392.7h.01M462.2 395.8h.01M450.7 394.2h.01M470.7 394.5h.01M449.8 393.4h.01M454.7 393.0h.01M474.5 392.0h.01M459.1 394.5h.01M455.0 395.3h.01M481.1 392.5h.01M472.0 392.2h.01" stroke="#0a0a0a" stroke-width="0.72" stroke-linecap="round" fill="none"/>
<path d="M479.3 329.4h.01M457.6 330.2h.01M484.3 329.3h.01M450.5 328.1h.01M467.9 329.6h.01M472.3 330.2h.01M447.4 329.9h.01M474.3 328.8h.01M457.5 328.5h.01M446.3 329.2h.01M487.9 330.0h.01M454.1 329.4h.01M495.8 330.1h.01M451.0 329.9h.01M490.1 328.7h.01M483.9 329.1h.01M473.9 329.2h.01M474.7 330.2h.01M489.1 328.6h.01M476.0 328.8h.01M482.6 329.6h.01M461.0 330.2h.01M450.1 330.3h.01M460.5 329.8h.01M479.1 329.6h.01M456.9 329.5h.01M459.9 328.8h.01M477.7 329.7h.01M454.9 330.3h.01M465.7 329.7h.01M497.5 329.4h.01M481.6 329.2h.01M489.8 330.3h.01M447.7 329.5h.01M462.4 330.3h.01M495.0 329.6h.01M491.6 329.7h.01M466.6 328.8h.01M493.6 329.5h.01M458.8 330.2h.01M475.2 330.3h.01M492.7 328.8h.01M466.8 329.6h.01M472.5 326.3h.01M450.7 329.8h.01M478.6 330.2h.01M487.2 330.0h.01M465.8 330.2h.01M497.8 327.3h.01M490.8 329.8h.01M446.6 330.1h.01M473.9 328.6h.01M459.9 330.0h.01M468.6 329.9h.01M469.6 328.1h.01M459.7 329.7h.01M472.0 329.3h.01M491.3 328.0h.01M461.5 329.3h.01M453.9 329.1h.01M485.7 328.4h.01M473.6 329.9h.01M446.0 330.3h.01M494.3 330.2h.01M491.7 329.9h.01M449.0 329.5h.01M491.7 329.9h.01M471.3 330.2h.01M449.6 330.3h.01M452.7 328.4h.01M470.7 329.5h.01M491.4 330.1h.01M468.0 330.0h.01M484.0 328.9h.01M456.5 328.9h.01M479.8 326.8h.01M468.8 329.8h.01M457.7 330.3h.01M463.6 329.7h.01M457.5 329.9h.01M449.7 329.8h.01M493.1 329.8h.01M490.7 329.6h.01M480.8 330.0h.01M457.1 328.5h.01M475.7 328.3h.01M470.6 329.9h.01M455.9 328.3h.01M451.0 329.3h.01M470.3 329.9h.01M483.9 328.8h.01M451.1 327.3h.01M466.9 329.1h.01M458.9 328.4h.01M455.9 329.2h.01M460.5 330.0h.01M459.0 329.2h.01M490.8 329.8h.01M474.6 326.1h.01M489.5 329.0h.01M496.4 328.3h.01M454.6 329.4h.01M471.3 330.1h.01M449.0 329.2h.01M465.7 329.5h.01M486.8 330.3h.01M469.7 327.7h.01M497.8 329.0h.01M474.9 330.3h.01M461.4 329.7h.01M496.4 329.1h.01M484.9 329.7h.01M449.0 329.2h.01M490.3 329.7h.01M454.2 329.9h.01M455.7 330.3h.01M476.9 330.0h.01M452.2 329.6h.01M492.3 330.4h.01M478.2 328.8h.01M467.8 329.1h.01M494.6 329.7h.01M456.6 330.2h.01M466.6 329.5h.01M480.9 330.1h.01M485.1 329.4h.01M449.8 326.2h.01M497.8 329.3h.01M449.8 330.2h.01M494.5 329.5h.01M491.8 329.6h.01M454.2 329.6h.01M489.4 329.9h.01M497.3 328.8h.01M480.0 328.2h.01M461.6 330.3h.01M480.5 329.8h.01M452.0 330.2h.01M451.6 329.5h.01M477.5 330.1h.01M483.3 329.9h.01M459.7 328.8h.01M471.4 328.5h.01M450.8 329.1h.01M468.0 330.4h.01M486.1 330.3h.01M479.1 330.3h.01M474.7 328.4h.01M468.2 329.9h.01M491.9 330.4h.01M493.0 328.2h.01M476.3 329.8h.01M453.7 329.7h.01M492.7 329.7h.01M487.4 328.8h.01M456.9 328.4h.01M459.0 328.7h.01M492.0 329.1h.01M467.1 329.9h.01M494.4 329.9h.01" stroke="#111" stroke-width="0.66" stroke-linecap="round" fill="none"/>
<path d="M440.3 352.2h.01M439.3 368.1h.01M438.2 367.7h.01M437.6 369.9h.01M440.0 363.6h.01M439.1 387.6h.01M437.6 366.7h.01M438.6 353.8h.01M440.0 363.8h.01M438.2 349.8h.01M437.9 383.6h.01M438.9 374.9h.01M437.8 363.8h.01M440.1 347.4h.01M441.0 387.0h.01M439.8 359.8h.01M440.3 350.2h.01M438.3 387.8h.01M437.2 379.0h.01M438.5 349.7h.01M437.9 389.9h.01M437.9 361.6h.01M437.6 353.3h.01M438.7 387.4h.01M439.1 374.6h.01M438.7 363.4h.01M439.5 393.5h.01M440.1 372.6h.01M439.8 384.0h.01M439.7 392.8h.01M438.9 393.3h.01M438.7 375.1h.01M440.1 349.3h.01M439.2 378.2h.01M440.3 350.4h.01M440.3 371.8h.01M440.5 345.1h.01M439.1 390.2h.01M439.5 381.7h.01M438.9 394.5h.01M440.5 361.9h.01M437.9 380.9h.01M436.9 380.2h.01M439.0 387.2h.01M439.6 380.6h.01M438.9 349.6h.01M439.6 365.2h.01M441.0 379.3h.01M438.4 374.3h.01M438.7 390.6h.01M438.6 354.3h.01M439.7 353.9h.01M439.7 393.2h.01M437.8 378.5h.01M439.6 354.4h.01M438.8 355.8h.01M437.0 356.2h.01M440.8 367.9h.01M439.2 372.3h.01M439.1 375.7h.01M437.0 388.0h.01M438.9 392.6h.01M438.5 351.5h.01M438.7 383.2h.01M439.1 380.0h.01M439.3 351.2h.01M438.6 366.3h.01M440.1 345.7h.01M438.4 358.1h.01M439.6 351.7h.01M437.8 355.0h.01M439.6 347.2h.01M438.8 358.7h.01M440.4 377.4h.01M440.3 352.1h.01M439.6 356.2h.01M438.9 377.0h.01M438.0 359.3h.01M438.6 369.0h.01M438.3 367.2h.01M440.3 372.4h.01M438.2 387.3h.01M437.9 370.9h.01M438.1 373.8h.01M439.5 377.0h.01M441.0 386.0h.01M439.2 350.4h.01M438.9 389.1h.01M438.4 389.7h.01M437.1 356.6h.01M440.2 381.5h.01M438.9 370.8h.01M439.0 368.1h.01M440.0 359.9h.01M438.5 358.3h.01M439.8 352.0h.01M439.3 363.2h.01M438.2 384.2h.01M438.7 360.5h.01M438.1 384.8h.01M439.1 363.7h.01M440.0 394.7h.01M439.1 371.4h.01M441.3 347.4h.01M439.8 384.4h.01M440.7 355.7h.01M439.9 374.4h.01M440.9 380.8h.01M439.6 370.0h.01M438.6 390.7h.01M439.3 389.1h.01M439.6 387.1h.01M438.5 386.7h.01M439.0 360.4h.01M439.0 352.7h.01M438.3 379.7h.01M438.3 367.0h.01M439.5 368.0h.01M438.1 350.3h.01M439.2 378.8h.01M437.3 359.4h.01M439.1 378.3h.01M439.4 379.0h.01M440.3 372.2h.01M436.8 362.9h.01M440.0 349.1h.01M438.9 389.6h.01M439.2 386.8h.01M439.5 355.3h.01M440.2 387.8h.01M438.7 376.7h.01M439.9 349.2h.01M440.6 375.7h.01M437.7 357.2h.01M439.4 350.5h.01M438.7 360.2h.01M440.6 378.4h.01M439.8 385.4h.01M438.6 358.9h.01M438.5 375.4h.01M439.3 361.1h.01M437.8 385.0h.01M437.9 387.5h.01M439.7 378.2h.01M437.8 355.2h.01M439.3 366.8h.01M441.1 345.8h.01M438.1 385.7h.01M439.1 373.9h.01M439.2 383.4h.01M439.7 368.1h.01M439.8 351.1h.01M438.5 379.6h.01M438.5 370.1h.01M438.4 383.2h.01M440.5 345.6h.01M439.5 349.3h.01M441.0 345.5h.01M439.0 350.7h.01M438.9 366.6h.01" stroke="#111" stroke-width="0.66" stroke-linecap="round" fill="none"/>
<path d="M458.4 398.9h.01M447.9 397.4h.01M450.1 397.3h.01M440.4 396.9h.01M447.1 400.1h.01M471.2 397.1h.01M457.0 398.2h.01M454.7 397.7h.01M443.3 397.6h.01M445.0 398.1h.01M443.2 399.1h.01M444.8 398.4h.01M468.1 397.1h.01M457.4 396.9h.01M461.5 397.4h.01M451.6 397.2h.01M451.2 398.4h.01M476.8 397.3h.01M459.6 398.5h.01M473.2 397.2h.01M469.4 397.8h.01M468.4 398.6h.01M466.5 397.6h.01M460.5 397.0h.01M475.7 397.2h.01M476.9 397.7h.01M477.8 397.4h.01M450.0 397.0h.01M440.7 396.8h.01M464.4 398.4h.01M484.8 397.3h.01M445.0 397.4h.01M455.3 397.6h.01M442.7 398.1h.01M459.5 398.3h.01M445.5 397.3h.01M448.1 398.1h.01M467.9 398.4h.01M453.2 397.3h.01M440.3 397.5h.01M452.3 397.4h.01M448.7 398.2h.01M477.8 397.2h.01M483.2 397.6h.01M451.8 398.0h.01M478.9 397.3h.01M467.0 398.0h.01M452.8 397.2h.01M453.5 397.9h.01M482.4 397.6h.01M443.3 396.8h.01M469.6 399.4h.01M443.3 398.3h.01M481.0 397.4h.01M443.8 398.3h.01M452.5 397.9h.01M464.0 397.2h.01M471.6 397.5h.01M465.2 397.6h.01M458.6 397.2h.01M446.3 397.6h.01M450.4 397.1h.01M466.9 397.7h.01M454.6 397.0h.01M462.3 397.2h.01M481.0 397.0h.01M482.2 397.6h.01M457.2 398.6h.01M483.3 396.9h.01M460.2 398.5h.01M449.9 397.4h.01M440.2 398.5h.01M454.0 397.5h.01M445.8 397.0h.01M448.5 397.4h.01M457.6 396.9h.01M462.6 397.4h.01M445.8 397.5h.01M481.4 397.9h.01M471.0 398.0h.01M454.5 397.6h.01M469.4 397.3h.01M476.8 398.8h.01M445.3 397.0h.01M440.7 398.1h.01M478.6 397.4h.01M481.6 397.4h.01M482.4 397.8h.01M479.9 397.2h.01M452.4 397.5h.01M446.7 396.9h.01M475.9 397.9h.01M469.7 397.1h.01M460.3 397.4h.01M480.1 398.7h.01M471.0 397.1h.01M479.5 397.9h.01M460.6 396.8h.01M476.1 396.9h.01M477.7 397.5h.01M461.6 397.2h.01M441.9 397.3h.01M450.1 397.1h.01M452.3 396.9h.01M482.4 396.9h.01M476.1 396.8h.01M453.6 397.5h.01M469.9 398.2h.01M454.6 397.4h.01M455.3 399.0h.01M462.4 398.3h.01M453.2 396.9h.01M469.4 396.9h.01M470.0 397.8h.01M482.4 397.8h.01M461.5 398.5h.01M482.5 397.8h.01M447.3 397.3h.01M451.7 397.8h.01M456.1 397.7h.01M483.3 397.0h.01M474.6 396.9h.01M465.1 397.4h.01M482.5 397.9h.01M454.9 397.1h.01M464.0 399.1h.01M441.4 397.0h.01M472.8 396.8h.01M468.7 398.3h.01M474.9 398.1h.01M468.4 397.8h.01M471.2 397.4h.01M457.5 398.1h.01M470.3 397.5h.01M481.7 398.1h.01M445.1 396.9h.01M463.6 397.5h.01M451.5 397.2h.01M452.4 397.0h.01M464.1 398.8h.01M443.8 398.5h.01M441.2 396.9h.01M448.8 398.5h.01M458.0 396.9h.01M440.6 396.8h.01M465.6 397.5h.01M459.2 397.7h.01M441.8 397.3h.01M454.7 397.7h.01M466.5 397.8h.01" stroke="#111" stroke-width="0.66" stroke-linecap="round" fill="none"/>
<path d="M446.63 333.91 C449.76 330.00 449.76 331.64 455.59 330.93 C461.42 330.22 459.71 329.79 464.12 331.78 C468.53 333.77 467.39 332.78 468.81 336.90 C470.23 341.02 469.95 340.31 468.39 344.15 C466.83 347.99 464.69 345.01 464.12 348.42 C463.55 351.83 464.40 349.91 466.68 354.39 C468.96 358.87 468.89 356.02 470.95 361.85 C473.01 367.68 472.59 365.13 472.87 371.88 C473.15 378.63 473.58 375.71 471.80 382.11 C470.02 388.51 471.16 386.52 467.53 391.07 C463.90 395.62 466.32 393.91 460.92 395.76 C455.52 397.61 456.94 397.18 451.33 396.61 C445.72 396.04 447.49 397.47 444.08 394.06 C440.67 390.65 442.23 392.50 441.09 386.38 C439.95 380.26 440.38 382.46 440.66 375.71 C440.94 368.96 440.52 372.52 441.94 366.12 C443.36 359.72 442.80 362.42 444.93 356.52 C447.06 350.62 447.91 353.04 448.34 348.42 C448.77 343.80 446.78 347.50 446.21 342.66 C445.64 337.82 443.50 337.82 446.63 333.91 Z" fill="#6c6c6c" stroke="#2c2c2c" stroke-width="0.45" />
<path d="M450.90 349.70 C456.16 347.21 457.16 348.20 461.99 350.12 C466.82 352.04 462.84 351.18 465.40 355.45 C467.96 359.72 467.68 357.44 469.67 362.92 C471.66 368.40 471.16 365.62 471.37 371.88 C471.58 378.14 472.01 375.58 470.31 381.69 C468.61 387.80 469.60 385.96 466.26 390.22 C462.92 394.48 465.26 392.78 460.28 394.48 C455.30 396.18 456.45 395.90 451.33 395.33 C446.21 394.76 447.92 395.91 444.93 392.78 C441.94 389.65 443.37 391.50 442.37 385.95 C441.37 380.40 441.66 382.54 441.94 376.14 C442.22 369.74 441.80 372.94 443.22 366.76 C444.64 360.58 443.65 363.28 446.21 357.59 C448.77 351.90 445.64 352.19 450.90 349.70 Z" fill="#787878" stroke="#2c2c2c" stroke-width="0.38" />
<path d="M450.83 352.08 C455.53 349.81 456.42 350.72 460.74 352.47 C465.06 354.21 461.50 353.44 463.79 357.33 C466.07 361.22 465.82 359.14 467.60 364.14 C469.38 369.13 468.93 366.61 469.12 372.31 C469.31 378.02 469.70 375.68 468.17 381.26 C466.65 386.83 467.54 385.15 464.55 389.04 C461.57 392.93 463.66 391.37 459.21 392.92 C454.76 394.48 455.78 394.21 451.21 393.70 C446.64 393.18 448.16 394.22 445.49 391.37 C442.82 388.52 444.09 390.20 443.20 385.14 C442.31 380.08 442.56 382.03 442.82 376.20 C443.07 370.36 442.69 373.28 443.96 367.64 C445.23 362.00 444.35 364.46 446.63 359.28 C448.92 354.09 446.12 354.35 450.83 352.08 Z" fill="#838383" stroke="#2c2c2c" stroke-width="0.38" />
<path d="M450.75 354.47 C454.91 352.41 455.70 353.23 459.52 354.81 C463.35 356.39 460.19 355.69 462.22 359.20 C464.24 362.72 464.02 360.85 465.60 365.36 C467.17 369.87 466.77 367.59 466.94 372.74 C467.11 377.90 467.45 375.79 466.10 380.83 C464.76 385.86 465.54 384.34 462.90 387.85 C460.26 391.37 462.11 389.96 458.17 391.36 C454.23 392.77 455.14 392.53 451.09 392.07 C447.04 391.60 448.39 392.54 446.03 389.96 C443.66 387.39 444.79 388.91 444.00 384.34 C443.21 379.77 443.44 381.52 443.66 376.25 C443.89 370.98 443.55 373.62 444.67 368.52 C445.80 363.43 445.01 365.65 447.04 360.97 C449.06 356.28 446.59 356.52 450.75 354.47 Z" fill="#8e8e8e" stroke="#2c2c2c" stroke-width="0.38" />
<path d="M450.67 356.85 C454.31 355.02 455.00 355.75 458.35 357.16 C461.69 358.57 458.93 357.94 460.70 361.08 C462.48 364.22 462.28 362.55 463.66 366.58 C465.04 370.61 464.69 368.57 464.83 373.17 C464.98 377.78 465.28 375.89 464.10 380.39 C462.92 384.89 463.61 383.53 461.30 386.67 C458.99 389.81 460.61 388.55 457.16 389.81 C453.72 391.06 454.51 390.85 450.97 390.43 C447.43 390.02 448.61 390.86 446.54 388.56 C444.48 386.25 445.46 387.61 444.77 383.53 C444.08 379.45 444.28 381.02 444.47 376.31 C444.67 371.60 444.37 373.96 445.36 369.41 C446.34 364.85 445.66 366.84 447.43 362.66 C449.20 358.47 447.03 358.68 450.67 356.85 Z" fill="#999999" stroke="#2c2c2c" stroke-width="0.38" />
<path d="M450.59 359.23 C453.73 357.62 454.32 358.26 457.21 359.50 C460.09 360.75 457.71 360.19 459.24 362.96 C460.76 365.72 460.60 364.25 461.78 367.80 C462.97 371.35 462.67 369.55 462.80 373.60 C462.92 377.66 463.18 376.00 462.17 379.96 C461.15 383.92 461.74 382.73 459.75 385.49 C457.76 388.25 459.15 387.15 456.19 388.25 C453.22 389.35 453.90 389.17 450.85 388.80 C447.80 388.43 448.82 389.17 447.03 387.15 C445.25 385.12 446.10 386.32 445.51 382.72 C444.91 379.13 445.08 380.51 445.25 376.37 C445.42 372.22 445.17 374.29 446.02 370.29 C446.86 366.28 446.27 368.03 447.80 364.34 C449.32 360.66 447.46 360.85 450.59 359.23 Z" fill="#a4a4a4" stroke="#2c2c2c" stroke-width="0.38" />
<path d="M450.51 361.62 C453.16 360.22 453.67 360.78 456.10 361.85 C458.54 362.92 456.53 362.45 457.82 364.84 C459.11 367.22 458.97 365.95 459.97 369.02 C460.98 372.09 460.72 370.53 460.83 374.04 C460.94 377.54 461.15 376.11 460.30 379.53 C459.44 382.95 459.94 381.92 458.25 384.31 C456.57 386.69 457.75 385.74 455.24 386.69 C452.73 387.65 453.31 387.49 450.73 387.17 C448.15 386.85 449.01 387.49 447.50 385.74 C446.00 383.99 446.72 385.02 446.21 381.92 C445.71 378.81 445.85 380.00 446.00 376.42 C446.14 372.84 445.93 374.63 446.64 371.17 C447.36 367.71 446.86 369.22 448.15 366.03 C449.44 362.85 447.86 363.01 450.51 361.62 Z" fill="#b0b0b0" stroke="#2c2c2c" stroke-width="0.38" />
<path d="M450.43 364.00 C452.62 362.82 453.03 363.29 455.04 364.20 C457.05 365.10 455.39 364.70 456.45 366.71 C457.52 368.73 457.40 367.65 458.23 370.24 C459.05 372.82 458.85 371.51 458.93 374.47 C459.02 377.42 459.20 376.21 458.49 379.10 C457.79 381.98 458.20 381.11 456.81 383.12 C455.42 385.14 456.39 384.33 454.33 385.13 C452.26 385.94 452.74 385.80 450.61 385.54 C448.48 385.27 449.19 385.81 447.95 384.33 C446.71 382.86 447.30 383.73 446.89 381.11 C446.47 378.49 446.59 379.50 446.71 376.48 C446.83 373.46 446.65 374.97 447.24 372.05 C447.83 369.13 447.42 370.41 448.48 367.72 C449.55 365.04 448.25 365.17 450.43 364.00 Z" fill="#bcbcbc" stroke="#2c2c2c" stroke-width="0.38" />
<path d="M450.35 366.38 C452.09 365.43 452.41 365.81 454.01 366.54 C455.61 367.28 454.29 366.95 455.14 368.59 C455.98 370.23 455.89 369.35 456.55 371.46 C457.20 373.56 457.04 372.50 457.11 374.90 C457.18 377.30 457.32 376.32 456.76 378.67 C456.20 381.01 456.52 380.30 455.42 381.94 C454.32 383.58 455.09 382.92 453.45 383.58 C451.80 384.23 452.18 384.12 450.49 383.90 C448.80 383.69 449.36 384.12 448.38 382.92 C447.39 381.72 447.86 382.43 447.53 380.30 C447.20 378.17 447.30 378.99 447.39 376.53 C447.48 374.08 447.34 375.31 447.81 372.93 C448.28 370.56 447.95 371.59 448.80 369.41 C449.64 367.23 448.61 367.34 450.35 366.38 Z" fill="#c8c8c8" stroke="#2c2c2c" stroke-width="0.38" />
<path d="M450.26 368.76 C451.57 368.03 451.82 368.32 453.02 368.89 C454.22 369.46 453.23 369.20 453.87 370.47 C454.50 371.73 454.44 371.06 454.93 372.68 C455.42 374.30 455.30 373.48 455.35 375.33 C455.41 377.18 455.51 376.42 455.09 378.23 C454.67 380.04 454.91 379.50 454.08 380.76 C453.25 382.02 453.83 381.52 452.60 382.02 C451.36 382.52 451.64 382.44 450.37 382.27 C449.10 382.10 449.52 382.44 448.78 381.52 C448.04 380.59 448.39 381.14 448.14 379.49 C447.89 377.85 447.96 378.48 448.04 376.59 C448.11 374.70 448.00 375.64 448.35 373.81 C448.71 371.98 448.46 372.78 449.10 371.10 C449.73 369.42 448.96 369.50 450.26 368.76 Z" fill="#d6d6d6" stroke="#2c2c2c" stroke-width="0.38" />
<path d="M450.18 371.15 C451.07 370.63 451.24 370.84 452.07 371.23 C452.89 371.63 452.21 371.46 452.65 372.34 C453.09 373.23 453.04 372.76 453.38 373.90 C453.72 375.04 453.63 374.46 453.67 375.76 C453.70 377.06 453.78 376.53 453.49 377.80 C453.20 379.07 453.37 378.69 452.80 379.58 C452.23 380.46 452.63 380.11 451.78 380.46 C450.93 380.82 451.12 380.76 450.25 380.64 C449.38 380.52 449.67 380.76 449.16 380.11 C448.65 379.46 448.89 379.84 448.72 378.69 C448.55 377.53 448.60 377.98 448.65 376.65 C448.70 375.32 448.62 375.98 448.87 374.70 C449.11 373.41 448.94 373.97 449.38 372.79 C449.81 371.61 449.28 371.67 450.18 371.15 Z" fill="#e6e6e6" stroke="#2c2c2c" stroke-width="0.38" />
<ellipse cx="450.69" cy="377.85" rx="0.8" ry="3.2" fill="#fff" stroke="none" stroke-width="0" transform="rotate(5 450.69 377.85)" />
<path d="M450.47 336.47 C452.39 334.19 452.82 334.19 456.66 333.91 C460.50 333.63 459.50 334.05 461.99 335.62 C464.48 337.19 464.12 336.48 464.12 338.61 C464.12 340.74 464.83 340.60 461.99 342.02 C459.15 343.44 459.29 343.30 455.59 342.87 C451.89 342.44 452.61 342.87 450.90 340.74 C449.19 338.61 448.55 338.75 450.47 336.47 Z" fill="#949494" stroke="#2c2c2c" stroke-width="0.4" />
<path d="M453.03 337.33 C454.31 336.05 454.74 335.62 457.30 335.62 C459.86 335.62 459.72 335.91 460.71 337.33 C461.70 338.75 461.84 338.75 460.28 339.89 C458.72 341.03 458.29 340.88 456.02 340.74 C453.75 340.60 454.46 340.60 453.46 339.46 C452.46 338.32 451.75 338.61 453.03 337.33 Z" fill="#a8a8a8" stroke="#2c2c2c" stroke-width="0.35" />
<path d="M444.9 325.6 H506.8 V345.9 H444.9 Z M468 325.6 V338.6" fill="none" stroke="#8c8c8c" stroke-width="1.4"/>
</g>
<path d="M437.7 319.7 H518.7 V399.1" fill="none" stroke="#9a9a9a" stroke-width="1"/>
<path d="M437.7 319.7 V399.1 H518.7" fill="none" stroke="#3a3a3a" stroke-width="1"/>
<path d="M437.70 396.81h-1.2M437.70 394.28h-1.2M437.70 392.31h-1.2M437.70 390.70h-1.2M437.70 389.34h-1.2M437.70 388.17h-1.2M437.70 387.13h-1.2M437.70 386.20h-2.4M437.70 380.09h-1.2M437.70 376.51h-1.2M437.70 373.98h-1.2M437.70 372.01h-1.2M437.70 370.40h-1.2M437.70 369.04h-1.2M437.70 367.87h-1.2M437.70 366.83h-1.2M437.70 365.90h-2.4M437.70 359.79h-1.2M437.70 356.21h-1.2M437.70 353.68h-1.2M437.70 351.71h-1.2M437.70 350.10h-1.2M437.70 348.74h-1.2M437.70 347.57h-1.2M437.70 346.53h-1.2M437.70 345.60h-2.4M437.70 339.49h-1.2M437.70 335.91h-1.2M437.70 333.38h-1.2M437.70 331.41h-1.2M437.70 329.80h-1.2M437.70 328.44h-1.2M437.70 327.27h-1.2M437.70 326.23h-1.2M437.70 325.30h-2.4M441.91 399.10v1.2M445.31 399.10v1.2M447.72 399.10v1.2M449.59 399.10v1.2M451.12 399.10v1.2M452.41 399.10v1.2M453.53 399.10v1.2M454.52 399.10v1.2M455.40 399.10v2.4M461.21 399.10v1.2M464.61 399.10v1.2M467.02 399.10v1.2M468.89 399.10v1.2M470.42 399.10v1.2M471.71 399.10v1.2M472.83 399.10v1.2M473.82 399.10v1.2M474.70 399.10v2.4M480.51 399.10v1.2M483.91 399.10v1.2M486.32 399.10v1.2M488.19 399.10v1.2M489.72 399.10v1.2M491.01 399.10v1.2M492.13 399.10v1.2M493.12 399.10v1.2M494.00 399.10v2.4M499.81 399.10v1.2M503.21 399.10v1.2M505.62 399.10v1.2M507.49 399.10v1.2M509.02 399.10v1.2M510.31 399.10v1.2M511.43 399.10v1.2M512.42 399.10v1.2M513.30 399.10v2.4" stroke="#3a3a3a" stroke-width="0.7" fill="none"/>
<text x="434.4" y="387.1" font-size="2.9" text-anchor="middle" fill="#444" font-weight="normal" transform="rotate(-90 434.4 387.1)" >10<tspan font-size="2" dy="-1.2">2</tspan></text>
<text x="434.4" y="371.5" font-size="2.9" text-anchor="middle" fill="#444" font-weight="normal" transform="rotate(-90 434.4 371.5)" >10<tspan font-size="2" dy="-1.2">3</tspan></text>
<text x="434.4" y="355.90000000000003" font-size="2.9" text-anchor="middle" fill="#444" font-weight="normal" transform="rotate(-90 434.4 355.90000000000003)" >10<tspan font-size="2" dy="-1.2">4</tspan></text>
<text x="434.4" y="340.3" font-size="2.9" text-anchor="middle" fill="#444" font-weight="normal" transform="rotate(-90 434.4 340.3)" >10<tspan font-size="2" dy="-1.2">5</tspan></text>
<text x="455.4" y="404.6" font-size="2.9" text-anchor="middle" fill="#444" font-weight="normal" >0</text>
<text x="474.9" y="404.6" font-size="2.9" text-anchor="middle" fill="#444" font-weight="normal" >10<tspan font-size="2" dy="-1.2">2</tspan></text>
<text x="496.4" y="404.6" font-size="2.9" text-anchor="middle" fill="#444" font-weight="normal" >10<tspan font-size="2" dy="-1.2">3</tspan></text>
<text x="516.9" y="404.6" font-size="2.9" text-anchor="middle" fill="#444" font-weight="normal" >10<tspan font-size="2" dy="-1.2">4</tspan></text>
<text x="440.6" y="406.2" font-size="2.4" text-anchor="middle" fill="#444" font-weight="normal" >-1.170</text>
<text x="440.6" y="402.2" font-size="2.6" text-anchor="middle" fill="#222" font-weight="bold" >M</text>
<clipPath id="cE4"><rect x="332.4" y="320.3" width="81.5" height="79.9"/></clipPath>
<g clip-path="url(#cE4)">
<path d="M354.7 396.6h.01M383.1 372.6h.01M376.5 388.2h.01M371.8 367.3h.01M367.5 360.7h.01M369.7 363.9h.01M387.7 362.6h.01M357.6 349.4h.01M372.4 364.0h.01M356.0 348.1h.01M388.0 370.8h.01M367.5 384.9h.01M356.8 347.3h.01M375.5 385.3h.01M376.7 384.4h.01M365.4 350.5h.01M384.6 363.2h.01M356.3 393.2h.01M384.6 359.6h.01M369.7 351.7h.01M369.0 368.2h.01M374.6 378.2h.01M384.2 366.8h.01M369.5 383.8h.01M372.2 360.9h.01M367.5 386.7h.01M383.5 383.4h.01M369.5 352.4h.01M368.4 390.3h.01M372.8 382.2h.01M362.6 391.2h.01M367.3 364.6h.01M381.6 362.2h.01M382.8 350.9h.01M354.2 390.8h.01M376.7 384.1h.01M371.8 385.2h.01M362.3 351.3h.01M368.0 360.7h.01M345.6 353.0h.01M381.4 386.6h.01M368.6 355.7h.01M355.2 393.2h.01M347.1 352.2h.01M367.6 352.5h.01M365.6 350.8h.01M350.3 374.9h.01M384.3 382.1h.01M370.5 369.1h.01M368.4 382.7h.01M373.6 380.6h.01M354.4 349.7h.01M363.5 352.8h.01M349.7 378.8h.01M348.6 349.6h.01M366.5 389.1h.01M381.6 389.0h.01M387.6 382.2h.01M382.5 356.5h.01M347.9 353.9h.01M349.4 375.4h.01M350.2 351.4h.01M378.7 354.3h.01M371.7 375.7h.01M369.0 361.4h.01M376.9 384.8h.01M352.8 383.1h.01M369.9 365.5h.01M375.0 377.7h.01M370.0 361.3h.01M378.5 354.7h.01M385.6 368.3h.01M362.1 348.8h.01M368.7 369.2h.01M368.1 356.4h.01M368.2 356.5h.01M371.4 357.7h.01M369.9 361.2h.01M366.2 354.3h.01M379.4 351.2h.01M368.6 366.6h.01M367.1 355.1h.01M349.0 361.2h.01M365.7 363.0h.01M370.9 355.0h.01M380.9 365.8h.01M367.3 373.9h.01M347.5 387.9h.01M355.5 393.1h.01M373.4 354.1h.01M364.9 392.2h.01M365.4 379.9h.01M350.8 390.2h.01M368.8 351.3h.01M350.2 388.9h.01M378.1 384.9h.01M361.4 353.9h.01M374.5 356.8h.01M371.4 365.0h.01M371.1 374.6h.01M352.6 391.9h.01M368.5 374.0h.01M351.3 385.7h.01M368.6 353.2h.01M365.9 390.6h.01M351.5 384.7h.01M385.0 386.9h.01M349.9 389.6h.01M370.2 388.4h.01M372.8 376.9h.01M348.7 387.2h.01M348.5 353.9h.01M386.4 373.2h.01M384.6 361.3h.01M368.8 380.2h.01M346.9 350.7h.01M382.8 357.0h.01M349.6 348.3h.01M372.7 371.7h.01M351.6 350.4h.01M372.5 375.4h.01M351.1 350.7h.01M382.1 390.1h.01M384.1 387.6h.01M352.1 381.2h.01M348.4 350.9h.01M383.0 389.3h.01M355.8 391.4h.01M349.2 375.4h.01M369.8 370.2h.01M348.8 352.3h.01M386.8 378.8h.01M371.5 372.7h.01M367.6 360.0h.01M374.5 380.1h.01M344.5 358.7h.01M362.4 350.8h.01M356.7 352.1h.01M346.1 348.8h.01M349.0 367.0h.01M382.0 354.8h.01M349.3 357.7h.01M346.2 353.8h.01M356.6 351.5h.01M351.1 390.4h.01M376.3 383.9h.01M350.2 386.6h.01M370.8 372.2h.01M376.7 383.1h.01M342.9 355.8h.01M350.4 383.0h.01M378.0 388.5h.01M381.2 387.8h.01M358.9 353.5h.01M351.8 350.6h.01M380.0 388.5h.01M370.5 375.9h.01M350.7 387.6h.01M381.4 358.7h.01M384.6 387.7h.01M349.6 382.1h.01M386.0 364.2h.01M353.4 348.9h.01M375.9 352.9h.01M368.8 389.3h.01M374.2 358.0h.01M385.2 364.9h.01M348.6 355.1h.01M370.4 359.9h.01M346.8 352.5h.01M347.3 362.7h.01M372.8 372.9h.01M364.6 354.7h.01M369.1 393.2h.01M366.7 385.3h.01M351.1 371.2h.01M381.4 390.0h.01M369.5 369.2h.01M368.4 385.4h.01M371.8 354.1h.01M387.7 371.4h.01M362.9 350.8h.01M364.9 391.6h.01M370.5 370.5h.01M362.5 391.5h.01M366.4 371.8h.01M374.1 382.4h.01M369.4 358.4h.01M354.4 391.9h.01M386.3 389.0h.01M351.4 376.4h.01M363.4 351.7h.01M369.5 358.8h.01M383.3 388.3h.01M384.3 365.4h.01M381.3 353.4h.01M386.9 366.9h.01M353.8 392.5h.01M386.8 379.4h.01M369.3 364.8h.01M367.7 389.1h.01M369.4 361.4h.01M350.9 376.5h.01M384.6 383.1h.01M369.5 360.2h.01M360.3 391.3h.01M369.3 357.5h.01M355.3 347.1h.01M348.5 376.5h.01M375.3 350.9h.01M388.3 375.5h.01M370.3 358.8h.01M368.8 370.5h.01M368.8 366.5h.01M363.9 350.3h.01M369.7 355.7h.01M370.4 374.2h.01M355.6 349.0h.01M372.8 353.3h.01M358.9 350.6h.01M370.4 363.8h.01M382.2 389.0h.01M352.1 349.8h.01M351.6 377.4h.01M350.1 370.8h.01M347.9 365.7h.01M362.6 391.0h.01M376.2 382.7h.01M371.0 367.9h.01M373.0 376.7h.01M361.7 350.3h.01M359.4 395.2h.01M360.4 357.0h.01M371.9 359.4h.01M365.8 355.6h.01M377.6 388.6h.01M370.0 365.8h.01M369.2 367.8h.01M382.0 359.0h.01M348.9 376.1h.01M383.5 368.0h.01M373.0 356.2h.01M367.6 351.7h.01M388.1 378.1h.01M383.6 365.8h.01M347.6 348.6h.01M352.9 388.9h.01M369.5 363.0h.01M383.1 360.3h.01M369.9 382.4h.01M370.0 352.4h.01M352.7 392.3h.01M347.1 359.0h.01M347.8 351.0h.01M369.8 378.1h.01M369.5 372.3h.01M372.7 354.7h.01M366.4 374.5h.01M370.4 358.0h.01M351.9 383.2h.01M366.6 370.9h.01M352.0 392.6h.01M370.2 356.2h.01M372.9 364.5h.01M387.2 380.5h.01M349.9 356.4h.01M370.8 355.6h.01M383.4 379.5h.01M377.8 353.6h.01M380.3 350.8h.01M373.7 382.3h.01M384.8 388.8h.01M378.1 354.2h.01M359.7 391.2h.01M386.0 371.1h.01M377.4 354.8h.01M348.9 385.9h.01M386.4 381.2h.01M382.6 386.4h.01M370.3 372.8h.01M371.2 367.3h.01M382.1 361.4h.01M367.7 352.2h.01M352.9 389.2h.01M368.3 363.8h.01M358.0 391.8h.01M367.1 372.1h.01M368.6 363.2h.01M369.1 363.8h.01M370.6 366.7h.01M370.0 367.9h.01M349.4 387.8h.01M374.3 354.0h.01M359.4 348.9h.01M370.9 356.0h.01M348.4 355.3h.01M367.1 366.0h.01M350.7 387.5h.01M358.1 392.3h.01M371.4 381.0h.01M355.4 350.0h.01M374.0 377.9h.01M383.8 384.1h.01M374.0 382.9h.01M380.9 387.8h.01M387.0 361.2h.01M361.3 352.6h.01M346.7 353.7h.01M373.1 354.6h.01M385.4 376.3h.01M370.9 374.8h.01M350.9 348.9h.01M370.0 357.7h.01M382.5 354.1h.01M349.8 350.1h.01M350.2 391.5h.01M374.1 361.2h.01M351.6 387.9h.01M384.2 359.9h.01M380.9 392.4h.01M348.0 364.6h.01M349.2 376.2h.01M350.3 383.2h.01M364.2 391.4h.01M380.3 386.3h.01M345.1 366.2h.01M360.5 349.1h.01M369.2 355.0h.01M365.6 355.8h.01M378.7 383.9h.01M370.8 358.6h.01M388.4 375.8h.01M367.0 382.3h.01M366.2 395.7h.01M368.9 375.1h.01M368.4 357.3h.01M383.0 364.8h.01M350.7 366.3h.01M375.3 381.8h.01M357.4 351.1h.01M349.8 388.1h.01M387.2 380.3h.01M348.1 390.4h.01M388.2 381.1h.01M374.6 383.1h.01M382.7 356.2h.01M366.0 385.7h.01M350.1 360.9h.01M385.2 356.9h.01M371.9 376.3h.01M350.6 369.4h.01M377.1 383.5h.01M349.1 388.7h.01M368.0 382.9h.01M384.8 369.6h.01M369.7 373.1h.01M353.7 390.9h.01M388.1 371.0h.01M370.6 364.2h.01M368.0 373.1h.01M349.8 350.5h.01M360.6 389.9h.01M376.5 355.5h.01M384.9 360.7h.01M351.4 349.0h.01M349.8 389.9h.01M348.3 371.5h.01M368.2 366.8h.01M371.5 357.0h.01M377.9 355.2h.01M378.7 353.8h.01M369.8 362.8h.01M365.5 353.7h.01M373.9 377.0h.01M354.1 349.3h.01M371.4 374.2h.01M355.2 350.3h.01M372.9 365.6h.01M372.8 354.6h.01M378.9 352.8h.01" stroke="#888" stroke-width="0.64" stroke-linecap="round" fill="none"/>
<path d="M388.1 344.7h.01M383.4 349.8h.01M387.4 348.9h.01M387.0 345.9h.01M388.4 349.0h.01M373.4 348.2h.01M381.7 344.4h.01M377.2 344.1h.01M371.3 346.0h.01M374.3 347.3h.01M384.4 349.0h.01M385.9 354.8h.01M386.6 355.4h.01M380.7 352.1h.01M386.3 350.5h.01M372.6 350.2h.01M379.8 346.2h.01M371.7 346.2h.01M382.9 353.7h.01M382.1 349.1h.01M370.5 344.1h.01M382.1 350.4h.01M378.4 346.1h.01M372.3 346.2h.01M372.4 351.2h.01M375.7 350.7h.01M377.9 350.6h.01M383.8 353.4h.01M372.8 355.5h.01M385.8 353.8h.01M378.4 355.4h.01M385.0 346.9h.01M382.7 354.2h.01M383.9 354.8h.01M379.8 352.1h.01M371.4 352.0h.01M372.7 352.7h.01M386.7 348.5h.01M371.3 344.5h.01M379.6 345.9h.01M383.7 351.3h.01M379.3 352.1h.01M372.8 349.5h.01M370.9 350.6h.01M384.7 345.8h.01M382.7 355.9h.01M376.0 346.5h.01M374.7 354.0h.01M371.5 353.3h.01M374.8 353.1h.01M386.4 354.2h.01M373.6 350.6h.01M375.9 354.5h.01M375.5 346.0h.01M377.5 345.0h.01M374.1 352.4h.01M376.0 346.2h.01M387.3 347.1h.01M384.7 352.2h.01M380.3 351.8h.01M380.7 354.1h.01M382.8 347.2h.01M382.1 350.1h.01M387.1 345.4h.01M378.4 355.6h.01M371.3 352.7h.01M386.6 351.3h.01M371.1 353.3h.01M374.9 350.2h.01M385.1 347.8h.01M374.5 345.4h.01M376.3 345.2h.01M382.9 354.0h.01M371.0 350.3h.01M384.7 353.3h.01M374.9 350.4h.01M382.6 350.2h.01M388.5 354.9h.01M387.9 345.5h.01M370.5 351.1h.01M380.7 347.2h.01M374.5 353.4h.01M384.7 344.2h.01M372.3 352.6h.01M377.8 345.8h.01M387.6 348.0h.01M371.4 348.9h.01M377.5 351.8h.01M384.2 345.0h.01M378.7 354.8h.01M379.0 354.7h.01M386.7 353.7h.01M382.0 345.3h.01M388.2 347.6h.01M375.7 350.0h.01M379.9 353.2h.01M380.0 355.1h.01M384.5 351.8h.01M375.1 351.6h.01M379.3 353.1h.01M375.1 353.5h.01M383.2 346.1h.01M387.4 349.8h.01M378.2 348.0h.01M377.2 353.6h.01M387.1 349.6h.01M379.8 349.6h.01M372.3 354.7h.01M377.8 344.3h.01M374.3 347.6h.01M384.5 346.1h.01M372.9 354.8h.01M375.6 355.2h.01M370.2 345.1h.01M373.9 348.7h.01M380.0 347.9h.01M387.8 355.3h.01M380.5 355.8h.01M385.9 355.7h.01M380.8 345.3h.01M380.5 344.6h.01M377.6 355.9h.01M377.3 352.2h.01M387.6 352.5h.01M377.1 350.2h.01M372.3 353.4h.01M382.0 347.9h.01M378.0 354.2h.01M370.9 346.6h.01M381.6 353.5h.01M380.0 351.6h.01M370.2 350.8h.01M380.3 344.9h.01M379.8 347.0h.01M376.4 353.5h.01M385.5 344.1h.01M371.6 351.6h.01M387.1 351.6h.01M376.3 352.9h.01M386.9 344.8h.01M370.7 349.2h.01M383.2 350.3h.01M378.8 345.9h.01M373.1 344.5h.01M378.6 347.2h.01M380.7 349.6h.01M375.9 353.2h.01M376.2 349.5h.01M378.4 352.4h.01M388.1 352.9h.01" stroke="#999" stroke-width="0.6" stroke-linecap="round" fill="none"/>
<path d="M347.11 349.10 C348.94 346.84 351.34 349.00 355.65 349.66 C359.96 350.32 362.51 350.61 365.60 351.94 C368.69 353.27 368.05 352.63 368.88 355.35 C369.71 358.07 369.26 359.35 369.16 363.60 C369.06 367.85 368.42 368.58 368.45 373.56 C368.48 378.54 369.30 380.79 369.30 384.94 C369.30 389.09 370.97 389.48 368.45 391.34 C365.93 393.20 362.47 393.01 358.49 392.91 C354.51 392.81 353.44 392.45 351.38 390.92 C349.32 389.39 349.87 390.41 349.67 386.36 C349.47 382.31 350.96 379.86 350.53 373.56 C350.10 367.26 348.62 365.05 347.82 359.34 C347.02 353.63 345.28 351.36 347.11 349.10 Z" fill="#2e2e2e" stroke="#151515" stroke-width="0.6" />
<path d="M370.44 355.64 C371.63 352.92 373.04 355.79 375.56 354.79 C378.08 353.79 379.59 350.97 381.25 351.37 C382.91 351.77 381.94 353.64 382.67 356.49 C383.40 359.34 383.52 360.28 384.38 363.60 C385.24 366.92 385.77 366.74 386.37 370.72 C386.97 374.70 387.74 376.69 386.94 380.67 C386.14 384.65 384.62 385.80 382.96 387.79 C381.30 389.78 381.49 390.14 379.83 389.21 C378.17 388.28 377.25 385.92 375.85 383.80 C374.45 381.68 374.78 382.50 373.85 380.11 C372.92 377.72 372.66 376.75 371.86 373.56 C371.06 370.37 370.77 370.63 370.44 366.45 C370.11 362.27 369.25 358.36 370.44 355.64 Z" fill="#2e2e2e" stroke="#151515" stroke-width="0.6" />
<path d="M367.74 353.65 C368.70 349.27 370.92 351.80 372.01 354.79 C373.10 357.78 372.86 361.90 372.43 366.45 C372.00 371.00 371.22 372.61 370.16 374.27 C369.10 375.93 368.44 378.37 367.88 373.56 C367.32 368.75 366.78 358.03 367.74 353.65 Z" fill="#333" stroke="none" stroke-width="0" />
<path d="M348.88 350.85 C350.42 348.77 352.43 350.76 356.06 351.37 C359.68 351.98 361.82 352.24 364.42 353.46 C367.01 354.69 366.47 354.10 367.17 356.60 C367.87 359.11 367.49 360.28 367.41 364.19 C367.32 368.10 366.78 368.77 366.81 373.36 C366.84 377.94 367.52 380.01 367.52 383.82 C367.52 387.64 368.93 388.00 366.81 389.71 C364.69 391.42 361.79 391.25 358.44 391.16 C355.10 391.07 354.20 390.73 352.47 389.33 C350.74 387.92 351.20 388.86 351.03 385.13 C350.87 381.40 352.12 379.16 351.76 373.36 C351.39 367.55 350.15 365.52 349.48 360.27 C348.81 355.02 347.35 352.93 348.88 350.85 Z" fill="#444" stroke="#1a1a1a" stroke-width="0.45" />
<path d="M350.66 352.60 C351.90 350.71 353.53 352.52 356.47 353.07 C359.40 353.63 361.13 353.87 363.23 354.99 C365.33 356.10 364.90 355.57 365.46 357.85 C366.03 360.14 365.72 361.21 365.65 364.78 C365.58 368.35 365.15 368.97 365.17 373.15 C365.19 377.33 365.75 379.22 365.75 382.71 C365.75 386.19 366.89 386.52 365.17 388.09 C363.45 389.65 361.11 389.49 358.40 389.40 C355.69 389.32 354.96 389.02 353.56 387.73 C352.16 386.45 352.53 387.30 352.40 383.90 C352.26 380.50 353.28 378.45 352.98 373.15 C352.69 367.85 351.68 366.00 351.14 361.21 C350.60 356.41 349.42 354.50 350.66 352.60 Z" fill="#565656" stroke="#222" stroke-width="0.4" />
<path d="M352.43 354.36 C353.38 352.64 354.63 354.28 356.87 354.78 C359.12 355.29 360.44 355.51 362.05 356.51 C363.65 357.52 363.32 357.04 363.75 359.11 C364.19 361.17 363.95 362.15 363.90 365.38 C363.85 368.61 363.51 369.16 363.53 372.95 C363.55 376.73 363.97 378.44 363.97 381.59 C363.97 384.75 364.84 385.05 363.53 386.46 C362.22 387.87 360.42 387.73 358.35 387.65 C356.28 387.58 355.72 387.30 354.65 386.14 C353.58 384.98 353.87 385.75 353.76 382.67 C353.66 379.60 354.44 377.74 354.21 372.95 C353.99 368.15 353.22 366.48 352.80 362.14 C352.39 357.80 351.48 356.07 352.43 354.36 Z" fill="#6a6a6a" stroke="#2a2a2a" stroke-width="0.35" />
<path d="M354.79 355.78 C355.17 352.75 356.21 352.98 357.35 355.07 C358.49 357.16 358.15 358.67 359.06 363.60 C359.97 368.53 360.16 367.87 360.77 373.56 C361.38 379.25 361.57 380.69 361.34 384.94 C361.11 389.19 360.90 388.73 359.91 389.49 C358.92 390.25 358.32 390.90 357.64 387.79 C356.96 384.68 357.81 383.52 357.35 377.83 C356.89 372.14 356.61 372.33 355.93 366.45 C355.25 360.57 354.41 358.81 354.79 355.78 Z" fill="#8a8a8a" stroke="#333" stroke-width="0.3" />
<path d="M355.93 359.34 C355.93 356.31 356.52 356.31 357.35 359.34 C358.18 362.37 358.38 364.65 359.06 370.72 C359.74 376.79 359.91 377.93 359.91 382.10 C359.91 386.27 359.51 386.74 359.06 386.36 C358.61 385.98 358.67 384.84 358.21 380.67 C357.75 376.50 357.96 376.41 357.35 370.72 C356.74 365.03 355.93 362.37 355.93 359.34 Z" fill="#b4b4b4" stroke="none" stroke-width="0" />
<path d="M358.8 375.8h.01M358.1 378.8h.01M358.2 385.8h.01M358.5 379.3h.01M359.5 383.4h.01M359.7 387.7h.01M358.6 379.9h.01M357.7 361.8h.01M356.8 367.8h.01M356.6 360.8h.01M357.4 372.4h.01M357.9 377.1h.01M360.1 387.2h.01M356.5 359.3h.01M357.8 377.7h.01M357.2 364.2h.01M358.9 380.8h.01M358.2 382.3h.01M355.8 363.7h.01M358.3 363.6h.01M357.5 361.0h.01M359.2 382.2h.01M355.4 358.1h.01M357.2 366.8h.01M356.5 363.8h.01M359.6 385.3h.01M355.7 362.7h.01M358.1 377.1h.01M356.0 371.3h.01M356.3 361.9h.01M356.3 362.8h.01M358.6 369.8h.01M357.7 368.7h.01M358.5 376.9h.01M356.3 363.7h.01M357.2 366.2h.01M357.5 362.5h.01M357.2 371.7h.01M357.2 363.7h.01M355.6 360.7h.01M357.2 362.1h.01M357.3 369.4h.01M356.7 359.5h.01M357.6 374.1h.01M357.9 379.1h.01M356.7 364.6h.01M358.4 378.2h.01M360.5 386.4h.01M358.9 385.4h.01M355.7 361.4h.01M359.5 381.9h.01M355.8 358.4h.01M356.6 373.1h.01M359.3 380.1h.01M356.7 370.0h.01M358.2 377.2h.01M358.0 376.5h.01M358.5 381.6h.01M356.1 358.2h.01M356.9 357.3h.01M357.9 375.4h.01M356.8 359.0h.01M357.1 368.4h.01M358.9 382.7h.01M358.7 387.2h.01M358.8 382.1h.01M357.9 376.9h.01M357.2 372.8h.01M358.2 367.9h.01M359.1 377.3h.01" stroke="#ddd" stroke-width="0.6" stroke-linecap="round" fill="none"/>
<path d="M372.15 357.13 C373.11 354.68 374.23 357.26 376.25 356.36 C378.27 355.46 379.47 352.93 380.80 353.28 C382.13 353.64 381.35 355.32 381.94 357.89 C382.52 360.46 382.61 361.30 383.30 364.29 C383.99 367.28 384.42 367.11 384.90 370.70 C385.37 374.28 385.99 376.07 385.35 379.65 C384.72 383.24 383.50 384.27 382.17 386.06 C380.84 387.85 380.99 388.18 379.66 387.34 C378.34 386.50 377.60 384.38 376.48 382.47 C375.36 380.56 375.62 381.30 374.88 379.15 C374.14 377.00 373.92 376.12 373.29 373.25 C372.65 370.39 372.42 370.62 372.15 366.86 C371.89 363.09 371.20 359.57 372.15 357.13 Z" fill="#424242" stroke="#1a1a1a" stroke-width="0.45" />
<path d="M374.04 358.91 C374.73 356.79 375.54 359.02 377.00 358.25 C378.47 357.47 379.34 355.27 380.31 355.58 C381.27 355.89 380.71 357.35 381.13 359.57 C381.55 361.80 381.62 362.53 382.12 365.12 C382.62 367.71 382.93 367.56 383.27 370.67 C383.62 373.78 384.07 375.33 383.61 378.43 C383.14 381.54 382.26 382.43 381.30 383.99 C380.33 385.54 380.44 385.82 379.48 385.09 C378.52 384.37 377.98 382.53 377.17 380.87 C376.36 379.22 376.55 379.86 376.01 378.00 C375.47 376.13 375.32 375.37 374.86 372.89 C374.40 370.40 374.23 370.60 374.04 367.34 C373.84 364.08 373.34 361.03 374.04 358.91 Z" fill="#555" stroke="#222" stroke-width="0.4" />
<path d="M376.09 361.29 C376.50 359.60 376.97 361.38 377.83 360.76 C378.69 360.14 379.20 358.39 379.76 358.64 C380.33 358.89 380.00 360.04 380.25 361.81 C380.50 363.58 380.54 364.16 380.83 366.22 C381.12 368.28 381.30 368.17 381.51 370.64 C381.71 373.11 381.97 374.34 381.70 376.81 C381.43 379.27 380.91 379.98 380.35 381.22 C379.78 382.46 379.85 382.68 379.28 382.10 C378.72 381.52 378.40 380.06 377.93 378.75 C377.45 377.43 377.57 377.94 377.25 376.46 C376.93 374.98 376.84 374.37 376.57 372.40 C376.30 370.42 376.20 370.58 376.09 367.99 C375.98 365.40 375.68 362.97 376.09 361.29 Z" fill="#6c6c6c" stroke="#2a2a2a" stroke-width="0.35" />
<path d="M379.7 368.8h.01M377.3 368.1h.01M380.5 369.0h.01M377.0 373.1h.01M376.4 379.4h.01M380.9 363.8h.01M383.5 376.8h.01M376.9 368.1h.01M377.1 368.6h.01M380.2 368.5h.01M383.0 389.2h.01M378.9 375.3h.01M375.8 375.4h.01M378.8 371.2h.01M378.9 374.8h.01M382.4 372.1h.01M378.9 367.3h.01M379.2 387.3h.01M378.5 364.3h.01M375.0 362.3h.01M379.2 379.0h.01M380.8 371.2h.01M379.1 375.9h.01M377.7 374.4h.01M380.2 367.0h.01M382.0 371.9h.01M381.7 365.1h.01M378.6 375.9h.01M379.1 368.0h.01M380.8 373.1h.01M379.2 377.1h.01M381.2 383.4h.01M377.5 370.6h.01M378.6 375.0h.01M379.6 360.0h.01M379.9 357.1h.01M377.8 366.9h.01M378.2 372.0h.01M377.8 375.7h.01M380.4 364.6h.01" stroke="#aaa" stroke-width="0.56" stroke-linecap="round" fill="none"/>
<rect x="369.3" y="343.5" width="19.8" height="20.8" fill="none" stroke="#808080" stroke-width="1.3"/>
</g>
<path d="M332.4 320.3 H413.9 V400.2" fill="none" stroke="#9a9a9a" stroke-width="1"/>
<path d="M332.4 320.3 V400.2 H413.9" fill="none" stroke="#3a3a3a" stroke-width="1"/>
<path d="M332.40 399.40h-2.4M332.40 394.04h-1.2M332.40 390.91h-1.2M332.40 388.68h-1.2M332.40 386.96h-1.2M332.40 385.55h-1.2M332.40 384.36h-1.2M332.40 383.32h-1.2M332.40 382.41h-1.2M332.40 381.60h-2.4M332.40 376.24h-1.2M332.40 373.11h-1.2M332.40 370.88h-1.2M332.40 369.16h-1.2M332.40 367.75h-1.2M332.40 366.56h-1.2M332.40 365.52h-1.2M332.40 364.61h-1.2M332.40 363.80h-2.4M332.40 358.44h-1.2M332.40 355.31h-1.2M332.40 353.08h-1.2M332.40 351.36h-1.2M332.40 349.95h-1.2M332.40 348.76h-1.2M332.40 347.72h-1.2M332.40 346.81h-1.2M332.40 346.00h-2.4M332.40 340.64h-1.2M332.40 337.51h-1.2M332.40 335.28h-1.2M332.40 333.56h-1.2M332.40 332.15h-1.2M332.40 330.96h-1.2M332.40 329.92h-1.2M332.40 329.01h-1.2M332.40 328.20h-2.4M332.40 322.84h-1.2M334.30 400.20v1.2M337.75 400.20v1.2M340.20 400.20v1.2M342.10 400.20v1.2M343.65 400.20v1.2M344.96 400.20v1.2M346.10 400.20v1.2M347.10 400.20v1.2M348.00 400.20v2.4M353.90 400.20v1.2M357.35 400.20v1.2M359.80 400.20v1.2M361.70 400.20v1.2M363.25 400.20v1.2M364.56 400.20v1.2M365.70 400.20v1.2M366.70 400.20v1.2M367.60 400.20v2.4M373.50 400.20v1.2M376.95 400.20v1.2M379.40 400.20v1.2M381.30 400.20v1.2M382.85 400.20v1.2M384.16 400.20v1.2M385.30 400.20v1.2M386.30 400.20v1.2M387.20 400.20v2.4M393.10 400.20v1.2M396.55 400.20v1.2M399.00 400.20v1.2M400.90 400.20v1.2M402.45 400.20v1.2M403.76 400.20v1.2M404.90 400.20v1.2M405.90 400.20v1.2M406.80 400.20v2.4M412.70 400.20v1.2" stroke="#3a3a3a" stroke-width="0.7" fill="none"/>
<text x="329.4" y="328.4" font-size="2.9" text-anchor="middle" fill="#333" font-weight="normal" transform="rotate(-45 329.4 328.4)" >10<tspan font-size="2" dy="-1.2">5</tspan></text>
<text x="329.4" y="346.2" font-size="2.9" text-anchor="middle" fill="#333" font-weight="normal" transform="rotate(-45 329.4 346.2)" >10<tspan font-size="2" dy="-1.2">4</tspan></text>
<text x="329.4" y="364.0" font-size="2.9" text-anchor="middle" fill="#333" font-weight="normal" transform="rotate(-45 329.4 364.0)" >10<tspan font-size="2" dy="-1.2">3</tspan></text>
<text x="329.4" y="381.79999999999995" font-size="2.9" text-anchor="middle" fill="#333" font-weight="normal" transform="rotate(-45 329.4 381.79999999999995)" >10<tspan font-size="2" dy="-1.2">2</tspan></text>
<text x="348.0" y="405.6" font-size="2.9" text-anchor="middle" fill="#333" font-weight="normal" >0</text>
<text x="367.5" y="405.6" font-size="2.9" text-anchor="middle" fill="#333" font-weight="normal" >10<tspan font-size="2" dy="-1.2">3</tspan></text>
<text x="387.0" y="405.6" font-size="2.9" text-anchor="middle" fill="#333" font-weight="normal" >10<tspan font-size="2" dy="-1.2">4</tspan></text>
<text x="406.5" y="405.6" font-size="2.9" text-anchor="middle" fill="#333" font-weight="normal" >10<tspan font-size="2" dy="-1.2">5</tspan></text>
<text x="332.6" y="408.6" font-size="2.4" text-anchor="middle" fill="#333" font-weight="normal" >-1.160</text>
<text x="371.9" y="337.8" font-size="12.6" text-anchor="start" fill="#000" font-weight="bold" textLength="26.4" lengthAdjust="spacingAndGlyphs" >MKP</text>
<text x="323.6" y="269.5" font-size="13.4" text-anchor="start" fill="#000" font-weight="bold" textLength="36.4" lengthAdjust="spacingAndGlyphs" transform="rotate(-90 323.6 269.5)" >SSC-A</text>
<text x="360.4" y="316.3" font-size="13.4" text-anchor="start" fill="#000" font-weight="bold" textLength="32.4" lengthAdjust="spacingAndGlyphs" >FSC-A</text>
<text x="428.7" y="268.7" font-size="13.4" text-anchor="start" fill="#000" font-weight="bold" textLength="32.4" lengthAdjust="spacingAndGlyphs" transform="rotate(-90 428.7 268.7)" >FSC-A</text>
<text x="465.5" y="315.8" font-size="13.4" text-anchor="start" fill="#000" font-weight="bold" textLength="32.8" lengthAdjust="spacingAndGlyphs" >Lin/PI</text>
<text x="429.9" y="375.7" font-size="13.4" text-anchor="start" fill="#000" font-weight="bold" textLength="25" lengthAdjust="spacingAndGlyphs" transform="rotate(-90 429.9 375.7)" >c-Kit</text>
<text x="465.3" y="420.7" font-size="13.4" text-anchor="start" fill="#000" font-weight="bold" textLength="30" lengthAdjust="spacingAndGlyphs" >Sca-1</text>
<text x="323.6" y="377.0" font-size="13.4" text-anchor="start" fill="#000" font-weight="bold" textLength="28.5" lengthAdjust="spacingAndGlyphs" transform="rotate(-90 323.6 377.0)" >CD41</text>
<text x="354.8" y="420.7" font-size="13.4" text-anchor="start" fill="#000" font-weight="bold" textLength="37.4" lengthAdjust="spacingAndGlyphs" >CD150</text>
<path d="M444.5 334.2 H418.5" fill="none" stroke="#000" stroke-width="2.1"/>
<path d="M424 330.1 L417.2 334.2 L424 338.3" fill="none" stroke="#000" stroke-width="2.1"/>
<path d="M408.5 224.4 H428" fill="none" stroke="#000" stroke-width="2.0"/>
<path d="M422 220.5 L429.0 224.4 L422 228.5" fill="none" stroke="#000" stroke-width="2.0" stroke-linejoin="miter"/>
<path d="M448.2 284.6 V316" fill="none" stroke="#000" stroke-width="2.2"/>
<path d="M444.1 311.2 L448.2 317.8 L452.3 311.2" fill="none" stroke="#000" stroke-width="2.1"/>
</g>
</svg>
</body></html>
